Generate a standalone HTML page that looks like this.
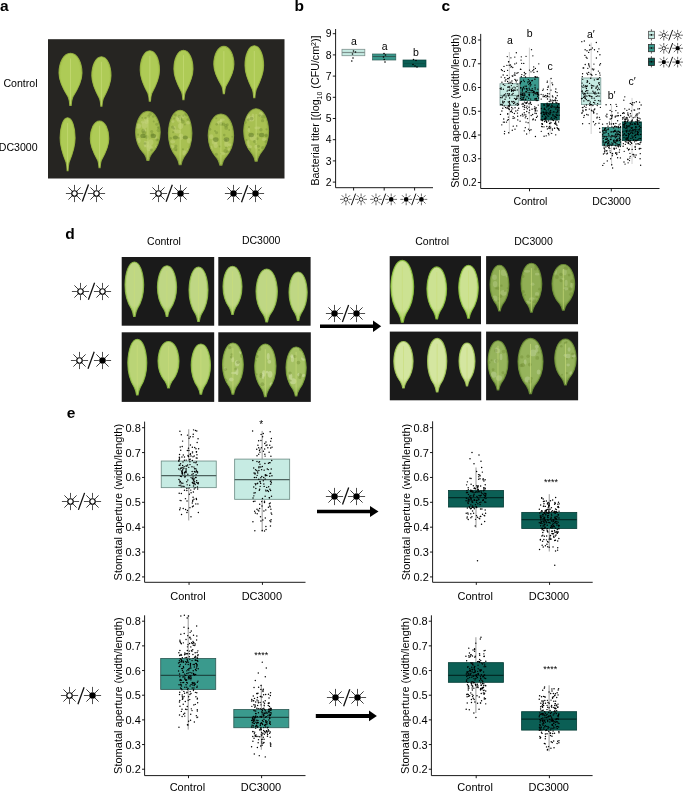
<!DOCTYPE html>
<html><head><meta charset="utf-8"><style>
html,body{margin:0;padding:0;background:#fff;}
body{width:685px;height:792px;overflow:hidden;}
svg{display:block;font-family:"Liberation Sans", sans-serif;will-change:transform;}
</style></head><body>
<svg width="685" height="792" viewBox="0 0 685 792">
<rect width="685" height="792" fill="#fff"/>
<text x="0.00" y="11.40" font-size="15.5" text-anchor="start" font-weight="bold" fill="#000" >a</text>
<rect x="48.00" y="39.20" width="236.50" height="139.30" fill="#262522"/>
<text x="37.60" y="87.30" font-size="10.6" text-anchor="end" font-weight="normal" fill="#000" >Control</text>
<text x="37.60" y="150.90" font-size="10.6" text-anchor="end" font-weight="normal" fill="#000" >DC3000</text>
<radialGradient id="g0" cx="0.5" cy="0.42" r="0.6"><stop offset="0" stop-color="#aecb56"/><stop offset="0.65" stop-color="#aecb56"/><stop offset="1" stop-color="#9dbb42"/></radialGradient>
<path transform="translate(59.00,53.30) scale(23.00,52.10)" d="M0.5 0 C0.8 0 1 0.18 1 0.38 C1 0.55 0.8 0.7 0.6 0.84 C0.56 0.88 0.54 0.94 0.53 1 L0.47 1 C0.46 0.94 0.44 0.88 0.4 0.84 C0.2 0.7 0 0.55 0 0.38 C0 0.18 0.2 0 0.5 0 Z" fill="url(#g0)"/>
<path d="M0.5 0 C0.8 0 1 0.18 1 0.38 C1 0.55 0.8 0.7 0.6 0.84 C0.56 0.88 0.54 0.94 0.53 1 L0.47 1 C0.46 0.94 0.44 0.88 0.4 0.84 C0.2 0.7 0 0.55 0 0.38 C0 0.18 0.2 0 0.5 0 Z" transform="translate(59.00,53.30) scale(23.00,52.10)" fill="none" stroke="#9dbb42" stroke-width="1.1" vector-effect="non-scaling-stroke" opacity="0.85"/>
<line x1="70.50" y1="58.51" x2="70.50" y2="104.36" stroke="#c8dc7a" stroke-width="0.9" opacity="0.7"/>
<path transform="translate(91.80,56.80) scale(19.20,49.50)" d="M0.5 0 C0.8 0 1 0.18 1 0.38 C1 0.55 0.8 0.7 0.6 0.84 C0.56 0.88 0.54 0.94 0.53 1 L0.47 1 C0.46 0.94 0.44 0.88 0.4 0.84 C0.2 0.7 0 0.55 0 0.38 C0 0.18 0.2 0 0.5 0 Z" fill="url(#g0)"/>
<path d="M0.5 0 C0.8 0 1 0.18 1 0.38 C1 0.55 0.8 0.7 0.6 0.84 C0.56 0.88 0.54 0.94 0.53 1 L0.47 1 C0.46 0.94 0.44 0.88 0.4 0.84 C0.2 0.7 0 0.55 0 0.38 C0 0.18 0.2 0 0.5 0 Z" transform="translate(91.80,56.80) scale(19.20,49.50)" fill="none" stroke="#9dbb42" stroke-width="1.1" vector-effect="non-scaling-stroke" opacity="0.85"/>
<line x1="101.40" y1="61.75" x2="101.40" y2="105.31" stroke="#c8dc7a" stroke-width="0.9" opacity="0.7"/>
<path transform="translate(140.20,50.70) scale(19.30,50.60)" d="M0.5 0 C0.8 0 1 0.18 1 0.38 C1 0.55 0.8 0.7 0.6 0.84 C0.56 0.88 0.54 0.94 0.53 1 L0.47 1 C0.46 0.94 0.44 0.88 0.4 0.84 C0.2 0.7 0 0.55 0 0.38 C0 0.18 0.2 0 0.5 0 Z" fill="url(#g0)"/>
<path d="M0.5 0 C0.8 0 1 0.18 1 0.38 C1 0.55 0.8 0.7 0.6 0.84 C0.56 0.88 0.54 0.94 0.53 1 L0.47 1 C0.46 0.94 0.44 0.88 0.4 0.84 C0.2 0.7 0 0.55 0 0.38 C0 0.18 0.2 0 0.5 0 Z" transform="translate(140.20,50.70) scale(19.30,50.60)" fill="none" stroke="#9dbb42" stroke-width="1.1" vector-effect="non-scaling-stroke" opacity="0.85"/>
<line x1="149.85" y1="55.76" x2="149.85" y2="100.29" stroke="#c8dc7a" stroke-width="0.9" opacity="0.7"/>
<path transform="translate(173.90,50.20) scale(19.10,49.60)" d="M0.5 0 C0.8 0 1 0.18 1 0.38 C1 0.55 0.8 0.7 0.6 0.84 C0.56 0.88 0.54 0.94 0.53 1 L0.47 1 C0.46 0.94 0.44 0.88 0.4 0.84 C0.2 0.7 0 0.55 0 0.38 C0 0.18 0.2 0 0.5 0 Z" fill="url(#g0)"/>
<path d="M0.5 0 C0.8 0 1 0.18 1 0.38 C1 0.55 0.8 0.7 0.6 0.84 C0.56 0.88 0.54 0.94 0.53 1 L0.47 1 C0.46 0.94 0.44 0.88 0.4 0.84 C0.2 0.7 0 0.55 0 0.38 C0 0.18 0.2 0 0.5 0 Z" transform="translate(173.90,50.20) scale(19.10,49.60)" fill="none" stroke="#9dbb42" stroke-width="1.1" vector-effect="non-scaling-stroke" opacity="0.85"/>
<line x1="183.45" y1="55.16" x2="183.45" y2="98.81" stroke="#c8dc7a" stroke-width="0.9" opacity="0.7"/>
<path transform="translate(213.80,46.40) scale(20.10,47.30)" d="M0.5 0 C0.8 0 1 0.18 1 0.38 C1 0.55 0.8 0.7 0.6 0.84 C0.56 0.88 0.54 0.94 0.53 1 L0.47 1 C0.46 0.94 0.44 0.88 0.4 0.84 C0.2 0.7 0 0.55 0 0.38 C0 0.18 0.2 0 0.5 0 Z" fill="url(#g0)"/>
<path d="M0.5 0 C0.8 0 1 0.18 1 0.38 C1 0.55 0.8 0.7 0.6 0.84 C0.56 0.88 0.54 0.94 0.53 1 L0.47 1 C0.46 0.94 0.44 0.88 0.4 0.84 C0.2 0.7 0 0.55 0 0.38 C0 0.18 0.2 0 0.5 0 Z" transform="translate(213.80,46.40) scale(20.10,47.30)" fill="none" stroke="#9dbb42" stroke-width="1.1" vector-effect="non-scaling-stroke" opacity="0.85"/>
<line x1="223.85" y1="51.13" x2="223.85" y2="92.75" stroke="#c8dc7a" stroke-width="0.9" opacity="0.7"/>
<path transform="translate(245.00,45.80) scale(18.60,52.00)" d="M0.5 0 C0.8 0 1 0.18 1 0.38 C1 0.55 0.8 0.7 0.6 0.84 C0.56 0.88 0.54 0.94 0.53 1 L0.47 1 C0.46 0.94 0.44 0.88 0.4 0.84 C0.2 0.7 0 0.55 0 0.38 C0 0.18 0.2 0 0.5 0 Z" fill="url(#g0)"/>
<path d="M0.5 0 C0.8 0 1 0.18 1 0.38 C1 0.55 0.8 0.7 0.6 0.84 C0.56 0.88 0.54 0.94 0.53 1 L0.47 1 C0.46 0.94 0.44 0.88 0.4 0.84 C0.2 0.7 0 0.55 0 0.38 C0 0.18 0.2 0 0.5 0 Z" transform="translate(245.00,45.80) scale(18.60,52.00)" fill="none" stroke="#9dbb42" stroke-width="1.1" vector-effect="non-scaling-stroke" opacity="0.85"/>
<line x1="254.30" y1="51.00" x2="254.30" y2="96.76" stroke="#c8dc7a" stroke-width="0.9" opacity="0.7"/>
<path transform="translate(60.10,117.80) scale(15.00,53.00)" d="M0.5 0 C0.8 0 1 0.18 1 0.38 C1 0.55 0.8 0.7 0.6 0.84 C0.56 0.88 0.54 0.94 0.53 1 L0.47 1 C0.46 0.94 0.44 0.88 0.4 0.84 C0.2 0.7 0 0.55 0 0.38 C0 0.18 0.2 0 0.5 0 Z" fill="url(#g0)"/>
<path d="M0.5 0 C0.8 0 1 0.18 1 0.38 C1 0.55 0.8 0.7 0.6 0.84 C0.56 0.88 0.54 0.94 0.53 1 L0.47 1 C0.46 0.94 0.44 0.88 0.4 0.84 C0.2 0.7 0 0.55 0 0.38 C0 0.18 0.2 0 0.5 0 Z" transform="translate(60.10,117.80) scale(15.00,53.00)" fill="none" stroke="#9dbb42" stroke-width="1.1" vector-effect="non-scaling-stroke" opacity="0.85"/>
<line x1="67.60" y1="123.10" x2="67.60" y2="169.74" stroke="#c8dc7a" stroke-width="0.9" opacity="0.7"/>
<path transform="translate(90.30,121.00) scale(18.50,46.60)" d="M0.5 0 C0.8 0 1 0.18 1 0.38 C1 0.55 0.8 0.7 0.6 0.84 C0.56 0.88 0.54 0.94 0.53 1 L0.47 1 C0.46 0.94 0.44 0.88 0.4 0.84 C0.2 0.7 0 0.55 0 0.38 C0 0.18 0.2 0 0.5 0 Z" fill="url(#g0)"/>
<path d="M0.5 0 C0.8 0 1 0.18 1 0.38 C1 0.55 0.8 0.7 0.6 0.84 C0.56 0.88 0.54 0.94 0.53 1 L0.47 1 C0.46 0.94 0.44 0.88 0.4 0.84 C0.2 0.7 0 0.55 0 0.38 C0 0.18 0.2 0 0.5 0 Z" transform="translate(90.30,121.00) scale(18.50,46.60)" fill="none" stroke="#9dbb42" stroke-width="1.1" vector-effect="non-scaling-stroke" opacity="0.85"/>
<line x1="99.55" y1="125.66" x2="99.55" y2="166.67" stroke="#c8dc7a" stroke-width="0.9" opacity="0.7"/>
<radialGradient id="g1" cx="0.5" cy="0.42" r="0.6"><stop offset="0" stop-color="#a8c052"/><stop offset="0.65" stop-color="#a8c052"/><stop offset="1" stop-color="#8eaa3e"/></radialGradient>
<clipPath id="lf9"><path transform="translate(135.60,111.40) scale(24.60,49.00)" d="M0.5 0 C0.78 0 0.98 0.18 1 0.42 C1 0.62 0.85 0.76 0.66 0.86 C0.6 0.9 0.56 0.95 0.54 1 L0.46 1 C0.44 0.95 0.4 0.9 0.34 0.86 C0.15 0.76 0 0.62 0 0.42 C0.02 0.18 0.22 0 0.5 0 Z"/></clipPath>
<path transform="translate(135.60,111.40) scale(24.60,49.00)" d="M0.5 0 C0.78 0 0.98 0.18 1 0.42 C1 0.62 0.85 0.76 0.66 0.86 C0.6 0.9 0.56 0.95 0.54 1 L0.46 1 C0.44 0.95 0.4 0.9 0.34 0.86 C0.15 0.76 0 0.62 0 0.42 C0.02 0.18 0.22 0 0.5 0 Z" fill="url(#g1)"/>
<g clip-path="url(#lf9)"><ellipse cx="142.79" cy="121.94" rx="2.00" ry="1.56" fill="#c2d27a" opacity="0.55"/><ellipse cx="146.06" cy="120.32" rx="2.25" ry="2.50" fill="#c2d27a" opacity="0.55"/><ellipse cx="144.92" cy="144.10" rx="1.26" ry="3.44" fill="#c2d27a" opacity="0.55"/><ellipse cx="146.61" cy="121.93" rx="1.97" ry="2.17" fill="#c2d27a" opacity="0.55"/><ellipse cx="138.20" cy="140.42" rx="2.48" ry="2.56" fill="#c2d27a" opacity="0.55"/><ellipse cx="150.58" cy="147.36" rx="2.17" ry="2.47" fill="#c2d27a" opacity="0.55"/><ellipse cx="156.58" cy="146.71" rx="1.55" ry="1.46" fill="#c2d27a" opacity="0.55"/><ellipse cx="155.84" cy="137.65" rx="1.24" ry="1.68" fill="#c2d27a" opacity="0.55"/><ellipse cx="144.61" cy="130.32" rx="1.72" ry="1.91" fill="#c2d27a" opacity="0.55"/><ellipse cx="149.00" cy="147.73" rx="2.60" ry="3.36" fill="#c2d27a" opacity="0.55"/><ellipse cx="138.20" cy="126.10" rx="2.99" ry="2.56" fill="#c2d27a" opacity="0.55"/><ellipse cx="144.50" cy="125.16" rx="2.90" ry="3.49" fill="#c2d27a" opacity="0.55"/><ellipse cx="150.79" cy="142.29" rx="2.68" ry="2.93" fill="#c2d27a" opacity="0.55"/><ellipse cx="146.81" cy="144.28" rx="2.48" ry="3.31" fill="#c2d27a" opacity="0.55"/></g>
<g clip-path="url(#lf9)"><circle cx="156.72" cy="124.29" r="1.51" fill="#6f8a30" opacity="0.4"/><circle cx="145.46" cy="118.09" r="1.21" fill="#6f8a30" opacity="0.4"/><circle cx="158.47" cy="127.78" r="0.96" fill="#6f8a30" opacity="0.4"/><circle cx="146.71" cy="136.85" r="1.94" fill="#6f8a30" opacity="0.4"/><circle cx="144.33" cy="136.83" r="1.16" fill="#6f8a30" opacity="0.4"/><circle cx="158.59" cy="130.37" r="1.92" fill="#6f8a30" opacity="0.4"/><circle cx="156.97" cy="139.93" r="1.45" fill="#6f8a30" opacity="0.4"/><circle cx="152.26" cy="134.63" r="1.77" fill="#6f8a30" opacity="0.4"/><circle cx="158.19" cy="127.41" r="1.26" fill="#6f8a30" opacity="0.4"/><circle cx="143.09" cy="131.00" r="1.96" fill="#6f8a30" opacity="0.4"/><circle cx="144.10" cy="132.83" r="2.20" fill="#6f8a30" opacity="0.4"/><circle cx="142.20" cy="117.85" r="0.88" fill="#6f8a30" opacity="0.4"/><circle cx="153.21" cy="116.57" r="1.30" fill="#6f8a30" opacity="0.4"/><circle cx="151.74" cy="131.57" r="1.54" fill="#6f8a30" opacity="0.4"/><circle cx="150.14" cy="114.13" r="1.66" fill="#6f8a30" opacity="0.4"/><circle cx="151.40" cy="149.95" r="1.44" fill="#6f8a30" opacity="0.4"/><circle cx="148.50" cy="116.47" r="1.37" fill="#6f8a30" opacity="0.4"/><circle cx="138.15" cy="134.63" r="1.01" fill="#6f8a30" opacity="0.4"/><circle cx="153.70" cy="121.40" r="1.02" fill="#6f8a30" opacity="0.4"/><circle cx="145.02" cy="143.49" r="1.35" fill="#6f8a30" opacity="0.4"/><circle cx="158.03" cy="139.82" r="1.08" fill="#6f8a30" opacity="0.4"/></g>
<ellipse cx="142.98" cy="135.90" rx="2.71" ry="2.21" fill="#5f7a28" opacity="0.55"/>
<ellipse cx="153.31" cy="135.90" rx="2.71" ry="2.21" fill="#5f7a28" opacity="0.55"/>
<path d="M0.5 0 C0.78 0 0.98 0.18 1 0.42 C1 0.62 0.85 0.76 0.66 0.86 C0.6 0.9 0.56 0.95 0.54 1 L0.46 1 C0.44 0.95 0.4 0.9 0.34 0.86 C0.15 0.76 0 0.62 0 0.42 C0.02 0.18 0.22 0 0.5 0 Z" transform="translate(135.60,111.40) scale(24.60,49.00)" fill="none" stroke="#8eaa3e" stroke-width="1.1" vector-effect="non-scaling-stroke" opacity="0.85"/>
<line x1="147.90" y1="116.30" x2="147.90" y2="159.42" stroke="#c8dc7a" stroke-width="0.9" opacity="0.7"/>
<clipPath id="lf10"><path transform="translate(168.40,110.20) scale(23.50,54.60)" d="M0.5 0 C0.78 0 0.98 0.18 1 0.42 C1 0.62 0.85 0.76 0.66 0.86 C0.6 0.9 0.56 0.95 0.54 1 L0.46 1 C0.44 0.95 0.4 0.9 0.34 0.86 C0.15 0.76 0 0.62 0 0.42 C0.02 0.18 0.22 0 0.5 0 Z"/></clipPath>
<path transform="translate(168.40,110.20) scale(23.50,54.60)" d="M0.5 0 C0.78 0 0.98 0.18 1 0.42 C1 0.62 0.85 0.76 0.66 0.86 C0.6 0.9 0.56 0.95 0.54 1 L0.46 1 C0.44 0.95 0.4 0.9 0.34 0.86 C0.15 0.76 0 0.62 0 0.42 C0.02 0.18 0.22 0 0.5 0 Z" fill="url(#g1)"/>
<g clip-path="url(#lf10)"><ellipse cx="180.52" cy="126.11" rx="2.68" ry="3.03" fill="#c2d27a" opacity="0.55"/><ellipse cx="182.92" cy="116.50" rx="1.68" ry="1.98" fill="#c2d27a" opacity="0.55"/><ellipse cx="189.11" cy="140.82" rx="2.26" ry="2.74" fill="#c2d27a" opacity="0.55"/><ellipse cx="172.73" cy="141.78" rx="2.51" ry="1.68" fill="#c2d27a" opacity="0.55"/><ellipse cx="177.50" cy="131.49" rx="3.11" ry="2.05" fill="#c2d27a" opacity="0.55"/><ellipse cx="171.27" cy="146.77" rx="2.93" ry="1.98" fill="#c2d27a" opacity="0.55"/><ellipse cx="184.39" cy="153.10" rx="1.99" ry="2.73" fill="#c2d27a" opacity="0.55"/><ellipse cx="181.04" cy="136.61" rx="2.28" ry="3.14" fill="#c2d27a" opacity="0.55"/><ellipse cx="188.06" cy="151.24" rx="1.46" ry="3.17" fill="#c2d27a" opacity="0.55"/><ellipse cx="172.93" cy="121.58" rx="1.50" ry="1.40" fill="#c2d27a" opacity="0.55"/><ellipse cx="179.01" cy="119.61" rx="2.07" ry="3.25" fill="#c2d27a" opacity="0.55"/><ellipse cx="178.49" cy="118.71" rx="2.71" ry="2.40" fill="#c2d27a" opacity="0.55"/><ellipse cx="174.21" cy="128.61" rx="1.71" ry="2.49" fill="#c2d27a" opacity="0.55"/><ellipse cx="188.09" cy="122.76" rx="2.07" ry="1.82" fill="#c2d27a" opacity="0.55"/></g>
<g clip-path="url(#lf10)"><circle cx="182.93" cy="149.27" r="1.10" fill="#6f8a30" opacity="0.4"/><circle cx="172.51" cy="126.95" r="1.56" fill="#6f8a30" opacity="0.4"/><circle cx="179.08" cy="138.02" r="1.12" fill="#6f8a30" opacity="0.4"/><circle cx="180.65" cy="118.83" r="1.62" fill="#6f8a30" opacity="0.4"/><circle cx="175.96" cy="146.07" r="1.50" fill="#6f8a30" opacity="0.4"/><circle cx="170.69" cy="138.31" r="1.25" fill="#6f8a30" opacity="0.4"/><circle cx="179.39" cy="116.62" r="1.73" fill="#6f8a30" opacity="0.4"/><circle cx="175.30" cy="115.02" r="1.44" fill="#6f8a30" opacity="0.4"/><circle cx="173.11" cy="132.26" r="1.05" fill="#6f8a30" opacity="0.4"/><circle cx="174.21" cy="118.47" r="1.05" fill="#6f8a30" opacity="0.4"/><circle cx="187.79" cy="119.48" r="1.31" fill="#6f8a30" opacity="0.4"/><circle cx="181.76" cy="119.90" r="1.04" fill="#6f8a30" opacity="0.4"/><circle cx="175.37" cy="149.08" r="2.03" fill="#6f8a30" opacity="0.4"/><circle cx="183.26" cy="115.71" r="1.09" fill="#6f8a30" opacity="0.4"/><circle cx="184.88" cy="124.52" r="0.96" fill="#6f8a30" opacity="0.4"/><circle cx="176.33" cy="150.36" r="1.06" fill="#6f8a30" opacity="0.4"/><circle cx="186.91" cy="114.70" r="1.70" fill="#6f8a30" opacity="0.4"/><circle cx="185.55" cy="114.02" r="1.43" fill="#6f8a30" opacity="0.4"/><circle cx="189.02" cy="150.79" r="1.62" fill="#6f8a30" opacity="0.4"/><circle cx="173.89" cy="128.57" r="1.18" fill="#6f8a30" opacity="0.4"/><circle cx="182.95" cy="121.63" r="1.84" fill="#6f8a30" opacity="0.4"/></g>
<ellipse cx="175.45" cy="137.50" rx="2.58" ry="2.11" fill="#5f7a28" opacity="0.55"/>
<ellipse cx="185.32" cy="137.50" rx="2.58" ry="2.11" fill="#5f7a28" opacity="0.55"/>
<path d="M0.5 0 C0.78 0 0.98 0.18 1 0.42 C1 0.62 0.85 0.76 0.66 0.86 C0.6 0.9 0.56 0.95 0.54 1 L0.46 1 C0.44 0.95 0.4 0.9 0.34 0.86 C0.15 0.76 0 0.62 0 0.42 C0.02 0.18 0.22 0 0.5 0 Z" transform="translate(168.40,110.20) scale(23.50,54.60)" fill="none" stroke="#8eaa3e" stroke-width="1.1" vector-effect="non-scaling-stroke" opacity="0.85"/>
<line x1="180.15" y1="115.66" x2="180.15" y2="163.71" stroke="#c8dc7a" stroke-width="0.9" opacity="0.7"/>
<clipPath id="lf11"><path transform="translate(208.20,114.00) scale(25.40,51.20)" d="M0.5 0 C0.78 0 0.98 0.18 1 0.42 C1 0.62 0.85 0.76 0.66 0.86 C0.6 0.9 0.56 0.95 0.54 1 L0.46 1 C0.44 0.95 0.4 0.9 0.34 0.86 C0.15 0.76 0 0.62 0 0.42 C0.02 0.18 0.22 0 0.5 0 Z"/></clipPath>
<path transform="translate(208.20,114.00) scale(25.40,51.20)" d="M0.5 0 C0.78 0 0.98 0.18 1 0.42 C1 0.62 0.85 0.76 0.66 0.86 C0.6 0.9 0.56 0.95 0.54 1 L0.46 1 C0.44 0.95 0.4 0.9 0.34 0.86 C0.15 0.76 0 0.62 0 0.42 C0.02 0.18 0.22 0 0.5 0 Z" fill="url(#g1)"/>
<g clip-path="url(#lf11)"><ellipse cx="229.16" cy="149.63" rx="1.29" ry="1.72" fill="#c2d27a" opacity="0.55"/><ellipse cx="215.71" cy="145.39" rx="2.19" ry="2.52" fill="#c2d27a" opacity="0.55"/><ellipse cx="226.22" cy="140.14" rx="2.88" ry="1.43" fill="#c2d27a" opacity="0.55"/><ellipse cx="223.08" cy="153.48" rx="2.47" ry="1.46" fill="#c2d27a" opacity="0.55"/><ellipse cx="228.31" cy="153.86" rx="1.78" ry="2.26" fill="#c2d27a" opacity="0.55"/><ellipse cx="219.42" cy="122.47" rx="2.42" ry="1.94" fill="#c2d27a" opacity="0.55"/><ellipse cx="214.71" cy="141.93" rx="2.90" ry="2.58" fill="#c2d27a" opacity="0.55"/><ellipse cx="226.47" cy="143.79" rx="2.22" ry="3.38" fill="#c2d27a" opacity="0.55"/><ellipse cx="226.52" cy="139.65" rx="1.91" ry="1.81" fill="#c2d27a" opacity="0.55"/><ellipse cx="229.67" cy="144.85" rx="1.89" ry="1.50" fill="#c2d27a" opacity="0.55"/><ellipse cx="220.98" cy="121.78" rx="1.41" ry="2.21" fill="#c2d27a" opacity="0.55"/><ellipse cx="211.16" cy="148.90" rx="1.52" ry="3.37" fill="#c2d27a" opacity="0.55"/><ellipse cx="222.36" cy="119.82" rx="2.54" ry="1.29" fill="#c2d27a" opacity="0.55"/><ellipse cx="211.24" cy="136.78" rx="2.23" ry="2.46" fill="#c2d27a" opacity="0.55"/></g>
<g clip-path="url(#lf11)"><circle cx="227.36" cy="124.76" r="1.42" fill="#6f8a30" opacity="0.4"/><circle cx="227.66" cy="151.89" r="1.56" fill="#6f8a30" opacity="0.4"/><circle cx="220.69" cy="153.75" r="0.80" fill="#6f8a30" opacity="0.4"/><circle cx="226.14" cy="147.67" r="1.11" fill="#6f8a30" opacity="0.4"/><circle cx="209.99" cy="129.28" r="1.37" fill="#6f8a30" opacity="0.4"/><circle cx="232.25" cy="136.71" r="0.96" fill="#6f8a30" opacity="0.4"/><circle cx="223.72" cy="124.18" r="1.79" fill="#6f8a30" opacity="0.4"/><circle cx="216.36" cy="154.23" r="1.60" fill="#6f8a30" opacity="0.4"/><circle cx="225.82" cy="125.71" r="1.81" fill="#6f8a30" opacity="0.4"/><circle cx="229.22" cy="130.05" r="0.94" fill="#6f8a30" opacity="0.4"/><circle cx="226.25" cy="127.92" r="1.91" fill="#6f8a30" opacity="0.4"/><circle cx="231.20" cy="153.11" r="1.97" fill="#6f8a30" opacity="0.4"/><circle cx="226.00" cy="139.95" r="1.25" fill="#6f8a30" opacity="0.4"/><circle cx="216.59" cy="132.84" r="1.49" fill="#6f8a30" opacity="0.4"/><circle cx="216.69" cy="124.37" r="1.26" fill="#6f8a30" opacity="0.4"/><circle cx="219.78" cy="146.52" r="1.06" fill="#6f8a30" opacity="0.4"/><circle cx="225.47" cy="151.07" r="2.12" fill="#6f8a30" opacity="0.4"/><circle cx="221.26" cy="124.02" r="1.96" fill="#6f8a30" opacity="0.4"/><circle cx="224.26" cy="135.09" r="1.30" fill="#6f8a30" opacity="0.4"/><circle cx="216.28" cy="118.22" r="1.05" fill="#6f8a30" opacity="0.4"/><circle cx="215.04" cy="130.97" r="0.99" fill="#6f8a30" opacity="0.4"/></g>
<ellipse cx="215.82" cy="139.60" rx="2.79" ry="2.29" fill="#5f7a28" opacity="0.55"/>
<ellipse cx="226.49" cy="139.60" rx="2.79" ry="2.29" fill="#5f7a28" opacity="0.55"/>
<path d="M0.5 0 C0.78 0 0.98 0.18 1 0.42 C1 0.62 0.85 0.76 0.66 0.86 C0.6 0.9 0.56 0.95 0.54 1 L0.46 1 C0.44 0.95 0.4 0.9 0.34 0.86 C0.15 0.76 0 0.62 0 0.42 C0.02 0.18 0.22 0 0.5 0 Z" transform="translate(208.20,114.00) scale(25.40,51.20)" fill="none" stroke="#8eaa3e" stroke-width="1.1" vector-effect="non-scaling-stroke" opacity="0.85"/>
<line x1="220.90" y1="119.12" x2="220.90" y2="164.18" stroke="#c8dc7a" stroke-width="0.9" opacity="0.7"/>
<clipPath id="lf12"><path transform="translate(243.70,108.80) scale(24.90,52.50)" d="M0.5 0 C0.78 0 0.98 0.18 1 0.42 C1 0.62 0.85 0.76 0.66 0.86 C0.6 0.9 0.56 0.95 0.54 1 L0.46 1 C0.44 0.95 0.4 0.9 0.34 0.86 C0.15 0.76 0 0.62 0 0.42 C0.02 0.18 0.22 0 0.5 0 Z"/></clipPath>
<path transform="translate(243.70,108.80) scale(24.90,52.50)" d="M0.5 0 C0.78 0 0.98 0.18 1 0.42 C1 0.62 0.85 0.76 0.66 0.86 C0.6 0.9 0.56 0.95 0.54 1 L0.46 1 C0.44 0.95 0.4 0.9 0.34 0.86 C0.15 0.76 0 0.62 0 0.42 C0.02 0.18 0.22 0 0.5 0 Z" fill="url(#g1)"/>
<g clip-path="url(#lf12)"><ellipse cx="255.91" cy="146.72" rx="1.69" ry="2.02" fill="#c2d27a" opacity="0.55"/><ellipse cx="250.63" cy="119.84" rx="3.04" ry="1.51" fill="#c2d27a" opacity="0.55"/><ellipse cx="257.37" cy="127.88" rx="3.06" ry="1.40" fill="#c2d27a" opacity="0.55"/><ellipse cx="248.87" cy="130.13" rx="1.27" ry="2.11" fill="#c2d27a" opacity="0.55"/><ellipse cx="261.26" cy="114.13" rx="2.35" ry="2.72" fill="#c2d27a" opacity="0.55"/><ellipse cx="248.30" cy="143.04" rx="1.30" ry="3.15" fill="#c2d27a" opacity="0.55"/><ellipse cx="249.07" cy="146.78" rx="3.01" ry="1.78" fill="#c2d27a" opacity="0.55"/><ellipse cx="247.02" cy="116.83" rx="1.51" ry="2.93" fill="#c2d27a" opacity="0.55"/><ellipse cx="251.54" cy="118.70" rx="2.85" ry="2.62" fill="#c2d27a" opacity="0.55"/><ellipse cx="248.19" cy="116.38" rx="1.69" ry="3.06" fill="#c2d27a" opacity="0.55"/><ellipse cx="264.03" cy="139.46" rx="2.15" ry="1.60" fill="#c2d27a" opacity="0.55"/><ellipse cx="252.81" cy="137.64" rx="2.96" ry="2.99" fill="#c2d27a" opacity="0.55"/><ellipse cx="252.95" cy="115.59" rx="1.33" ry="2.12" fill="#c2d27a" opacity="0.55"/><ellipse cx="246.57" cy="149.14" rx="2.23" ry="3.20" fill="#c2d27a" opacity="0.55"/></g>
<g clip-path="url(#lf12)"><circle cx="259.66" cy="115.57" r="1.22" fill="#6f8a30" opacity="0.4"/><circle cx="260.95" cy="129.78" r="1.69" fill="#6f8a30" opacity="0.4"/><circle cx="258.47" cy="146.29" r="1.51" fill="#6f8a30" opacity="0.4"/><circle cx="262.72" cy="147.68" r="1.67" fill="#6f8a30" opacity="0.4"/><circle cx="245.21" cy="122.41" r="1.43" fill="#6f8a30" opacity="0.4"/><circle cx="266.55" cy="129.31" r="1.11" fill="#6f8a30" opacity="0.4"/><circle cx="251.58" cy="118.65" r="1.83" fill="#6f8a30" opacity="0.4"/><circle cx="257.69" cy="133.99" r="0.98" fill="#6f8a30" opacity="0.4"/><circle cx="258.93" cy="149.94" r="1.06" fill="#6f8a30" opacity="0.4"/><circle cx="256.10" cy="144.06" r="1.11" fill="#6f8a30" opacity="0.4"/><circle cx="266.11" cy="135.33" r="1.71" fill="#6f8a30" opacity="0.4"/><circle cx="249.07" cy="149.93" r="2.19" fill="#6f8a30" opacity="0.4"/><circle cx="254.59" cy="141.62" r="1.59" fill="#6f8a30" opacity="0.4"/><circle cx="262.56" cy="120.64" r="1.66" fill="#6f8a30" opacity="0.4"/><circle cx="266.26" cy="135.71" r="1.72" fill="#6f8a30" opacity="0.4"/><circle cx="248.44" cy="119.65" r="1.33" fill="#6f8a30" opacity="0.4"/><circle cx="263.16" cy="116.73" r="2.12" fill="#6f8a30" opacity="0.4"/><circle cx="266.26" cy="141.73" r="1.74" fill="#6f8a30" opacity="0.4"/><circle cx="257.20" cy="138.72" r="1.42" fill="#6f8a30" opacity="0.4"/><circle cx="246.63" cy="139.93" r="0.85" fill="#6f8a30" opacity="0.4"/><circle cx="249.00" cy="127.01" r="0.98" fill="#6f8a30" opacity="0.4"/></g>
<ellipse cx="251.17" cy="135.05" rx="2.74" ry="2.24" fill="#5f7a28" opacity="0.55"/>
<ellipse cx="261.63" cy="135.05" rx="2.74" ry="2.24" fill="#5f7a28" opacity="0.55"/>
<path d="M0.5 0 C0.78 0 0.98 0.18 1 0.42 C1 0.62 0.85 0.76 0.66 0.86 C0.6 0.9 0.56 0.95 0.54 1 L0.46 1 C0.44 0.95 0.4 0.9 0.34 0.86 C0.15 0.76 0 0.62 0 0.42 C0.02 0.18 0.22 0 0.5 0 Z" transform="translate(243.70,108.80) scale(24.90,52.50)" fill="none" stroke="#8eaa3e" stroke-width="1.1" vector-effect="non-scaling-stroke" opacity="0.85"/>
<line x1="256.15" y1="114.05" x2="256.15" y2="160.25" stroke="#c8dc7a" stroke-width="0.9" opacity="0.7"/>
<line x1="78.10" y1="193.50" x2="83.10" y2="193.50" stroke="#444" stroke-width="0.95"/>
<line x1="77.05" y1="196.05" x2="80.58" y2="199.58" stroke="#333" stroke-width="0.95"/>
<line x1="74.50" y1="197.10" x2="74.50" y2="202.10" stroke="#444" stroke-width="0.95"/>
<line x1="71.95" y1="196.05" x2="68.42" y2="199.58" stroke="#333" stroke-width="0.95"/>
<line x1="70.90" y1="193.50" x2="65.90" y2="193.50" stroke="#444" stroke-width="0.95"/>
<line x1="71.95" y1="190.95" x2="68.42" y2="187.42" stroke="#333" stroke-width="0.95"/>
<line x1="74.50" y1="189.90" x2="74.50" y2="184.90" stroke="#444" stroke-width="0.95"/>
<line x1="77.05" y1="190.95" x2="80.58" y2="187.42" stroke="#333" stroke-width="0.95"/>
<circle cx="74.50" cy="193.50" r="2.75" fill="#fff" stroke="#000" stroke-width="1.2"/>
<line x1="100.10" y1="193.50" x2="105.10" y2="193.50" stroke="#444" stroke-width="0.95"/>
<line x1="99.05" y1="196.05" x2="102.58" y2="199.58" stroke="#333" stroke-width="0.95"/>
<line x1="96.50" y1="197.10" x2="96.50" y2="202.10" stroke="#444" stroke-width="0.95"/>
<line x1="93.95" y1="196.05" x2="90.42" y2="199.58" stroke="#333" stroke-width="0.95"/>
<line x1="92.90" y1="193.50" x2="87.90" y2="193.50" stroke="#444" stroke-width="0.95"/>
<line x1="93.95" y1="190.95" x2="90.42" y2="187.42" stroke="#333" stroke-width="0.95"/>
<line x1="96.50" y1="189.90" x2="96.50" y2="184.90" stroke="#444" stroke-width="0.95"/>
<line x1="99.05" y1="190.95" x2="102.58" y2="187.42" stroke="#333" stroke-width="0.95"/>
<circle cx="96.50" cy="193.50" r="2.75" fill="#fff" stroke="#000" stroke-width="1.2"/>
<line x1="88.50" y1="184.50" x2="82.30" y2="201.50" stroke="#111" stroke-width="1.3"/>
<line x1="162.10" y1="193.50" x2="167.10" y2="193.50" stroke="#444" stroke-width="0.95"/>
<line x1="161.05" y1="196.05" x2="164.58" y2="199.58" stroke="#333" stroke-width="0.95"/>
<line x1="158.50" y1="197.10" x2="158.50" y2="202.10" stroke="#444" stroke-width="0.95"/>
<line x1="155.95" y1="196.05" x2="152.42" y2="199.58" stroke="#333" stroke-width="0.95"/>
<line x1="154.90" y1="193.50" x2="149.90" y2="193.50" stroke="#444" stroke-width="0.95"/>
<line x1="155.95" y1="190.95" x2="152.42" y2="187.42" stroke="#333" stroke-width="0.95"/>
<line x1="158.50" y1="189.90" x2="158.50" y2="184.90" stroke="#444" stroke-width="0.95"/>
<line x1="161.05" y1="190.95" x2="164.58" y2="187.42" stroke="#333" stroke-width="0.95"/>
<circle cx="158.50" cy="193.50" r="2.75" fill="#fff" stroke="#000" stroke-width="1.2"/>
<line x1="184.10" y1="193.50" x2="189.10" y2="193.50" stroke="#444" stroke-width="0.95"/>
<line x1="183.05" y1="196.05" x2="186.58" y2="199.58" stroke="#333" stroke-width="0.95"/>
<line x1="180.50" y1="197.10" x2="180.50" y2="202.10" stroke="#444" stroke-width="0.95"/>
<line x1="177.95" y1="196.05" x2="174.42" y2="199.58" stroke="#333" stroke-width="0.95"/>
<line x1="176.90" y1="193.50" x2="171.90" y2="193.50" stroke="#444" stroke-width="0.95"/>
<line x1="177.95" y1="190.95" x2="174.42" y2="187.42" stroke="#333" stroke-width="0.95"/>
<line x1="180.50" y1="189.90" x2="180.50" y2="184.90" stroke="#444" stroke-width="0.95"/>
<line x1="183.05" y1="190.95" x2="186.58" y2="187.42" stroke="#333" stroke-width="0.95"/>
<circle cx="180.50" cy="193.50" r="3.25" fill="#000"/>
<line x1="172.30" y1="184.80" x2="166.10" y2="201.80" stroke="#111" stroke-width="1.3"/>
<line x1="237.10" y1="193.50" x2="242.10" y2="193.50" stroke="#444" stroke-width="0.95"/>
<line x1="236.05" y1="196.05" x2="239.58" y2="199.58" stroke="#333" stroke-width="0.95"/>
<line x1="233.50" y1="197.10" x2="233.50" y2="202.10" stroke="#444" stroke-width="0.95"/>
<line x1="230.95" y1="196.05" x2="227.42" y2="199.58" stroke="#333" stroke-width="0.95"/>
<line x1="229.90" y1="193.50" x2="224.90" y2="193.50" stroke="#444" stroke-width="0.95"/>
<line x1="230.95" y1="190.95" x2="227.42" y2="187.42" stroke="#333" stroke-width="0.95"/>
<line x1="233.50" y1="189.90" x2="233.50" y2="184.90" stroke="#444" stroke-width="0.95"/>
<line x1="236.05" y1="190.95" x2="239.58" y2="187.42" stroke="#333" stroke-width="0.95"/>
<circle cx="233.50" cy="193.50" r="3.25" fill="#000"/>
<line x1="259.10" y1="193.50" x2="264.10" y2="193.50" stroke="#444" stroke-width="0.95"/>
<line x1="258.05" y1="196.05" x2="261.58" y2="199.58" stroke="#333" stroke-width="0.95"/>
<line x1="255.50" y1="197.10" x2="255.50" y2="202.10" stroke="#444" stroke-width="0.95"/>
<line x1="252.95" y1="196.05" x2="249.42" y2="199.58" stroke="#333" stroke-width="0.95"/>
<line x1="251.90" y1="193.50" x2="246.90" y2="193.50" stroke="#444" stroke-width="0.95"/>
<line x1="252.95" y1="190.95" x2="249.42" y2="187.42" stroke="#333" stroke-width="0.95"/>
<line x1="255.50" y1="189.90" x2="255.50" y2="184.90" stroke="#444" stroke-width="0.95"/>
<line x1="258.05" y1="190.95" x2="261.58" y2="187.42" stroke="#333" stroke-width="0.95"/>
<circle cx="255.50" cy="193.50" r="3.25" fill="#000"/>
<line x1="247.70" y1="185.30" x2="241.50" y2="202.30" stroke="#111" stroke-width="1.3"/>
<text x="294.60" y="11.20" font-size="15.5" text-anchor="start" font-weight="bold" fill="#000" >b</text>
<line x1="335.60" y1="29.00" x2="335.60" y2="187.70" stroke="#000" stroke-width="0.9"/>
<line x1="335.60" y1="187.70" x2="433.00" y2="187.70" stroke="#000" stroke-width="0.9"/>
<line x1="332.80" y1="182.10" x2="335.60" y2="182.10" stroke="#000" stroke-width="0.9"/>
<text x="331.60" y="185.88" font-size="10.5" text-anchor="end" font-weight="normal" fill="#000" >2</text>
<line x1="332.80" y1="160.90" x2="335.60" y2="160.90" stroke="#000" stroke-width="0.9"/>
<text x="331.60" y="164.68" font-size="10.5" text-anchor="end" font-weight="normal" fill="#000" >3</text>
<line x1="332.80" y1="139.70" x2="335.60" y2="139.70" stroke="#000" stroke-width="0.9"/>
<text x="331.60" y="143.48" font-size="10.5" text-anchor="end" font-weight="normal" fill="#000" >4</text>
<line x1="332.80" y1="118.50" x2="335.60" y2="118.50" stroke="#000" stroke-width="0.9"/>
<text x="331.60" y="122.28" font-size="10.5" text-anchor="end" font-weight="normal" fill="#000" >5</text>
<line x1="332.80" y1="97.30" x2="335.60" y2="97.30" stroke="#000" stroke-width="0.9"/>
<text x="331.60" y="101.08" font-size="10.5" text-anchor="end" font-weight="normal" fill="#000" >6</text>
<line x1="332.80" y1="76.10" x2="335.60" y2="76.10" stroke="#000" stroke-width="0.9"/>
<text x="331.60" y="79.88" font-size="10.5" text-anchor="end" font-weight="normal" fill="#000" >7</text>
<line x1="332.80" y1="54.90" x2="335.60" y2="54.90" stroke="#000" stroke-width="0.9"/>
<text x="331.60" y="58.68" font-size="10.5" text-anchor="end" font-weight="normal" fill="#000" >8</text>
<line x1="332.80" y1="33.70" x2="335.60" y2="33.70" stroke="#000" stroke-width="0.9"/>
<text x="331.60" y="37.48" font-size="10.5" text-anchor="end" font-weight="normal" fill="#000" >9</text>
<line x1="353.60" y1="187.70" x2="353.60" y2="190.50" stroke="#000" stroke-width="0.9"/>
<line x1="384.20" y1="187.70" x2="384.20" y2="190.50" stroke="#000" stroke-width="0.9"/>
<line x1="414.60" y1="187.70" x2="414.60" y2="190.50" stroke="#000" stroke-width="0.9"/>
<text transform="translate(319,110.5) rotate(-90)" font-size="10.7" text-anchor="middle">Bacterial titer [(log<tspan font-size="7" dy="2.5">10</tspan><tspan dy="-2.5"> (CFU/cm</tspan><tspan font-size="7" dy="-3.5">2</tspan><tspan dy="3.5">)]</tspan></text>
<line x1="353.40" y1="49.00" x2="353.40" y2="56.00" stroke="#bbb" stroke-width="0.8"/>
<rect x="342.00" y="49.30" width="22.80" height="6.40" fill="#c6ebe3" stroke="#7d918d" stroke-width="0.8"/>
<line x1="342.00" y1="52.50" x2="364.80" y2="52.50" stroke="#7d918d" stroke-width="1.2000000000000002"/>
<line x1="384.20" y1="54.00" x2="384.20" y2="60.00" stroke="#bbb" stroke-width="0.7"/>
<rect x="372.60" y="54.00" width="23.20" height="6.00" fill="#3a9a8d" stroke="#2f5d57" stroke-width="0.7"/>
<line x1="372.60" y1="56.50" x2="395.80" y2="56.50" stroke="#2f5d57" stroke-width="1.1"/>
<line x1="414.60" y1="60.00" x2="414.60" y2="67.00" stroke="#bbb" stroke-width="0.7"/>
<rect x="403.00" y="60.00" width="23.00" height="7.00" fill="#0b5f55" stroke="#08403a" stroke-width="0.7"/>
<line x1="403.00" y1="63.50" x2="426.00" y2="63.50" stroke="#0a5248" stroke-width="1.1"/>
<g fill="#000"><circle cx="353.50" cy="51.00" r="0.8"/><circle cx="355.50" cy="52.00" r="0.8"/><circle cx="352.50" cy="54.00" r="0.8"/><circle cx="353.00" cy="58.00" r="0.8"/><circle cx="351.80" cy="61.00" r="0.8"/></g>
<g fill="#000"><circle cx="384.00" cy="53.50" r="0.8"/><circle cx="385.50" cy="55.00" r="0.8"/><circle cx="383.50" cy="57.00" r="0.8"/><circle cx="384.20" cy="59.50" r="0.8"/><circle cx="385.00" cy="62.00" r="0.8"/></g>
<g fill="#000"><circle cx="413.50" cy="59.50" r="0.8"/><circle cx="416.00" cy="60.50" r="0.8"/><circle cx="413.00" cy="64.50" r="0.8"/><circle cx="415.00" cy="66.00" r="0.8"/><circle cx="417.00" cy="67.00" r="0.8"/></g>
<text x="353.80" y="45.30" font-size="10.5" text-anchor="middle" font-weight="normal" fill="#000" >a</text>
<text x="384.60" y="49.60" font-size="10.5" text-anchor="middle" font-weight="normal" fill="#000" >a</text>
<text x="416.00" y="55.70" font-size="10.5" text-anchor="middle" font-weight="normal" fill="#000" >b</text>
<line x1="348.81" y1="199.40" x2="351.73" y2="199.40" stroke="#444" stroke-width="0.8"/>
<line x1="347.95" y1="201.47" x2="350.02" y2="203.54" stroke="#333" stroke-width="0.8"/>
<line x1="345.88" y1="202.32" x2="345.88" y2="205.25" stroke="#444" stroke-width="0.8"/>
<line x1="343.82" y1="201.47" x2="341.75" y2="203.54" stroke="#333" stroke-width="0.8"/>
<line x1="342.96" y1="199.40" x2="340.04" y2="199.40" stroke="#444" stroke-width="0.8"/>
<line x1="343.82" y1="197.33" x2="341.75" y2="195.26" stroke="#333" stroke-width="0.8"/>
<line x1="345.88" y1="196.48" x2="345.88" y2="193.55" stroke="#444" stroke-width="0.8"/>
<line x1="347.95" y1="197.33" x2="350.02" y2="195.26" stroke="#333" stroke-width="0.8"/>
<circle cx="345.88" cy="199.40" r="1.87" fill="#fff" stroke="#000" stroke-width="0.85"/>
<line x1="364.04" y1="199.40" x2="366.96" y2="199.40" stroke="#444" stroke-width="0.8"/>
<line x1="363.18" y1="201.47" x2="365.25" y2="203.54" stroke="#333" stroke-width="0.8"/>
<line x1="361.12" y1="202.32" x2="361.12" y2="205.25" stroke="#444" stroke-width="0.8"/>
<line x1="359.05" y1="201.47" x2="356.98" y2="203.54" stroke="#333" stroke-width="0.8"/>
<line x1="358.19" y1="199.40" x2="355.27" y2="199.40" stroke="#444" stroke-width="0.8"/>
<line x1="359.05" y1="197.33" x2="356.98" y2="195.26" stroke="#333" stroke-width="0.8"/>
<line x1="361.12" y1="196.48" x2="361.12" y2="193.55" stroke="#444" stroke-width="0.8"/>
<line x1="363.18" y1="197.33" x2="365.25" y2="195.26" stroke="#333" stroke-width="0.8"/>
<circle cx="361.12" cy="199.40" r="1.87" fill="#fff" stroke="#000" stroke-width="0.85"/>
<line x1="355.61" y1="193.62" x2="351.39" y2="205.18" stroke="#111" stroke-width="1.0"/>
<line x1="378.91" y1="199.40" x2="381.83" y2="199.40" stroke="#444" stroke-width="0.8"/>
<line x1="378.05" y1="201.47" x2="380.12" y2="203.54" stroke="#333" stroke-width="0.8"/>
<line x1="375.98" y1="202.32" x2="375.98" y2="205.25" stroke="#444" stroke-width="0.8"/>
<line x1="373.92" y1="201.47" x2="371.85" y2="203.54" stroke="#333" stroke-width="0.8"/>
<line x1="373.06" y1="199.40" x2="370.14" y2="199.40" stroke="#444" stroke-width="0.8"/>
<line x1="373.92" y1="197.33" x2="371.85" y2="195.26" stroke="#333" stroke-width="0.8"/>
<line x1="375.98" y1="196.48" x2="375.98" y2="193.55" stroke="#444" stroke-width="0.8"/>
<line x1="378.05" y1="197.33" x2="380.12" y2="195.26" stroke="#333" stroke-width="0.8"/>
<circle cx="375.98" cy="199.40" r="1.87" fill="#fff" stroke="#000" stroke-width="0.85"/>
<line x1="394.14" y1="199.40" x2="397.06" y2="199.40" stroke="#444" stroke-width="0.8"/>
<line x1="393.28" y1="201.47" x2="395.35" y2="203.54" stroke="#333" stroke-width="0.8"/>
<line x1="391.22" y1="202.32" x2="391.22" y2="205.25" stroke="#444" stroke-width="0.8"/>
<line x1="389.15" y1="201.47" x2="387.08" y2="203.54" stroke="#333" stroke-width="0.8"/>
<line x1="388.29" y1="199.40" x2="385.37" y2="199.40" stroke="#444" stroke-width="0.8"/>
<line x1="389.15" y1="197.33" x2="387.08" y2="195.26" stroke="#333" stroke-width="0.8"/>
<line x1="391.22" y1="196.48" x2="391.22" y2="193.55" stroke="#444" stroke-width="0.8"/>
<line x1="393.28" y1="197.33" x2="395.35" y2="195.26" stroke="#333" stroke-width="0.8"/>
<circle cx="391.22" cy="199.40" r="2.37" fill="#000"/>
<line x1="385.71" y1="193.62" x2="381.49" y2="205.18" stroke="#111" stroke-width="1.0"/>
<line x1="409.11" y1="199.40" x2="412.03" y2="199.40" stroke="#444" stroke-width="0.8"/>
<line x1="408.25" y1="201.47" x2="410.32" y2="203.54" stroke="#333" stroke-width="0.8"/>
<line x1="406.18" y1="202.32" x2="406.18" y2="205.25" stroke="#444" stroke-width="0.8"/>
<line x1="404.12" y1="201.47" x2="402.05" y2="203.54" stroke="#333" stroke-width="0.8"/>
<line x1="403.26" y1="199.40" x2="400.34" y2="199.40" stroke="#444" stroke-width="0.8"/>
<line x1="404.12" y1="197.33" x2="402.05" y2="195.26" stroke="#333" stroke-width="0.8"/>
<line x1="406.18" y1="196.48" x2="406.18" y2="193.55" stroke="#444" stroke-width="0.8"/>
<line x1="408.25" y1="197.33" x2="410.32" y2="195.26" stroke="#333" stroke-width="0.8"/>
<circle cx="406.18" cy="199.40" r="2.37" fill="#000"/>
<line x1="424.34" y1="199.40" x2="427.26" y2="199.40" stroke="#444" stroke-width="0.8"/>
<line x1="423.48" y1="201.47" x2="425.55" y2="203.54" stroke="#333" stroke-width="0.8"/>
<line x1="421.42" y1="202.32" x2="421.42" y2="205.25" stroke="#444" stroke-width="0.8"/>
<line x1="419.35" y1="201.47" x2="417.28" y2="203.54" stroke="#333" stroke-width="0.8"/>
<line x1="418.49" y1="199.40" x2="415.57" y2="199.40" stroke="#444" stroke-width="0.8"/>
<line x1="419.35" y1="197.33" x2="417.28" y2="195.26" stroke="#333" stroke-width="0.8"/>
<line x1="421.42" y1="196.48" x2="421.42" y2="193.55" stroke="#444" stroke-width="0.8"/>
<line x1="423.48" y1="197.33" x2="425.55" y2="195.26" stroke="#333" stroke-width="0.8"/>
<circle cx="421.42" cy="199.40" r="2.37" fill="#000"/>
<line x1="415.91" y1="193.62" x2="411.69" y2="205.18" stroke="#111" stroke-width="1.0"/>
<text x="441.50" y="11.40" font-size="15.5" text-anchor="start" font-weight="bold" fill="#000" >c</text>
<line x1="480.70" y1="33.90" x2="480.70" y2="188.50" stroke="#000" stroke-width="0.9"/>
<line x1="480.70" y1="188.50" x2="659.50" y2="188.50" stroke="#000" stroke-width="0.9"/>
<line x1="477.90" y1="182.50" x2="480.70" y2="182.50" stroke="#000" stroke-width="0.9"/>
<text x="476.70" y="186.10" font-size="10" text-anchor="end" font-weight="normal" fill="#000" >0.2</text>
<line x1="477.90" y1="158.75" x2="480.70" y2="158.75" stroke="#000" stroke-width="0.9"/>
<text x="476.70" y="162.35" font-size="10" text-anchor="end" font-weight="normal" fill="#000" >0.3</text>
<line x1="477.90" y1="135.00" x2="480.70" y2="135.00" stroke="#000" stroke-width="0.9"/>
<text x="476.70" y="138.60" font-size="10" text-anchor="end" font-weight="normal" fill="#000" >0.4</text>
<line x1="477.90" y1="111.25" x2="480.70" y2="111.25" stroke="#000" stroke-width="0.9"/>
<text x="476.70" y="114.85" font-size="10" text-anchor="end" font-weight="normal" fill="#000" >0.5</text>
<line x1="477.90" y1="87.50" x2="480.70" y2="87.50" stroke="#000" stroke-width="0.9"/>
<text x="476.70" y="91.10" font-size="10" text-anchor="end" font-weight="normal" fill="#000" >0.6</text>
<line x1="477.90" y1="63.75" x2="480.70" y2="63.75" stroke="#000" stroke-width="0.9"/>
<text x="476.70" y="67.35" font-size="10" text-anchor="end" font-weight="normal" fill="#000" >0.7</text>
<line x1="477.90" y1="40.00" x2="480.70" y2="40.00" stroke="#000" stroke-width="0.9"/>
<text x="476.70" y="43.60" font-size="10" text-anchor="end" font-weight="normal" fill="#000" >0.8</text>
<line x1="529.50" y1="188.50" x2="529.50" y2="191.30" stroke="#000" stroke-width="0.9"/>
<line x1="611.30" y1="188.50" x2="611.30" y2="191.30" stroke="#000" stroke-width="0.9"/>
<text transform="translate(458.6,110.9) rotate(-90)" font-size="10.8" text-anchor="middle">Stomatal aperture (width/length)</text>
<text x="530.50" y="205.40" font-size="10.5" text-anchor="middle" font-weight="normal" fill="#000" >Control</text>
<text x="611.50" y="205.40" font-size="10.5" text-anchor="middle" font-weight="normal" fill="#000" >DC3000</text>
<line x1="509.35" y1="52.00" x2="509.35" y2="134.00" stroke="#c4c4c4" stroke-width="0.8"/>
<rect x="500.00" y="83.70" width="18.70" height="21.60" fill="#c6ebe3" stroke="#7a9a94" stroke-width="0.8"/>
<line x1="500.00" y1="95.50" x2="518.70" y2="95.50" stroke="#7a9a94" stroke-width="1.2000000000000002"/>
<line x1="529.40" y1="47.60" x2="529.40" y2="134.00" stroke="#c4c4c4" stroke-width="0.8"/>
<rect x="520.00" y="77.60" width="18.80" height="23.00" fill="#3a9a8d" stroke="#2f5d57" stroke-width="0.8"/>
<line x1="520.00" y1="92.60" x2="538.80" y2="92.60" stroke="#2f5d57" stroke-width="1.2000000000000002"/>
<line x1="550.15" y1="79.70" x2="550.15" y2="134.00" stroke="#c4c4c4" stroke-width="0.8"/>
<rect x="541.00" y="103.40" width="18.30" height="16.50" fill="#0b5f55" stroke="#08403a" stroke-width="0.8"/>
<line x1="541.00" y1="112.30" x2="559.30" y2="112.30" stroke="#08403a" stroke-width="1.2000000000000002"/>
<line x1="591.15" y1="42.70" x2="591.15" y2="134.00" stroke="#c4c4c4" stroke-width="0.8"/>
<rect x="581.50" y="78.00" width="19.30" height="26.60" fill="#c6ebe3" stroke="#7a9a94" stroke-width="0.8"/>
<line x1="581.50" y1="93.30" x2="600.80" y2="93.30" stroke="#7a9a94" stroke-width="1.2000000000000002"/>
<line x1="611.55" y1="105.20" x2="611.55" y2="166.00" stroke="#c4c4c4" stroke-width="0.8"/>
<rect x="602.30" y="127.50" width="18.50" height="17.90" fill="#3a9a8d" stroke="#2f5d57" stroke-width="0.8"/>
<line x1="602.30" y1="136.50" x2="620.80" y2="136.50" stroke="#2f5d57" stroke-width="1.2000000000000002"/>
<line x1="632.00" y1="97.90" x2="632.00" y2="164.00" stroke="#c4c4c4" stroke-width="0.8"/>
<rect x="622.50" y="121.90" width="19.00" height="18.70" fill="#0b5f55" stroke="#08403a" stroke-width="0.8"/>
<line x1="622.50" y1="131.25" x2="641.50" y2="131.25" stroke="#08403a" stroke-width="1.2000000000000002"/>
<g fill="#000"><circle cx="508.71" cy="61.69" r="0.68"/><circle cx="510.98" cy="82.17" r="0.68"/><circle cx="514.83" cy="73.00" r="0.68"/><circle cx="505.67" cy="93.81" r="0.68"/><circle cx="500.78" cy="104.51" r="0.68"/><circle cx="518.04" cy="72.60" r="0.68"/><circle cx="500.28" cy="88.50" r="0.68"/><circle cx="501.11" cy="89.28" r="0.68"/><circle cx="508.68" cy="95.70" r="0.68"/><circle cx="515.75" cy="99.45" r="0.68"/><circle cx="512.39" cy="83.52" r="0.68"/><circle cx="505.20" cy="80.97" r="0.68"/><circle cx="513.24" cy="126.13" r="0.68"/><circle cx="504.29" cy="94.67" r="0.68"/><circle cx="507.49" cy="120.17" r="0.68"/><circle cx="507.23" cy="107.15" r="0.68"/><circle cx="503.92" cy="95.80" r="0.68"/><circle cx="508.79" cy="95.07" r="0.68"/><circle cx="511.77" cy="90.52" r="0.68"/><circle cx="505.04" cy="99.24" r="0.68"/><circle cx="514.18" cy="75.03" r="0.68"/><circle cx="504.61" cy="131.34" r="0.68"/><circle cx="503.32" cy="122.07" r="0.68"/><circle cx="508.37" cy="106.00" r="0.68"/><circle cx="512.04" cy="94.54" r="0.68"/><circle cx="507.87" cy="87.08" r="0.68"/><circle cx="515.02" cy="90.22" r="0.68"/><circle cx="515.98" cy="99.42" r="0.68"/><circle cx="501.88" cy="111.04" r="0.68"/><circle cx="514.45" cy="98.33" r="0.68"/><circle cx="505.54" cy="107.54" r="0.68"/><circle cx="510.90" cy="57.84" r="0.68"/><circle cx="508.47" cy="83.09" r="0.68"/><circle cx="509.05" cy="86.33" r="0.68"/><circle cx="502.88" cy="102.30" r="0.68"/><circle cx="515.29" cy="87.94" r="0.68"/><circle cx="517.59" cy="105.19" r="0.68"/><circle cx="517.77" cy="119.89" r="0.68"/><circle cx="501.94" cy="82.18" r="0.68"/><circle cx="504.46" cy="133.75" r="0.68"/><circle cx="504.81" cy="85.36" r="0.68"/><circle cx="503.28" cy="84.54" r="0.68"/><circle cx="501.29" cy="87.90" r="0.68"/><circle cx="511.49" cy="66.35" r="0.68"/><circle cx="517.15" cy="84.09" r="0.68"/><circle cx="508.33" cy="108.10" r="0.68"/><circle cx="506.90" cy="65.33" r="0.68"/><circle cx="502.46" cy="96.82" r="0.68"/><circle cx="512.28" cy="130.26" r="0.68"/><circle cx="510.93" cy="67.09" r="0.68"/><circle cx="517.02" cy="98.47" r="0.68"/><circle cx="518.00" cy="96.16" r="0.68"/><circle cx="509.02" cy="105.35" r="0.68"/><circle cx="501.41" cy="69.76" r="0.68"/><circle cx="513.16" cy="116.68" r="0.68"/><circle cx="517.11" cy="80.15" r="0.68"/><circle cx="516.29" cy="81.87" r="0.68"/><circle cx="514.78" cy="63.92" r="0.68"/><circle cx="507.15" cy="75.40" r="0.68"/><circle cx="511.39" cy="85.60" r="0.68"/><circle cx="516.45" cy="63.07" r="0.68"/><circle cx="507.26" cy="56.60" r="0.68"/><circle cx="515.68" cy="80.44" r="0.68"/><circle cx="514.03" cy="87.10" r="0.68"/><circle cx="508.99" cy="102.31" r="0.68"/><circle cx="511.49" cy="89.52" r="0.68"/><circle cx="504.78" cy="77.72" r="0.68"/><circle cx="512.68" cy="76.19" r="0.68"/><circle cx="512.34" cy="112.33" r="0.68"/><circle cx="516.68" cy="125.93" r="0.68"/><circle cx="508.06" cy="90.13" r="0.68"/><circle cx="517.10" cy="86.31" r="0.68"/><circle cx="505.92" cy="79.68" r="0.68"/><circle cx="509.28" cy="109.55" r="0.68"/><circle cx="517.77" cy="110.16" r="0.68"/><circle cx="503.16" cy="74.98" r="0.68"/><circle cx="507.74" cy="93.75" r="0.68"/><circle cx="509.24" cy="106.47" r="0.68"/><circle cx="508.46" cy="119.59" r="0.68"/><circle cx="516.32" cy="52.74" r="0.68"/><circle cx="510.67" cy="111.65" r="0.68"/><circle cx="514.80" cy="57.06" r="0.68"/><circle cx="508.51" cy="61.82" r="0.68"/><circle cx="504.44" cy="122.18" r="0.68"/><circle cx="508.35" cy="117.06" r="0.68"/><circle cx="512.25" cy="102.05" r="0.68"/><circle cx="503.73" cy="118.98" r="0.68"/><circle cx="503.34" cy="89.23" r="0.68"/><circle cx="513.35" cy="91.08" r="0.68"/><circle cx="513.04" cy="93.44" r="0.68"/><circle cx="511.49" cy="110.09" r="0.68"/><circle cx="516.95" cy="73.26" r="0.68"/><circle cx="517.44" cy="113.08" r="0.68"/><circle cx="511.70" cy="107.55" r="0.68"/><circle cx="507.05" cy="108.32" r="0.68"/><circle cx="517.66" cy="116.24" r="0.68"/><circle cx="512.18" cy="75.86" r="0.68"/><circle cx="512.00" cy="90.32" r="0.68"/><circle cx="503.99" cy="66.41" r="0.68"/><circle cx="514.79" cy="90.12" r="0.68"/><circle cx="506.52" cy="122.08" r="0.68"/><circle cx="508.24" cy="78.63" r="0.68"/><circle cx="500.53" cy="97.61" r="0.68"/><circle cx="501.20" cy="77.12" r="0.68"/><circle cx="514.73" cy="102.23" r="0.68"/><circle cx="502.78" cy="108.29" r="0.68"/><circle cx="512.89" cy="90.44" r="0.68"/><circle cx="509.21" cy="65.29" r="0.68"/><circle cx="509.85" cy="105.21" r="0.68"/><circle cx="513.63" cy="101.32" r="0.68"/><circle cx="510.47" cy="64.99" r="0.68"/><circle cx="507.13" cy="91.10" r="0.68"/><circle cx="515.91" cy="104.37" r="0.68"/><circle cx="509.80" cy="89.10" r="0.68"/><circle cx="509.41" cy="101.51" r="0.68"/><circle cx="500.52" cy="114.39" r="0.68"/><circle cx="514.98" cy="79.39" r="0.68"/><circle cx="509.18" cy="93.87" r="0.68"/><circle cx="507.74" cy="113.72" r="0.68"/><circle cx="517.27" cy="103.51" r="0.68"/><circle cx="508.11" cy="87.28" r="0.68"/><circle cx="516.84" cy="96.90" r="0.68"/><circle cx="511.55" cy="91.22" r="0.68"/><circle cx="502.42" cy="105.01" r="0.68"/><circle cx="504.25" cy="105.90" r="0.68"/><circle cx="506.02" cy="97.00" r="0.68"/><circle cx="513.67" cy="90.00" r="0.68"/><circle cx="509.55" cy="90.35" r="0.68"/><circle cx="508.17" cy="101.85" r="0.68"/><circle cx="507.73" cy="114.12" r="0.68"/><circle cx="511.81" cy="101.31" r="0.68"/><circle cx="509.90" cy="104.62" r="0.68"/><circle cx="504.35" cy="71.41" r="0.68"/><circle cx="515.16" cy="75.13" r="0.68"/><circle cx="517.26" cy="89.90" r="0.68"/><circle cx="518.67" cy="108.24" r="0.68"/><circle cx="513.59" cy="103.39" r="0.68"/><circle cx="501.81" cy="104.33" r="0.68"/><circle cx="502.36" cy="70.59" r="0.68"/><circle cx="512.81" cy="108.86" r="0.68"/><circle cx="512.76" cy="67.48" r="0.68"/><circle cx="509.46" cy="103.27" r="0.68"/><circle cx="509.40" cy="93.94" r="0.68"/><circle cx="501.99" cy="97.79" r="0.68"/><circle cx="509.63" cy="98.00" r="0.68"/><circle cx="502.74" cy="101.18" r="0.68"/><circle cx="518.52" cy="104.25" r="0.68"/><circle cx="501.78" cy="124.87" r="0.68"/><circle cx="508.64" cy="132.78" r="0.68"/><circle cx="509.64" cy="87.17" r="0.68"/><circle cx="511.24" cy="111.40" r="0.68"/><circle cx="515.79" cy="110.99" r="0.68"/><circle cx="507.58" cy="70.35" r="0.68"/><circle cx="503.09" cy="102.99" r="0.68"/><circle cx="514.99" cy="129.18" r="0.68"/><circle cx="516.10" cy="98.77" r="0.68"/><circle cx="509.43" cy="77.63" r="0.68"/><circle cx="515.05" cy="107.72" r="0.68"/><circle cx="514.55" cy="117.93" r="0.68"/><circle cx="507.59" cy="81.52" r="0.68"/><circle cx="514.35" cy="113.45" r="0.68"/><circle cx="507.59" cy="78.61" r="0.68"/><circle cx="508.77" cy="108.72" r="0.68"/><circle cx="511.94" cy="80.94" r="0.68"/><circle cx="504.34" cy="101.78" r="0.68"/><circle cx="512.34" cy="88.19" r="0.68"/><circle cx="509.97" cy="82.94" r="0.68"/><circle cx="513.11" cy="118.44" r="0.68"/><circle cx="518.33" cy="95.48" r="0.68"/><circle cx="513.82" cy="103.54" r="0.68"/></g>
<g fill="#000"><circle cx="538.77" cy="94.97" r="0.68"/><circle cx="522.27" cy="95.48" r="0.68"/><circle cx="524.36" cy="72.38" r="0.68"/><circle cx="526.01" cy="122.10" r="0.68"/><circle cx="537.37" cy="116.18" r="0.68"/><circle cx="520.91" cy="81.88" r="0.68"/><circle cx="523.57" cy="80.17" r="0.68"/><circle cx="530.96" cy="84.76" r="0.68"/><circle cx="530.65" cy="99.11" r="0.68"/><circle cx="531.51" cy="49.66" r="0.68"/><circle cx="534.68" cy="106.81" r="0.68"/><circle cx="532.24" cy="88.64" r="0.68"/><circle cx="523.48" cy="104.11" r="0.68"/><circle cx="520.61" cy="94.21" r="0.68"/><circle cx="529.52" cy="70.09" r="0.68"/><circle cx="537.23" cy="71.49" r="0.68"/><circle cx="527.03" cy="106.10" r="0.68"/><circle cx="530.21" cy="85.88" r="0.68"/><circle cx="532.66" cy="114.52" r="0.68"/><circle cx="528.12" cy="122.71" r="0.68"/><circle cx="529.63" cy="130.55" r="0.68"/><circle cx="521.82" cy="74.60" r="0.68"/><circle cx="526.56" cy="102.76" r="0.68"/><circle cx="526.72" cy="111.47" r="0.68"/><circle cx="534.96" cy="113.13" r="0.68"/><circle cx="523.79" cy="97.46" r="0.68"/><circle cx="535.57" cy="109.19" r="0.68"/><circle cx="528.66" cy="98.23" r="0.68"/><circle cx="530.99" cy="71.84" r="0.68"/><circle cx="533.98" cy="92.79" r="0.68"/><circle cx="526.65" cy="89.12" r="0.68"/><circle cx="535.41" cy="68.39" r="0.68"/><circle cx="529.40" cy="95.66" r="0.68"/><circle cx="526.40" cy="91.45" r="0.68"/><circle cx="525.06" cy="86.13" r="0.68"/><circle cx="526.62" cy="134.00" r="0.68"/><circle cx="524.07" cy="75.60" r="0.68"/><circle cx="525.20" cy="99.77" r="0.68"/><circle cx="528.84" cy="84.59" r="0.68"/><circle cx="537.39" cy="77.12" r="0.68"/><circle cx="520.72" cy="115.65" r="0.68"/><circle cx="523.82" cy="95.17" r="0.68"/><circle cx="527.19" cy="89.01" r="0.68"/><circle cx="524.68" cy="88.81" r="0.68"/><circle cx="525.01" cy="73.94" r="0.68"/><circle cx="522.97" cy="106.45" r="0.68"/><circle cx="529.38" cy="89.06" r="0.68"/><circle cx="520.79" cy="87.98" r="0.68"/><circle cx="520.08" cy="121.14" r="0.68"/><circle cx="538.53" cy="98.02" r="0.68"/><circle cx="522.63" cy="94.80" r="0.68"/><circle cx="536.24" cy="113.55" r="0.68"/><circle cx="532.04" cy="109.23" r="0.68"/><circle cx="535.09" cy="93.55" r="0.68"/><circle cx="535.95" cy="77.28" r="0.68"/><circle cx="523.54" cy="87.47" r="0.68"/><circle cx="529.59" cy="110.19" r="0.68"/><circle cx="535.37" cy="119.98" r="0.68"/><circle cx="536.44" cy="98.95" r="0.68"/><circle cx="527.27" cy="108.78" r="0.68"/><circle cx="520.95" cy="96.03" r="0.68"/><circle cx="524.44" cy="102.12" r="0.68"/><circle cx="530.48" cy="102.23" r="0.68"/><circle cx="531.25" cy="90.73" r="0.68"/><circle cx="537.83" cy="93.00" r="0.68"/><circle cx="535.16" cy="89.04" r="0.68"/><circle cx="523.35" cy="97.75" r="0.68"/><circle cx="537.64" cy="96.27" r="0.68"/><circle cx="533.91" cy="72.37" r="0.68"/><circle cx="538.25" cy="105.09" r="0.68"/><circle cx="535.06" cy="87.31" r="0.68"/><circle cx="526.04" cy="56.31" r="0.68"/><circle cx="537.41" cy="93.02" r="0.68"/><circle cx="520.45" cy="98.44" r="0.68"/><circle cx="526.25" cy="107.34" r="0.68"/><circle cx="528.96" cy="103.77" r="0.68"/><circle cx="525.77" cy="73.62" r="0.68"/><circle cx="536.51" cy="117.38" r="0.68"/><circle cx="537.87" cy="89.14" r="0.68"/><circle cx="524.09" cy="96.07" r="0.68"/><circle cx="522.61" cy="93.61" r="0.68"/><circle cx="535.42" cy="136.49" r="0.68"/><circle cx="529.04" cy="107.26" r="0.68"/><circle cx="526.39" cy="86.15" r="0.68"/><circle cx="537.19" cy="92.42" r="0.68"/><circle cx="520.91" cy="69.35" r="0.68"/><circle cx="535.19" cy="98.73" r="0.68"/><circle cx="520.19" cy="83.63" r="0.68"/><circle cx="522.91" cy="103.33" r="0.68"/><circle cx="528.88" cy="94.71" r="0.68"/><circle cx="531.83" cy="80.87" r="0.68"/><circle cx="531.00" cy="129.74" r="0.68"/><circle cx="537.54" cy="94.35" r="0.68"/><circle cx="527.48" cy="118.58" r="0.68"/><circle cx="537.25" cy="100.50" r="0.68"/><circle cx="535.47" cy="108.09" r="0.68"/><circle cx="524.24" cy="112.80" r="0.68"/><circle cx="532.82" cy="70.74" r="0.68"/><circle cx="530.41" cy="82.48" r="0.68"/><circle cx="535.00" cy="85.06" r="0.68"/><circle cx="524.28" cy="114.87" r="0.68"/><circle cx="522.41" cy="89.71" r="0.68"/><circle cx="525.79" cy="114.86" r="0.68"/><circle cx="522.38" cy="99.21" r="0.68"/><circle cx="522.45" cy="89.82" r="0.68"/><circle cx="532.20" cy="80.50" r="0.68"/><circle cx="535.20" cy="110.96" r="0.68"/><circle cx="537.69" cy="93.62" r="0.68"/><circle cx="526.97" cy="96.77" r="0.68"/><circle cx="523.30" cy="99.22" r="0.68"/><circle cx="528.35" cy="79.56" r="0.68"/><circle cx="533.11" cy="92.50" r="0.68"/><circle cx="536.14" cy="94.06" r="0.68"/><circle cx="521.31" cy="56.86" r="0.68"/><circle cx="530.17" cy="103.22" r="0.68"/><circle cx="528.09" cy="81.80" r="0.68"/><circle cx="524.35" cy="81.62" r="0.68"/><circle cx="526.46" cy="88.42" r="0.68"/><circle cx="522.76" cy="95.35" r="0.68"/><circle cx="537.01" cy="110.83" r="0.68"/><circle cx="530.12" cy="83.48" r="0.68"/><circle cx="528.50" cy="129.19" r="0.68"/><circle cx="521.38" cy="81.43" r="0.68"/><circle cx="525.43" cy="102.95" r="0.68"/><circle cx="534.92" cy="79.23" r="0.68"/><circle cx="520.78" cy="87.67" r="0.68"/><circle cx="525.93" cy="116.53" r="0.68"/><circle cx="520.36" cy="82.76" r="0.68"/><circle cx="524.89" cy="95.47" r="0.68"/><circle cx="525.77" cy="99.17" r="0.68"/><circle cx="533.77" cy="69.45" r="0.68"/><circle cx="524.17" cy="109.31" r="0.68"/><circle cx="527.34" cy="102.00" r="0.68"/><circle cx="525.28" cy="127.67" r="0.68"/><circle cx="536.91" cy="92.40" r="0.68"/><circle cx="529.88" cy="90.10" r="0.68"/><circle cx="522.82" cy="88.79" r="0.68"/><circle cx="536.13" cy="93.12" r="0.68"/><circle cx="522.10" cy="104.26" r="0.68"/><circle cx="526.62" cy="103.27" r="0.68"/><circle cx="524.55" cy="107.27" r="0.68"/><circle cx="529.05" cy="112.77" r="0.68"/><circle cx="524.83" cy="94.15" r="0.68"/><circle cx="525.54" cy="77.01" r="0.68"/><circle cx="533.29" cy="91.12" r="0.68"/><circle cx="521.31" cy="76.72" r="0.68"/><circle cx="523.75" cy="63.39" r="0.68"/><circle cx="522.93" cy="115.95" r="0.68"/><circle cx="524.28" cy="130.87" r="0.68"/><circle cx="530.99" cy="90.07" r="0.68"/><circle cx="527.86" cy="82.86" r="0.68"/><circle cx="532.88" cy="119.73" r="0.68"/><circle cx="529.15" cy="92.83" r="0.68"/><circle cx="529.66" cy="83.44" r="0.68"/><circle cx="526.03" cy="91.53" r="0.68"/><circle cx="521.04" cy="60.09" r="0.68"/><circle cx="529.47" cy="94.47" r="0.68"/><circle cx="522.39" cy="114.22" r="0.68"/><circle cx="529.54" cy="80.99" r="0.68"/><circle cx="520.46" cy="69.24" r="0.68"/><circle cx="521.96" cy="97.78" r="0.68"/><circle cx="535.68" cy="76.85" r="0.68"/><circle cx="536.40" cy="107.87" r="0.68"/><circle cx="524.66" cy="105.53" r="0.68"/><circle cx="531.25" cy="104.43" r="0.68"/><circle cx="536.19" cy="100.56" r="0.68"/><circle cx="522.28" cy="90.95" r="0.68"/><circle cx="534.41" cy="108.71" r="0.68"/><circle cx="533.90" cy="91.76" r="0.68"/><circle cx="534.93" cy="99.15" r="0.68"/><circle cx="533.99" cy="91.52" r="0.68"/><circle cx="538.78" cy="63.81" r="0.68"/><circle cx="521.68" cy="94.29" r="0.68"/><circle cx="535.37" cy="110.61" r="0.68"/><circle cx="521.64" cy="63.34" r="0.68"/><circle cx="529.09" cy="88.11" r="0.68"/><circle cx="535.07" cy="76.64" r="0.68"/><circle cx="532.86" cy="55.86" r="0.68"/><circle cx="531.17" cy="115.47" r="0.68"/><circle cx="527.88" cy="90.62" r="0.68"/><circle cx="533.68" cy="66.88" r="0.68"/><circle cx="533.28" cy="119.01" r="0.68"/><circle cx="532.44" cy="90.42" r="0.68"/><circle cx="533.60" cy="95.01" r="0.68"/><circle cx="525.26" cy="117.81" r="0.68"/><circle cx="536.33" cy="98.37" r="0.68"/><circle cx="523.41" cy="87.22" r="0.68"/><circle cx="524.04" cy="93.73" r="0.68"/><circle cx="521.62" cy="99.63" r="0.68"/><circle cx="538.24" cy="94.77" r="0.68"/></g>
<g fill="#000"><circle cx="546.07" cy="97.11" r="0.68"/><circle cx="557.30" cy="95.67" r="0.68"/><circle cx="552.29" cy="119.19" r="0.68"/><circle cx="558.68" cy="128.66" r="0.68"/><circle cx="552.63" cy="84.71" r="0.68"/><circle cx="546.66" cy="122.18" r="0.68"/><circle cx="554.47" cy="128.11" r="0.68"/><circle cx="556.49" cy="117.72" r="0.68"/><circle cx="543.15" cy="94.93" r="0.68"/><circle cx="546.21" cy="135.82" r="0.68"/><circle cx="557.41" cy="105.97" r="0.68"/><circle cx="545.44" cy="120.00" r="0.68"/><circle cx="541.12" cy="119.83" r="0.68"/><circle cx="544.39" cy="108.20" r="0.68"/><circle cx="541.60" cy="123.83" r="0.68"/><circle cx="543.27" cy="112.04" r="0.68"/><circle cx="543.19" cy="96.65" r="0.68"/><circle cx="544.71" cy="121.47" r="0.68"/><circle cx="552.96" cy="115.77" r="0.68"/><circle cx="550.86" cy="100.95" r="0.68"/><circle cx="546.64" cy="114.21" r="0.68"/><circle cx="547.94" cy="106.23" r="0.68"/><circle cx="541.27" cy="131.32" r="0.68"/><circle cx="549.12" cy="128.24" r="0.68"/><circle cx="543.99" cy="126.87" r="0.68"/><circle cx="552.20" cy="100.07" r="0.68"/><circle cx="552.01" cy="82.89" r="0.68"/><circle cx="550.28" cy="99.85" r="0.68"/><circle cx="557.04" cy="115.27" r="0.68"/><circle cx="548.27" cy="109.83" r="0.68"/><circle cx="546.95" cy="112.58" r="0.68"/><circle cx="552.38" cy="119.93" r="0.68"/><circle cx="552.41" cy="130.00" r="0.68"/><circle cx="548.94" cy="134.84" r="0.68"/><circle cx="557.94" cy="107.43" r="0.68"/><circle cx="550.36" cy="112.35" r="0.68"/><circle cx="552.44" cy="96.05" r="0.68"/><circle cx="545.95" cy="113.04" r="0.68"/><circle cx="551.49" cy="117.62" r="0.68"/><circle cx="542.31" cy="123.56" r="0.68"/><circle cx="541.12" cy="94.33" r="0.68"/><circle cx="555.89" cy="88.99" r="0.68"/><circle cx="541.73" cy="126.40" r="0.68"/><circle cx="555.48" cy="123.99" r="0.68"/><circle cx="555.63" cy="121.17" r="0.68"/><circle cx="556.87" cy="119.90" r="0.68"/><circle cx="541.30" cy="112.99" r="0.68"/><circle cx="552.32" cy="128.85" r="0.68"/><circle cx="543.35" cy="89.08" r="0.68"/><circle cx="549.23" cy="104.70" r="0.68"/><circle cx="542.50" cy="124.42" r="0.68"/><circle cx="548.59" cy="116.19" r="0.68"/><circle cx="555.64" cy="116.35" r="0.68"/><circle cx="545.30" cy="95.39" r="0.68"/><circle cx="547.17" cy="82.36" r="0.68"/><circle cx="545.62" cy="116.63" r="0.68"/><circle cx="549.22" cy="113.11" r="0.68"/><circle cx="546.16" cy="110.91" r="0.68"/><circle cx="543.92" cy="112.87" r="0.68"/><circle cx="547.33" cy="115.85" r="0.68"/><circle cx="558.50" cy="129.60" r="0.68"/><circle cx="555.82" cy="109.10" r="0.68"/><circle cx="555.54" cy="91.79" r="0.68"/><circle cx="557.04" cy="115.26" r="0.68"/><circle cx="544.45" cy="114.67" r="0.68"/><circle cx="557.16" cy="100.60" r="0.68"/><circle cx="554.36" cy="116.13" r="0.68"/><circle cx="552.47" cy="103.07" r="0.68"/><circle cx="555.66" cy="97.56" r="0.68"/><circle cx="548.31" cy="86.17" r="0.68"/><circle cx="545.00" cy="113.13" r="0.68"/><circle cx="548.02" cy="87.42" r="0.68"/><circle cx="544.21" cy="105.17" r="0.68"/><circle cx="543.48" cy="112.58" r="0.68"/><circle cx="557.54" cy="106.79" r="0.68"/><circle cx="556.99" cy="107.44" r="0.68"/><circle cx="557.46" cy="110.04" r="0.68"/><circle cx="555.47" cy="100.27" r="0.68"/><circle cx="550.03" cy="123.23" r="0.68"/><circle cx="550.95" cy="106.64" r="0.68"/><circle cx="549.39" cy="126.45" r="0.68"/><circle cx="546.57" cy="113.12" r="0.68"/><circle cx="546.55" cy="121.62" r="0.68"/><circle cx="555.72" cy="134.81" r="0.68"/><circle cx="549.24" cy="101.51" r="0.68"/><circle cx="556.94" cy="112.73" r="0.68"/><circle cx="547.42" cy="128.88" r="0.68"/><circle cx="551.01" cy="122.76" r="0.68"/><circle cx="556.08" cy="114.36" r="0.68"/><circle cx="547.01" cy="95.73" r="0.68"/><circle cx="547.42" cy="96.51" r="0.68"/><circle cx="557.48" cy="128.49" r="0.68"/><circle cx="542.14" cy="120.19" r="0.68"/><circle cx="546.79" cy="126.51" r="0.68"/><circle cx="547.51" cy="98.96" r="0.68"/><circle cx="545.45" cy="118.27" r="0.68"/><circle cx="551.07" cy="78.55" r="0.68"/><circle cx="559.09" cy="107.77" r="0.68"/><circle cx="547.11" cy="103.30" r="0.68"/><circle cx="558.59" cy="103.99" r="0.68"/><circle cx="555.82" cy="117.47" r="0.68"/><circle cx="546.52" cy="117.91" r="0.68"/><circle cx="546.70" cy="104.87" r="0.68"/><circle cx="542.16" cy="126.80" r="0.68"/><circle cx="556.88" cy="103.02" r="0.68"/><circle cx="553.03" cy="106.91" r="0.68"/><circle cx="546.29" cy="120.94" r="0.68"/><circle cx="550.74" cy="127.10" r="0.68"/><circle cx="541.21" cy="99.07" r="0.68"/><circle cx="544.50" cy="96.46" r="0.68"/><circle cx="546.75" cy="106.99" r="0.68"/><circle cx="547.35" cy="81.06" r="0.68"/><circle cx="542.52" cy="120.64" r="0.68"/><circle cx="554.60" cy="128.34" r="0.68"/><circle cx="548.32" cy="113.79" r="0.68"/><circle cx="552.86" cy="96.93" r="0.68"/><circle cx="558.15" cy="107.77" r="0.68"/><circle cx="557.03" cy="92.60" r="0.68"/><circle cx="547.68" cy="96.24" r="0.68"/><circle cx="557.09" cy="127.36" r="0.68"/><circle cx="550.12" cy="128.16" r="0.68"/><circle cx="552.70" cy="102.26" r="0.68"/><circle cx="554.86" cy="107.00" r="0.68"/><circle cx="544.77" cy="118.82" r="0.68"/><circle cx="556.23" cy="124.09" r="0.68"/><circle cx="555.48" cy="122.34" r="0.68"/><circle cx="551.01" cy="90.11" r="0.68"/><circle cx="547.58" cy="93.67" r="0.68"/><circle cx="550.53" cy="113.03" r="0.68"/><circle cx="547.42" cy="89.59" r="0.68"/><circle cx="559.13" cy="115.30" r="0.68"/><circle cx="548.52" cy="120.93" r="0.68"/><circle cx="551.23" cy="107.38" r="0.68"/><circle cx="542.77" cy="90.32" r="0.68"/><circle cx="547.68" cy="104.97" r="0.68"/><circle cx="545.07" cy="118.19" r="0.68"/><circle cx="541.43" cy="108.52" r="0.68"/><circle cx="551.02" cy="118.71" r="0.68"/><circle cx="544.19" cy="109.20" r="0.68"/><circle cx="555.32" cy="100.84" r="0.68"/><circle cx="555.83" cy="123.12" r="0.68"/><circle cx="554.23" cy="118.28" r="0.68"/><circle cx="555.97" cy="98.39" r="0.68"/><circle cx="556.93" cy="125.29" r="0.68"/><circle cx="552.32" cy="105.90" r="0.68"/><circle cx="546.64" cy="122.34" r="0.68"/><circle cx="552.94" cy="114.45" r="0.68"/><circle cx="542.05" cy="119.82" r="0.68"/><circle cx="553.53" cy="120.51" r="0.68"/><circle cx="545.04" cy="109.41" r="0.68"/><circle cx="556.04" cy="102.46" r="0.68"/><circle cx="554.82" cy="100.15" r="0.68"/><circle cx="543.98" cy="104.74" r="0.68"/><circle cx="556.01" cy="107.93" r="0.68"/><circle cx="548.37" cy="133.54" r="0.68"/><circle cx="548.81" cy="105.69" r="0.68"/><circle cx="541.13" cy="113.34" r="0.68"/><circle cx="557.65" cy="111.43" r="0.68"/><circle cx="544.77" cy="114.69" r="0.68"/><circle cx="549.06" cy="108.34" r="0.68"/><circle cx="549.90" cy="114.55" r="0.68"/><circle cx="553.82" cy="111.73" r="0.68"/><circle cx="558.91" cy="110.12" r="0.68"/><circle cx="548.87" cy="127.82" r="0.68"/><circle cx="554.71" cy="123.53" r="0.68"/><circle cx="559.11" cy="130.13" r="0.68"/><circle cx="551.70" cy="133.35" r="0.68"/><circle cx="542.46" cy="116.21" r="0.68"/><circle cx="544.17" cy="119.34" r="0.68"/><circle cx="549.31" cy="93.86" r="0.68"/><circle cx="543.52" cy="114.35" r="0.68"/><circle cx="550.66" cy="110.43" r="0.68"/><circle cx="544.09" cy="136.29" r="0.68"/><circle cx="549.52" cy="123.54" r="0.68"/><circle cx="549.09" cy="96.87" r="0.68"/><circle cx="550.08" cy="111.13" r="0.68"/><circle cx="553.35" cy="100.64" r="0.68"/><circle cx="551.62" cy="105.12" r="0.68"/><circle cx="558.60" cy="121.92" r="0.68"/><circle cx="548.02" cy="105.50" r="0.68"/></g>
<g fill="#000"><circle cx="584.91" cy="55.44" r="0.68"/><circle cx="582.06" cy="83.08" r="0.68"/><circle cx="591.41" cy="104.79" r="0.68"/><circle cx="594.88" cy="93.94" r="0.68"/><circle cx="587.79" cy="68.31" r="0.68"/><circle cx="593.41" cy="121.74" r="0.68"/><circle cx="582.85" cy="110.27" r="0.68"/><circle cx="593.57" cy="102.40" r="0.68"/><circle cx="582.18" cy="90.90" r="0.68"/><circle cx="585.14" cy="49.80" r="0.68"/><circle cx="586.29" cy="99.55" r="0.68"/><circle cx="597.26" cy="105.58" r="0.68"/><circle cx="595.72" cy="123.58" r="0.68"/><circle cx="587.84" cy="100.64" r="0.68"/><circle cx="591.93" cy="75.36" r="0.68"/><circle cx="590.29" cy="74.06" r="0.68"/><circle cx="597.32" cy="85.96" r="0.68"/><circle cx="582.34" cy="76.69" r="0.68"/><circle cx="596.04" cy="93.87" r="0.68"/><circle cx="591.98" cy="96.63" r="0.68"/><circle cx="583.65" cy="85.14" r="0.68"/><circle cx="597.67" cy="103.59" r="0.68"/><circle cx="582.43" cy="112.86" r="0.68"/><circle cx="583.86" cy="100.94" r="0.68"/><circle cx="593.46" cy="69.88" r="0.68"/><circle cx="593.95" cy="64.09" r="0.68"/><circle cx="594.78" cy="109.05" r="0.68"/><circle cx="585.22" cy="93.97" r="0.68"/><circle cx="600.05" cy="101.04" r="0.68"/><circle cx="582.75" cy="79.36" r="0.68"/><circle cx="592.04" cy="110.92" r="0.68"/><circle cx="586.98" cy="73.29" r="0.68"/><circle cx="599.70" cy="72.96" r="0.68"/><circle cx="599.71" cy="64.98" r="0.68"/><circle cx="582.94" cy="107.49" r="0.68"/><circle cx="583.13" cy="67.99" r="0.68"/><circle cx="596.37" cy="58.00" r="0.68"/><circle cx="586.19" cy="57.29" r="0.68"/><circle cx="592.31" cy="85.63" r="0.68"/><circle cx="589.46" cy="66.87" r="0.68"/><circle cx="585.97" cy="107.33" r="0.68"/><circle cx="591.68" cy="88.13" r="0.68"/><circle cx="599.05" cy="82.76" r="0.68"/><circle cx="599.60" cy="128.53" r="0.68"/><circle cx="596.99" cy="113.84" r="0.68"/><circle cx="594.75" cy="124.86" r="0.68"/><circle cx="585.76" cy="85.75" r="0.68"/><circle cx="587.51" cy="93.12" r="0.68"/><circle cx="585.59" cy="91.32" r="0.68"/><circle cx="583.83" cy="94.63" r="0.68"/><circle cx="591.18" cy="96.54" r="0.68"/><circle cx="599.26" cy="89.61" r="0.68"/><circle cx="594.60" cy="102.94" r="0.68"/><circle cx="587.65" cy="81.77" r="0.68"/><circle cx="597.28" cy="117.10" r="0.68"/><circle cx="583.76" cy="117.32" r="0.68"/><circle cx="592.35" cy="47.95" r="0.68"/><circle cx="589.78" cy="103.60" r="0.68"/><circle cx="598.63" cy="88.08" r="0.68"/><circle cx="584.38" cy="93.47" r="0.68"/><circle cx="589.31" cy="109.09" r="0.68"/><circle cx="584.95" cy="86.81" r="0.68"/><circle cx="598.69" cy="83.08" r="0.68"/><circle cx="598.44" cy="100.60" r="0.68"/><circle cx="588.79" cy="64.10" r="0.68"/><circle cx="585.23" cy="98.41" r="0.68"/><circle cx="590.77" cy="78.22" r="0.68"/><circle cx="585.84" cy="95.93" r="0.68"/><circle cx="582.14" cy="98.39" r="0.68"/><circle cx="581.59" cy="113.08" r="0.68"/><circle cx="587.32" cy="85.90" r="0.68"/><circle cx="587.76" cy="74.45" r="0.68"/><circle cx="598.40" cy="71.10" r="0.68"/><circle cx="592.91" cy="91.24" r="0.68"/><circle cx="594.09" cy="93.34" r="0.68"/><circle cx="599.69" cy="77.56" r="0.68"/><circle cx="596.89" cy="117.93" r="0.68"/><circle cx="588.89" cy="100.50" r="0.68"/><circle cx="586.50" cy="90.64" r="0.68"/><circle cx="600.08" cy="75.10" r="0.68"/><circle cx="596.32" cy="42.47" r="0.68"/><circle cx="597.57" cy="89.73" r="0.68"/><circle cx="585.92" cy="109.91" r="0.68"/><circle cx="591.79" cy="87.20" r="0.68"/><circle cx="581.80" cy="41.69" r="0.68"/><circle cx="596.87" cy="87.09" r="0.68"/><circle cx="593.68" cy="85.92" r="0.68"/><circle cx="589.00" cy="65.60" r="0.68"/><circle cx="592.90" cy="105.48" r="0.68"/><circle cx="583.67" cy="67.93" r="0.68"/><circle cx="586.43" cy="105.03" r="0.68"/><circle cx="585.98" cy="86.73" r="0.68"/><circle cx="591.37" cy="85.18" r="0.68"/><circle cx="582.01" cy="91.45" r="0.68"/><circle cx="589.22" cy="123.60" r="0.68"/><circle cx="585.22" cy="64.49" r="0.68"/><circle cx="589.74" cy="95.96" r="0.68"/><circle cx="587.80" cy="90.63" r="0.68"/><circle cx="591.87" cy="98.19" r="0.68"/><circle cx="596.22" cy="96.42" r="0.68"/><circle cx="594.20" cy="98.16" r="0.68"/><circle cx="587.07" cy="82.20" r="0.68"/><circle cx="599.00" cy="123.28" r="0.68"/><circle cx="590.96" cy="49.53" r="0.68"/><circle cx="599.92" cy="54.77" r="0.68"/><circle cx="581.93" cy="86.06" r="0.68"/><circle cx="600.40" cy="107.34" r="0.68"/><circle cx="597.73" cy="95.89" r="0.68"/><circle cx="598.39" cy="78.92" r="0.68"/><circle cx="584.28" cy="115.52" r="0.68"/><circle cx="587.31" cy="80.68" r="0.68"/><circle cx="591.53" cy="74.34" r="0.68"/><circle cx="583.01" cy="87.20" r="0.68"/><circle cx="598.93" cy="48.84" r="0.68"/><circle cx="593.75" cy="113.04" r="0.68"/><circle cx="599.14" cy="96.12" r="0.68"/><circle cx="584.56" cy="96.20" r="0.68"/><circle cx="593.97" cy="92.44" r="0.68"/><circle cx="581.50" cy="98.65" r="0.68"/><circle cx="593.88" cy="69.12" r="0.68"/><circle cx="590.38" cy="104.39" r="0.68"/><circle cx="599.87" cy="119.33" r="0.68"/><circle cx="589.85" cy="105.38" r="0.68"/><circle cx="589.84" cy="95.81" r="0.68"/><circle cx="596.06" cy="87.11" r="0.68"/><circle cx="593.73" cy="112.58" r="0.68"/><circle cx="585.20" cy="97.93" r="0.68"/><circle cx="588.63" cy="63.90" r="0.68"/><circle cx="591.49" cy="110.24" r="0.68"/><circle cx="589.02" cy="95.51" r="0.68"/><circle cx="587.00" cy="96.12" r="0.68"/><circle cx="600.03" cy="132.23" r="0.68"/><circle cx="590.25" cy="102.05" r="0.68"/><circle cx="599.41" cy="84.73" r="0.68"/><circle cx="584.33" cy="41.01" r="0.68"/><circle cx="582.38" cy="107.59" r="0.68"/><circle cx="586.42" cy="88.54" r="0.68"/><circle cx="582.59" cy="73.74" r="0.68"/><circle cx="595.95" cy="88.36" r="0.68"/><circle cx="598.50" cy="92.98" r="0.68"/><circle cx="588.67" cy="52.40" r="0.68"/><circle cx="588.68" cy="72.43" r="0.68"/><circle cx="583.07" cy="111.13" r="0.68"/><circle cx="597.78" cy="79.41" r="0.68"/><circle cx="589.51" cy="50.05" r="0.68"/><circle cx="587.05" cy="58.22" r="0.68"/><circle cx="584.44" cy="106.14" r="0.68"/><circle cx="586.65" cy="86.41" r="0.68"/><circle cx="594.45" cy="49.80" r="0.68"/><circle cx="594.20" cy="109.80" r="0.68"/><circle cx="600.50" cy="63.66" r="0.68"/><circle cx="595.93" cy="74.59" r="0.68"/><circle cx="585.92" cy="109.72" r="0.68"/><circle cx="592.31" cy="68.99" r="0.68"/><circle cx="582.88" cy="92.88" r="0.68"/><circle cx="594.37" cy="79.88" r="0.68"/><circle cx="589.66" cy="45.18" r="0.68"/><circle cx="588.14" cy="115.03" r="0.68"/><circle cx="586.76" cy="114.51" r="0.68"/><circle cx="593.52" cy="111.27" r="0.68"/><circle cx="597.63" cy="51.63" r="0.68"/><circle cx="599.42" cy="117.33" r="0.68"/><circle cx="583.50" cy="97.29" r="0.68"/><circle cx="589.54" cy="83.32" r="0.68"/><circle cx="586.99" cy="50.72" r="0.68"/><circle cx="582.62" cy="123.79" r="0.68"/><circle cx="594.98" cy="100.44" r="0.68"/><circle cx="584.78" cy="96.93" r="0.68"/><circle cx="597.05" cy="79.27" r="0.68"/><circle cx="595.34" cy="92.12" r="0.68"/></g>
<g fill="#000"><circle cx="615.98" cy="143.70" r="0.68"/><circle cx="616.12" cy="134.19" r="0.68"/><circle cx="620.16" cy="123.86" r="0.68"/><circle cx="612.30" cy="153.53" r="0.68"/><circle cx="610.23" cy="118.97" r="0.68"/><circle cx="613.97" cy="148.30" r="0.68"/><circle cx="615.36" cy="145.78" r="0.68"/><circle cx="617.80" cy="138.95" r="0.68"/><circle cx="611.59" cy="118.45" r="0.68"/><circle cx="609.89" cy="144.13" r="0.68"/><circle cx="617.64" cy="157.72" r="0.68"/><circle cx="609.00" cy="146.96" r="0.68"/><circle cx="610.96" cy="131.88" r="0.68"/><circle cx="610.44" cy="139.55" r="0.68"/><circle cx="604.71" cy="153.07" r="0.68"/><circle cx="613.45" cy="123.64" r="0.68"/><circle cx="617.43" cy="144.09" r="0.68"/><circle cx="615.23" cy="135.84" r="0.68"/><circle cx="607.29" cy="160.89" r="0.68"/><circle cx="611.31" cy="124.04" r="0.68"/><circle cx="612.45" cy="143.96" r="0.68"/><circle cx="611.04" cy="139.20" r="0.68"/><circle cx="607.42" cy="153.25" r="0.68"/><circle cx="608.87" cy="142.98" r="0.68"/><circle cx="615.34" cy="116.14" r="0.68"/><circle cx="615.48" cy="134.23" r="0.68"/><circle cx="608.36" cy="133.74" r="0.68"/><circle cx="614.25" cy="149.34" r="0.68"/><circle cx="619.68" cy="132.26" r="0.68"/><circle cx="615.23" cy="117.12" r="0.68"/><circle cx="614.27" cy="131.41" r="0.68"/><circle cx="612.63" cy="168.03" r="0.68"/><circle cx="614.19" cy="136.08" r="0.68"/><circle cx="604.55" cy="151.66" r="0.68"/><circle cx="611.81" cy="142.81" r="0.68"/><circle cx="606.39" cy="130.09" r="0.68"/><circle cx="606.09" cy="104.72" r="0.68"/><circle cx="609.01" cy="141.36" r="0.68"/><circle cx="609.59" cy="123.98" r="0.68"/><circle cx="608.32" cy="142.76" r="0.68"/><circle cx="610.34" cy="152.56" r="0.68"/><circle cx="615.73" cy="152.85" r="0.68"/><circle cx="617.85" cy="140.96" r="0.68"/><circle cx="618.19" cy="126.98" r="0.68"/><circle cx="615.90" cy="123.42" r="0.68"/><circle cx="611.65" cy="131.86" r="0.68"/><circle cx="602.56" cy="124.16" r="0.68"/><circle cx="619.25" cy="152.27" r="0.68"/><circle cx="612.87" cy="136.03" r="0.68"/><circle cx="607.60" cy="143.65" r="0.68"/><circle cx="612.33" cy="155.69" r="0.68"/><circle cx="602.72" cy="134.41" r="0.68"/><circle cx="611.87" cy="135.51" r="0.68"/><circle cx="617.50" cy="134.90" r="0.68"/><circle cx="603.63" cy="133.05" r="0.68"/><circle cx="604.01" cy="163.35" r="0.68"/><circle cx="616.72" cy="106.44" r="0.68"/><circle cx="603.46" cy="153.99" r="0.68"/><circle cx="617.20" cy="146.04" r="0.68"/><circle cx="604.41" cy="129.66" r="0.68"/><circle cx="617.44" cy="140.34" r="0.68"/><circle cx="604.23" cy="148.46" r="0.68"/><circle cx="616.51" cy="141.01" r="0.68"/><circle cx="618.19" cy="126.45" r="0.68"/><circle cx="604.91" cy="132.97" r="0.68"/><circle cx="615.88" cy="110.58" r="0.68"/><circle cx="615.70" cy="140.86" r="0.68"/><circle cx="603.18" cy="141.91" r="0.68"/><circle cx="618.08" cy="133.83" r="0.68"/><circle cx="620.51" cy="126.44" r="0.68"/><circle cx="620.54" cy="139.33" r="0.68"/><circle cx="615.65" cy="142.36" r="0.68"/><circle cx="608.35" cy="128.90" r="0.68"/><circle cx="604.29" cy="130.36" r="0.68"/><circle cx="619.59" cy="138.02" r="0.68"/><circle cx="611.88" cy="111.59" r="0.68"/><circle cx="609.85" cy="148.58" r="0.68"/><circle cx="603.44" cy="140.85" r="0.68"/><circle cx="611.05" cy="137.02" r="0.68"/><circle cx="608.38" cy="145.36" r="0.68"/><circle cx="616.09" cy="104.35" r="0.68"/><circle cx="620.31" cy="146.50" r="0.68"/><circle cx="620.38" cy="135.68" r="0.68"/><circle cx="613.79" cy="131.85" r="0.68"/><circle cx="614.08" cy="139.86" r="0.68"/><circle cx="608.17" cy="142.93" r="0.68"/><circle cx="610.60" cy="104.60" r="0.68"/><circle cx="608.00" cy="126.15" r="0.68"/><circle cx="606.45" cy="136.90" r="0.68"/><circle cx="609.42" cy="122.11" r="0.68"/><circle cx="607.31" cy="139.05" r="0.68"/><circle cx="610.13" cy="110.43" r="0.68"/><circle cx="614.31" cy="148.32" r="0.68"/><circle cx="604.08" cy="147.10" r="0.68"/><circle cx="618.33" cy="115.59" r="0.68"/><circle cx="620.31" cy="132.83" r="0.68"/><circle cx="616.36" cy="136.10" r="0.68"/><circle cx="611.98" cy="126.81" r="0.68"/><circle cx="619.25" cy="138.45" r="0.68"/><circle cx="606.94" cy="114.21" r="0.68"/><circle cx="620.47" cy="127.35" r="0.68"/><circle cx="617.10" cy="131.21" r="0.68"/><circle cx="607.66" cy="140.97" r="0.68"/><circle cx="613.52" cy="123.90" r="0.68"/><circle cx="610.03" cy="150.85" r="0.68"/><circle cx="610.68" cy="158.76" r="0.68"/><circle cx="612.99" cy="143.88" r="0.68"/><circle cx="604.11" cy="142.82" r="0.68"/><circle cx="605.44" cy="142.67" r="0.68"/><circle cx="620.47" cy="142.08" r="0.68"/><circle cx="612.26" cy="115.20" r="0.68"/><circle cx="607.09" cy="123.76" r="0.68"/><circle cx="616.43" cy="126.73" r="0.68"/><circle cx="606.89" cy="150.79" r="0.68"/><circle cx="618.51" cy="146.79" r="0.68"/><circle cx="615.71" cy="153.29" r="0.68"/><circle cx="613.87" cy="131.46" r="0.68"/><circle cx="614.10" cy="142.27" r="0.68"/><circle cx="616.76" cy="154.47" r="0.68"/><circle cx="618.70" cy="144.72" r="0.68"/><circle cx="607.99" cy="129.68" r="0.68"/><circle cx="613.55" cy="123.75" r="0.68"/><circle cx="602.90" cy="136.04" r="0.68"/><circle cx="606.91" cy="116.89" r="0.68"/><circle cx="605.96" cy="131.08" r="0.68"/><circle cx="604.79" cy="128.78" r="0.68"/><circle cx="605.55" cy="128.24" r="0.68"/><circle cx="605.73" cy="142.51" r="0.68"/><circle cx="611.83" cy="145.32" r="0.68"/><circle cx="606.78" cy="153.91" r="0.68"/><circle cx="613.58" cy="140.80" r="0.68"/><circle cx="616.88" cy="140.62" r="0.68"/><circle cx="611.10" cy="144.82" r="0.68"/><circle cx="605.55" cy="130.12" r="0.68"/><circle cx="604.13" cy="136.94" r="0.68"/><circle cx="616.84" cy="152.95" r="0.68"/><circle cx="602.76" cy="165.38" r="0.68"/><circle cx="603.27" cy="138.43" r="0.68"/><circle cx="620.56" cy="115.46" r="0.68"/><circle cx="617.89" cy="134.25" r="0.68"/><circle cx="613.63" cy="127.91" r="0.68"/><circle cx="614.56" cy="130.80" r="0.68"/><circle cx="616.91" cy="116.02" r="0.68"/><circle cx="604.78" cy="149.98" r="0.68"/><circle cx="620.42" cy="157.90" r="0.68"/><circle cx="612.65" cy="153.85" r="0.68"/><circle cx="614.93" cy="142.36" r="0.68"/><circle cx="607.14" cy="138.69" r="0.68"/><circle cx="609.30" cy="145.78" r="0.68"/><circle cx="619.57" cy="149.87" r="0.68"/><circle cx="604.21" cy="144.28" r="0.68"/><circle cx="617.38" cy="140.17" r="0.68"/><circle cx="615.57" cy="131.35" r="0.68"/><circle cx="604.88" cy="136.32" r="0.68"/><circle cx="618.06" cy="115.80" r="0.68"/><circle cx="605.99" cy="115.94" r="0.68"/><circle cx="606.20" cy="132.16" r="0.68"/><circle cx="618.80" cy="134.32" r="0.68"/><circle cx="606.04" cy="142.33" r="0.68"/><circle cx="618.50" cy="131.27" r="0.68"/><circle cx="608.90" cy="135.18" r="0.68"/><circle cx="616.36" cy="136.74" r="0.68"/><circle cx="602.67" cy="131.09" r="0.68"/><circle cx="616.27" cy="148.15" r="0.68"/><circle cx="617.92" cy="112.94" r="0.68"/><circle cx="606.09" cy="150.94" r="0.68"/><circle cx="611.85" cy="115.96" r="0.68"/><circle cx="619.22" cy="131.89" r="0.68"/><circle cx="611.75" cy="164.75" r="0.68"/><circle cx="612.01" cy="116.95" r="0.68"/><circle cx="615.13" cy="130.22" r="0.68"/><circle cx="619.84" cy="134.65" r="0.68"/><circle cx="616.73" cy="140.46" r="0.68"/><circle cx="619.41" cy="134.82" r="0.68"/><circle cx="618.64" cy="127.73" r="0.68"/><circle cx="619.05" cy="124.82" r="0.68"/><circle cx="610.71" cy="115.31" r="0.68"/><circle cx="614.43" cy="126.39" r="0.68"/><circle cx="608.52" cy="140.38" r="0.68"/><circle cx="605.88" cy="146.97" r="0.68"/><circle cx="605.50" cy="139.30" r="0.68"/><circle cx="615.19" cy="126.21" r="0.68"/><circle cx="604.27" cy="145.21" r="0.68"/><circle cx="607.34" cy="146.16" r="0.68"/><circle cx="606.39" cy="139.34" r="0.68"/><circle cx="606.25" cy="141.69" r="0.68"/><circle cx="616.91" cy="132.79" r="0.68"/><circle cx="619.67" cy="140.25" r="0.68"/><circle cx="607.95" cy="144.90" r="0.68"/><circle cx="619.41" cy="140.46" r="0.68"/><circle cx="617.65" cy="120.74" r="0.68"/><circle cx="615.26" cy="137.75" r="0.68"/><circle cx="618.92" cy="145.12" r="0.68"/><circle cx="603.15" cy="130.78" r="0.68"/><circle cx="613.12" cy="131.74" r="0.68"/><circle cx="616.76" cy="139.33" r="0.68"/><circle cx="608.77" cy="147.73" r="0.68"/><circle cx="613.80" cy="140.79" r="0.68"/><circle cx="619.60" cy="144.31" r="0.68"/><circle cx="613.99" cy="141.13" r="0.68"/></g>
<g fill="#000"><circle cx="627.18" cy="126.80" r="0.68"/><circle cx="633.15" cy="130.20" r="0.68"/><circle cx="640.10" cy="158.77" r="0.68"/><circle cx="637.40" cy="124.14" r="0.68"/><circle cx="625.68" cy="121.74" r="0.68"/><circle cx="631.20" cy="132.67" r="0.68"/><circle cx="641.12" cy="105.02" r="0.68"/><circle cx="639.23" cy="126.53" r="0.68"/><circle cx="626.40" cy="118.86" r="0.68"/><circle cx="626.29" cy="127.27" r="0.68"/><circle cx="640.94" cy="142.03" r="0.68"/><circle cx="628.40" cy="135.08" r="0.68"/><circle cx="622.83" cy="117.64" r="0.68"/><circle cx="634.92" cy="117.10" r="0.68"/><circle cx="624.39" cy="133.61" r="0.68"/><circle cx="629.55" cy="117.12" r="0.68"/><circle cx="639.98" cy="138.33" r="0.68"/><circle cx="637.90" cy="143.74" r="0.68"/><circle cx="627.87" cy="159.58" r="0.68"/><circle cx="623.16" cy="117.90" r="0.68"/><circle cx="625.82" cy="123.69" r="0.68"/><circle cx="637.98" cy="139.71" r="0.68"/><circle cx="624.68" cy="121.77" r="0.68"/><circle cx="635.31" cy="135.23" r="0.68"/><circle cx="625.97" cy="138.19" r="0.68"/><circle cx="624.39" cy="125.05" r="0.68"/><circle cx="639.83" cy="129.85" r="0.68"/><circle cx="636.59" cy="127.09" r="0.68"/><circle cx="624.19" cy="151.31" r="0.68"/><circle cx="631.64" cy="128.23" r="0.68"/><circle cx="635.88" cy="140.06" r="0.68"/><circle cx="623.99" cy="137.57" r="0.68"/><circle cx="626.53" cy="135.39" r="0.68"/><circle cx="627.15" cy="138.58" r="0.68"/><circle cx="624.79" cy="96.85" r="0.68"/><circle cx="632.96" cy="154.49" r="0.68"/><circle cx="640.17" cy="118.84" r="0.68"/><circle cx="630.42" cy="113.64" r="0.68"/><circle cx="639.56" cy="128.88" r="0.68"/><circle cx="627.83" cy="119.82" r="0.68"/><circle cx="636.30" cy="101.75" r="0.68"/><circle cx="629.40" cy="149.11" r="0.68"/><circle cx="626.43" cy="125.69" r="0.68"/><circle cx="630.22" cy="123.92" r="0.68"/><circle cx="634.08" cy="109.92" r="0.68"/><circle cx="630.22" cy="156.35" r="0.68"/><circle cx="628.20" cy="137.59" r="0.68"/><circle cx="640.63" cy="134.49" r="0.68"/><circle cx="632.69" cy="104.91" r="0.68"/><circle cx="635.97" cy="121.47" r="0.68"/><circle cx="639.01" cy="138.59" r="0.68"/><circle cx="636.98" cy="140.49" r="0.68"/><circle cx="640.76" cy="148.54" r="0.68"/><circle cx="635.89" cy="129.46" r="0.68"/><circle cx="638.07" cy="124.48" r="0.68"/><circle cx="633.20" cy="117.72" r="0.68"/><circle cx="632.58" cy="102.72" r="0.68"/><circle cx="631.02" cy="124.29" r="0.68"/><circle cx="625.05" cy="164.11" r="0.68"/><circle cx="627.63" cy="138.36" r="0.68"/><circle cx="624.04" cy="124.77" r="0.68"/><circle cx="639.03" cy="118.14" r="0.68"/><circle cx="627.99" cy="114.47" r="0.68"/><circle cx="628.46" cy="149.79" r="0.68"/><circle cx="631.92" cy="135.88" r="0.68"/><circle cx="628.18" cy="133.58" r="0.68"/><circle cx="634.27" cy="129.67" r="0.68"/><circle cx="638.16" cy="129.71" r="0.68"/><circle cx="626.44" cy="139.86" r="0.68"/><circle cx="633.08" cy="136.98" r="0.68"/><circle cx="630.30" cy="103.38" r="0.68"/><circle cx="632.15" cy="149.43" r="0.68"/><circle cx="635.68" cy="126.76" r="0.68"/><circle cx="640.26" cy="153.67" r="0.68"/><circle cx="626.14" cy="130.76" r="0.68"/><circle cx="637.69" cy="114.02" r="0.68"/><circle cx="622.64" cy="131.93" r="0.68"/><circle cx="625.36" cy="144.33" r="0.68"/><circle cx="624.76" cy="108.85" r="0.68"/><circle cx="626.85" cy="110.31" r="0.68"/><circle cx="622.62" cy="113.41" r="0.68"/><circle cx="632.43" cy="137.89" r="0.68"/><circle cx="632.65" cy="132.87" r="0.68"/><circle cx="634.84" cy="123.42" r="0.68"/><circle cx="628.57" cy="133.47" r="0.68"/><circle cx="623.09" cy="135.21" r="0.68"/><circle cx="638.92" cy="120.71" r="0.68"/><circle cx="628.11" cy="162.85" r="0.68"/><circle cx="635.37" cy="140.64" r="0.68"/><circle cx="627.30" cy="148.22" r="0.68"/><circle cx="625.07" cy="118.91" r="0.68"/><circle cx="640.64" cy="165.24" r="0.68"/><circle cx="637.54" cy="132.88" r="0.68"/><circle cx="624.88" cy="119.34" r="0.68"/><circle cx="639.58" cy="102.17" r="0.68"/><circle cx="635.91" cy="115.75" r="0.68"/><circle cx="636.36" cy="114.19" r="0.68"/><circle cx="630.40" cy="123.31" r="0.68"/><circle cx="631.24" cy="121.99" r="0.68"/><circle cx="625.27" cy="141.57" r="0.68"/><circle cx="628.51" cy="136.21" r="0.68"/><circle cx="630.32" cy="140.63" r="0.68"/><circle cx="622.63" cy="119.08" r="0.68"/><circle cx="627.82" cy="113.05" r="0.68"/><circle cx="631.46" cy="110.87" r="0.68"/><circle cx="626.60" cy="132.07" r="0.68"/><circle cx="633.76" cy="154.41" r="0.68"/><circle cx="634.21" cy="102.65" r="0.68"/><circle cx="624.26" cy="113.13" r="0.68"/><circle cx="633.43" cy="140.16" r="0.68"/><circle cx="627.92" cy="143.03" r="0.68"/><circle cx="628.29" cy="115.61" r="0.68"/><circle cx="633.83" cy="139.80" r="0.68"/><circle cx="634.97" cy="132.85" r="0.68"/><circle cx="623.37" cy="143.64" r="0.68"/><circle cx="627.21" cy="130.08" r="0.68"/><circle cx="636.19" cy="140.76" r="0.68"/><circle cx="629.94" cy="153.31" r="0.68"/><circle cx="632.35" cy="120.89" r="0.68"/><circle cx="624.04" cy="134.56" r="0.68"/><circle cx="635.50" cy="127.81" r="0.68"/><circle cx="639.77" cy="144.33" r="0.68"/><circle cx="626.15" cy="135.33" r="0.68"/><circle cx="627.04" cy="137.80" r="0.68"/><circle cx="632.49" cy="124.23" r="0.68"/><circle cx="623.11" cy="146.28" r="0.68"/><circle cx="635.59" cy="137.53" r="0.68"/><circle cx="639.86" cy="122.40" r="0.68"/><circle cx="637.55" cy="117.80" r="0.68"/><circle cx="637.47" cy="117.83" r="0.68"/><circle cx="640.23" cy="142.74" r="0.68"/><circle cx="631.26" cy="142.61" r="0.68"/><circle cx="630.84" cy="138.41" r="0.68"/><circle cx="637.43" cy="120.41" r="0.68"/><circle cx="623.40" cy="112.71" r="0.68"/><circle cx="631.11" cy="127.77" r="0.68"/><circle cx="629.72" cy="141.15" r="0.68"/><circle cx="639.37" cy="148.39" r="0.68"/><circle cx="626.18" cy="141.99" r="0.68"/><circle cx="628.52" cy="140.53" r="0.68"/><circle cx="637.23" cy="134.51" r="0.68"/><circle cx="640.58" cy="138.67" r="0.68"/><circle cx="627.49" cy="121.68" r="0.68"/><circle cx="628.68" cy="143.52" r="0.68"/><circle cx="634.70" cy="110.10" r="0.68"/><circle cx="629.20" cy="131.05" r="0.68"/><circle cx="638.73" cy="134.85" r="0.68"/><circle cx="638.71" cy="143.90" r="0.68"/><circle cx="637.26" cy="119.48" r="0.68"/><circle cx="635.42" cy="149.43" r="0.68"/><circle cx="637.66" cy="123.65" r="0.68"/><circle cx="628.36" cy="142.31" r="0.68"/><circle cx="627.98" cy="120.30" r="0.68"/><circle cx="630.52" cy="142.05" r="0.68"/><circle cx="628.03" cy="140.90" r="0.68"/><circle cx="637.43" cy="131.69" r="0.68"/><circle cx="632.32" cy="127.74" r="0.68"/><circle cx="638.26" cy="132.50" r="0.68"/><circle cx="627.91" cy="139.26" r="0.68"/><circle cx="640.70" cy="127.54" r="0.68"/><circle cx="626.68" cy="131.27" r="0.68"/><circle cx="635.88" cy="134.66" r="0.68"/><circle cx="639.44" cy="108.73" r="0.68"/><circle cx="624.29" cy="116.83" r="0.68"/><circle cx="631.41" cy="120.97" r="0.68"/><circle cx="630.14" cy="130.02" r="0.68"/><circle cx="632.00" cy="130.78" r="0.68"/><circle cx="629.07" cy="126.63" r="0.68"/><circle cx="629.47" cy="160.62" r="0.68"/><circle cx="637.88" cy="108.90" r="0.68"/><circle cx="635.16" cy="146.41" r="0.68"/><circle cx="632.76" cy="129.84" r="0.68"/><circle cx="625.72" cy="135.12" r="0.68"/><circle cx="630.99" cy="116.01" r="0.68"/><circle cx="625.15" cy="120.85" r="0.68"/><circle cx="624.09" cy="126.79" r="0.68"/><circle cx="635.97" cy="144.02" r="0.68"/><circle cx="637.16" cy="115.84" r="0.68"/><circle cx="637.49" cy="133.57" r="0.68"/><circle cx="623.81" cy="100.16" r="0.68"/><circle cx="635.15" cy="147.58" r="0.68"/><circle cx="628.07" cy="125.82" r="0.68"/><circle cx="630.20" cy="144.58" r="0.68"/><circle cx="639.16" cy="112.93" r="0.68"/><circle cx="635.26" cy="157.21" r="0.68"/><circle cx="626.27" cy="117.48" r="0.68"/><circle cx="633.97" cy="155.92" r="0.68"/><circle cx="623.44" cy="124.80" r="0.68"/><circle cx="636.05" cy="154.95" r="0.68"/><circle cx="635.53" cy="124.13" r="0.68"/><circle cx="637.34" cy="122.44" r="0.68"/><circle cx="629.80" cy="125.63" r="0.68"/><circle cx="628.66" cy="149.78" r="0.68"/><circle cx="628.29" cy="126.12" r="0.68"/><circle cx="629.80" cy="158.11" r="0.68"/><circle cx="625.90" cy="128.55" r="0.68"/><circle cx="631.64" cy="143.42" r="0.68"/><circle cx="634.46" cy="141.81" r="0.68"/><circle cx="624.78" cy="123.46" r="0.68"/><circle cx="624.21" cy="127.45" r="0.68"/><circle cx="629.26" cy="134.48" r="0.68"/><circle cx="639.30" cy="149.07" r="0.68"/><circle cx="635.57" cy="130.97" r="0.68"/><circle cx="632.79" cy="133.48" r="0.68"/><circle cx="623.99" cy="162.02" r="0.68"/><circle cx="637.82" cy="134.28" r="0.68"/><circle cx="634.51" cy="123.96" r="0.68"/><circle cx="625.77" cy="119.50" r="0.68"/><circle cx="637.69" cy="121.29" r="0.68"/><circle cx="626.07" cy="139.42" r="0.68"/><circle cx="627.81" cy="159.14" r="0.68"/><circle cx="624.71" cy="121.51" r="0.68"/><circle cx="639.88" cy="125.81" r="0.68"/><circle cx="630.33" cy="133.24" r="0.68"/><circle cx="629.12" cy="109.20" r="0.68"/><circle cx="632.40" cy="119.88" r="0.68"/><circle cx="631.63" cy="104.26" r="0.68"/><circle cx="627.01" cy="127.89" r="0.68"/><circle cx="634.67" cy="135.78" r="0.68"/><circle cx="627.43" cy="117.97" r="0.68"/></g>
<text x="510.00" y="44.00" font-size="10.5" text-anchor="middle" font-weight="normal" fill="#000" >a</text>
<text x="529.60" y="36.70" font-size="10.5" text-anchor="middle" font-weight="normal" fill="#000" >b</text>
<text x="550.00" y="69.50" font-size="10.5" text-anchor="middle" font-weight="normal" fill="#000" >c</text>
<text x="590.80" y="37.50" font-size="10.5" text-anchor="middle" font-weight="normal" fill="#000" >a′</text>
<text x="611.70" y="99.00" font-size="10.5" text-anchor="middle" font-weight="normal" fill="#000" >b′</text>
<text x="632.00" y="85.40" font-size="10.5" text-anchor="middle" font-weight="normal" fill="#000" >c′</text>
<line x1="651.4" y1="29.30" x2="651.4" y2="40.50" stroke="#333" stroke-width="0.8"/>
<rect x="648.4" y="31.30" width="6.1" height="7.3" fill="#c6ebe3" stroke="#555" stroke-width="0.8"/>
<line x1="648.4" y1="34.90" x2="654.5" y2="34.90" stroke="#555" stroke-width="0.8"/>
<circle cx="651.4" cy="34.90" r="0.8" fill="#000"/>
<line x1="666.42" y1="35.20" x2="669.09" y2="35.20" stroke="#444" stroke-width="0.8"/>
<line x1="665.64" y1="37.09" x2="667.53" y2="38.97" stroke="#333" stroke-width="0.8"/>
<line x1="663.76" y1="37.87" x2="663.76" y2="40.53" stroke="#444" stroke-width="0.8"/>
<line x1="661.87" y1="37.09" x2="659.99" y2="38.97" stroke="#333" stroke-width="0.8"/>
<line x1="661.09" y1="35.20" x2="658.42" y2="35.20" stroke="#444" stroke-width="0.8"/>
<line x1="661.87" y1="33.31" x2="659.99" y2="31.43" stroke="#333" stroke-width="0.8"/>
<line x1="663.76" y1="32.53" x2="663.76" y2="29.87" stroke="#444" stroke-width="0.8"/>
<line x1="665.64" y1="33.31" x2="667.53" y2="31.43" stroke="#333" stroke-width="0.8"/>
<circle cx="663.76" cy="35.20" r="1.71" fill="#fff" stroke="#000" stroke-width="0.85"/>
<line x1="680.31" y1="35.20" x2="682.98" y2="35.20" stroke="#444" stroke-width="0.8"/>
<line x1="679.53" y1="37.09" x2="681.41" y2="38.97" stroke="#333" stroke-width="0.8"/>
<line x1="677.64" y1="37.87" x2="677.64" y2="40.53" stroke="#444" stroke-width="0.8"/>
<line x1="675.76" y1="37.09" x2="673.87" y2="38.97" stroke="#333" stroke-width="0.8"/>
<line x1="674.98" y1="35.20" x2="672.31" y2="35.20" stroke="#444" stroke-width="0.8"/>
<line x1="675.76" y1="33.31" x2="673.87" y2="31.43" stroke="#333" stroke-width="0.8"/>
<line x1="677.64" y1="32.53" x2="677.64" y2="29.87" stroke="#444" stroke-width="0.8"/>
<line x1="679.53" y1="33.31" x2="681.41" y2="31.43" stroke="#333" stroke-width="0.8"/>
<circle cx="677.64" cy="35.20" r="1.71" fill="#fff" stroke="#000" stroke-width="0.85"/>
<line x1="672.62" y1="29.93" x2="668.78" y2="40.47" stroke="#111" stroke-width="1.0"/>
<line x1="651.4" y1="42.40" x2="651.4" y2="53.60" stroke="#333" stroke-width="0.8"/>
<rect x="648.4" y="44.40" width="6.1" height="7.3" fill="#3a9a8d" stroke="#333" stroke-width="0.8"/>
<line x1="648.4" y1="48.00" x2="654.5" y2="48.00" stroke="#333" stroke-width="0.8"/>
<circle cx="651.4" cy="48.00" r="0.8" fill="#000"/>
<line x1="666.42" y1="48.30" x2="669.09" y2="48.30" stroke="#444" stroke-width="0.8"/>
<line x1="665.64" y1="50.19" x2="667.53" y2="52.07" stroke="#333" stroke-width="0.8"/>
<line x1="663.76" y1="50.97" x2="663.76" y2="53.63" stroke="#444" stroke-width="0.8"/>
<line x1="661.87" y1="50.19" x2="659.99" y2="52.07" stroke="#333" stroke-width="0.8"/>
<line x1="661.09" y1="48.30" x2="658.42" y2="48.30" stroke="#444" stroke-width="0.8"/>
<line x1="661.87" y1="46.41" x2="659.99" y2="44.53" stroke="#333" stroke-width="0.8"/>
<line x1="663.76" y1="45.63" x2="663.76" y2="42.97" stroke="#444" stroke-width="0.8"/>
<line x1="665.64" y1="46.41" x2="667.53" y2="44.53" stroke="#333" stroke-width="0.8"/>
<circle cx="663.76" cy="48.30" r="1.71" fill="#fff" stroke="#000" stroke-width="0.85"/>
<line x1="680.31" y1="48.30" x2="682.98" y2="48.30" stroke="#444" stroke-width="0.8"/>
<line x1="679.53" y1="50.19" x2="681.41" y2="52.07" stroke="#333" stroke-width="0.8"/>
<line x1="677.64" y1="50.97" x2="677.64" y2="53.63" stroke="#444" stroke-width="0.8"/>
<line x1="675.76" y1="50.19" x2="673.87" y2="52.07" stroke="#333" stroke-width="0.8"/>
<line x1="674.98" y1="48.30" x2="672.31" y2="48.30" stroke="#444" stroke-width="0.8"/>
<line x1="675.76" y1="46.41" x2="673.87" y2="44.53" stroke="#333" stroke-width="0.8"/>
<line x1="677.64" y1="45.63" x2="677.64" y2="42.97" stroke="#444" stroke-width="0.8"/>
<line x1="679.53" y1="46.41" x2="681.41" y2="44.53" stroke="#333" stroke-width="0.8"/>
<circle cx="677.64" cy="48.30" r="2.21" fill="#000"/>
<line x1="672.62" y1="43.03" x2="668.78" y2="53.57" stroke="#111" stroke-width="1.0"/>
<line x1="651.4" y1="56.20" x2="651.4" y2="67.40" stroke="#333" stroke-width="0.8"/>
<rect x="648.4" y="58.20" width="6.1" height="7.3" fill="#0b5f55" stroke="#222" stroke-width="0.8"/>
<line x1="648.4" y1="61.80" x2="654.5" y2="61.80" stroke="#222" stroke-width="0.8"/>
<circle cx="651.4" cy="61.80" r="0.8" fill="#000"/>
<line x1="666.42" y1="62.10" x2="669.09" y2="62.10" stroke="#444" stroke-width="0.8"/>
<line x1="665.64" y1="63.99" x2="667.53" y2="65.87" stroke="#333" stroke-width="0.8"/>
<line x1="663.76" y1="64.77" x2="663.76" y2="67.43" stroke="#444" stroke-width="0.8"/>
<line x1="661.87" y1="63.99" x2="659.99" y2="65.87" stroke="#333" stroke-width="0.8"/>
<line x1="661.09" y1="62.10" x2="658.42" y2="62.10" stroke="#444" stroke-width="0.8"/>
<line x1="661.87" y1="60.21" x2="659.99" y2="58.33" stroke="#333" stroke-width="0.8"/>
<line x1="663.76" y1="59.43" x2="663.76" y2="56.77" stroke="#444" stroke-width="0.8"/>
<line x1="665.64" y1="60.21" x2="667.53" y2="58.33" stroke="#333" stroke-width="0.8"/>
<circle cx="663.76" cy="62.10" r="2.21" fill="#000"/>
<line x1="680.31" y1="62.10" x2="682.98" y2="62.10" stroke="#444" stroke-width="0.8"/>
<line x1="679.53" y1="63.99" x2="681.41" y2="65.87" stroke="#333" stroke-width="0.8"/>
<line x1="677.64" y1="64.77" x2="677.64" y2="67.43" stroke="#444" stroke-width="0.8"/>
<line x1="675.76" y1="63.99" x2="673.87" y2="65.87" stroke="#333" stroke-width="0.8"/>
<line x1="674.98" y1="62.10" x2="672.31" y2="62.10" stroke="#444" stroke-width="0.8"/>
<line x1="675.76" y1="60.21" x2="673.87" y2="58.33" stroke="#333" stroke-width="0.8"/>
<line x1="677.64" y1="59.43" x2="677.64" y2="56.77" stroke="#444" stroke-width="0.8"/>
<line x1="679.53" y1="60.21" x2="681.41" y2="58.33" stroke="#333" stroke-width="0.8"/>
<circle cx="677.64" cy="62.10" r="2.21" fill="#000"/>
<line x1="672.62" y1="56.83" x2="668.78" y2="67.37" stroke="#111" stroke-width="1.0"/>
<text x="65.20" y="238.50" font-size="15.5" text-anchor="start" font-weight="bold" fill="#000" >d</text>
<text x="164.00" y="244.90" font-size="10.5" text-anchor="middle" font-weight="normal" fill="#000" >Control</text>
<text x="261.20" y="243.60" font-size="10.5" text-anchor="middle" font-weight="normal" fill="#000" >DC3000</text>
<text x="432.20" y="245.30" font-size="10.5" text-anchor="middle" font-weight="normal" fill="#000" >Control</text>
<text x="533.50" y="245.30" font-size="10.5" text-anchor="middle" font-weight="normal" fill="#000" >DC3000</text>
<line x1="84.10" y1="291.50" x2="89.10" y2="291.50" stroke="#444" stroke-width="0.95"/>
<line x1="83.05" y1="294.05" x2="86.58" y2="297.58" stroke="#333" stroke-width="0.95"/>
<line x1="80.50" y1="295.10" x2="80.50" y2="300.10" stroke="#444" stroke-width="0.95"/>
<line x1="77.95" y1="294.05" x2="74.42" y2="297.58" stroke="#333" stroke-width="0.95"/>
<line x1="76.90" y1="291.50" x2="71.90" y2="291.50" stroke="#444" stroke-width="0.95"/>
<line x1="77.95" y1="288.95" x2="74.42" y2="285.42" stroke="#333" stroke-width="0.95"/>
<line x1="80.50" y1="287.90" x2="80.50" y2="282.90" stroke="#444" stroke-width="0.95"/>
<line x1="83.05" y1="288.95" x2="86.58" y2="285.42" stroke="#333" stroke-width="0.95"/>
<circle cx="80.50" cy="291.50" r="2.75" fill="#fff" stroke="#000" stroke-width="1.2"/>
<line x1="106.10" y1="291.50" x2="111.10" y2="291.50" stroke="#444" stroke-width="0.95"/>
<line x1="105.05" y1="294.05" x2="108.58" y2="297.58" stroke="#333" stroke-width="0.95"/>
<line x1="102.50" y1="295.10" x2="102.50" y2="300.10" stroke="#444" stroke-width="0.95"/>
<line x1="99.95" y1="294.05" x2="96.42" y2="297.58" stroke="#333" stroke-width="0.95"/>
<line x1="98.90" y1="291.50" x2="93.90" y2="291.50" stroke="#444" stroke-width="0.95"/>
<line x1="99.95" y1="288.95" x2="96.42" y2="285.42" stroke="#333" stroke-width="0.95"/>
<line x1="102.50" y1="287.90" x2="102.50" y2="282.90" stroke="#444" stroke-width="0.95"/>
<line x1="105.05" y1="288.95" x2="108.58" y2="285.42" stroke="#333" stroke-width="0.95"/>
<circle cx="102.50" cy="291.50" r="2.75" fill="#fff" stroke="#000" stroke-width="1.2"/>
<line x1="94.60" y1="282.70" x2="88.40" y2="299.70" stroke="#111" stroke-width="1.3"/>
<line x1="83.10" y1="360.50" x2="88.10" y2="360.50" stroke="#444" stroke-width="0.95"/>
<line x1="82.05" y1="363.05" x2="85.58" y2="366.58" stroke="#333" stroke-width="0.95"/>
<line x1="79.50" y1="364.10" x2="79.50" y2="369.10" stroke="#444" stroke-width="0.95"/>
<line x1="76.95" y1="363.05" x2="73.42" y2="366.58" stroke="#333" stroke-width="0.95"/>
<line x1="75.90" y1="360.50" x2="70.90" y2="360.50" stroke="#444" stroke-width="0.95"/>
<line x1="76.95" y1="357.95" x2="73.42" y2="354.42" stroke="#333" stroke-width="0.95"/>
<line x1="79.50" y1="356.90" x2="79.50" y2="351.90" stroke="#444" stroke-width="0.95"/>
<line x1="82.05" y1="357.95" x2="85.58" y2="354.42" stroke="#333" stroke-width="0.95"/>
<circle cx="79.50" cy="360.50" r="2.75" fill="#fff" stroke="#000" stroke-width="1.2"/>
<line x1="106.10" y1="360.50" x2="111.10" y2="360.50" stroke="#444" stroke-width="0.95"/>
<line x1="105.05" y1="363.05" x2="108.58" y2="366.58" stroke="#333" stroke-width="0.95"/>
<line x1="102.50" y1="364.10" x2="102.50" y2="369.10" stroke="#444" stroke-width="0.95"/>
<line x1="99.95" y1="363.05" x2="96.42" y2="366.58" stroke="#333" stroke-width="0.95"/>
<line x1="98.90" y1="360.50" x2="93.90" y2="360.50" stroke="#444" stroke-width="0.95"/>
<line x1="99.95" y1="357.95" x2="96.42" y2="354.42" stroke="#333" stroke-width="0.95"/>
<line x1="102.50" y1="356.90" x2="102.50" y2="351.90" stroke="#444" stroke-width="0.95"/>
<line x1="105.05" y1="357.95" x2="108.58" y2="354.42" stroke="#333" stroke-width="0.95"/>
<circle cx="102.50" cy="360.50" r="3.25" fill="#000"/>
<line x1="94.20" y1="351.70" x2="88.00" y2="368.70" stroke="#111" stroke-width="1.3"/>
<rect x="121.70" y="257.00" width="92.50" height="68.70" fill="#1a1a1a"/>
<rect x="218.30" y="257.00" width="92.30" height="68.70" fill="#1a1a1a"/>
<rect x="121.70" y="332.30" width="92.50" height="69.60" fill="#1a1a1a"/>
<rect x="218.30" y="332.30" width="92.50" height="69.60" fill="#1a1a1a"/>
<rect x="389.70" y="256.10" width="91.30" height="68.10" fill="#1a1a1a"/>
<rect x="486.10" y="256.10" width="91.90" height="68.10" fill="#1a1a1a"/>
<rect x="389.80" y="331.60" width="91.40" height="68.70" fill="#1a1a1a"/>
<rect x="486.10" y="331.60" width="92.00" height="68.70" fill="#1a1a1a"/>
<radialGradient id="g2" cx="0.5" cy="0.42" r="0.6"><stop offset="0" stop-color="#bfd784"/><stop offset="0.65" stop-color="#bfd784"/><stop offset="1" stop-color="#90be46"/></radialGradient>
<path transform="translate(125.00,262.00) scale(18.70,54.40)" d="M0.5 0 C0.78 0 0.98 0.18 1 0.42 C1 0.62 0.85 0.76 0.66 0.86 C0.6 0.9 0.56 0.95 0.54 1 L0.46 1 C0.44 0.95 0.4 0.9 0.34 0.86 C0.15 0.76 0 0.62 0 0.42 C0.02 0.18 0.22 0 0.5 0 Z" fill="url(#g2)"/>
<path d="M0.5 0 C0.78 0 0.98 0.18 1 0.42 C1 0.62 0.85 0.76 0.66 0.86 C0.6 0.9 0.56 0.95 0.54 1 L0.46 1 C0.44 0.95 0.4 0.9 0.34 0.86 C0.15 0.76 0 0.62 0 0.42 C0.02 0.18 0.22 0 0.5 0 Z" transform="translate(125.00,262.00) scale(18.70,54.40)" fill="none" stroke="#90be46" stroke-width="1.1" vector-effect="non-scaling-stroke" opacity="0.85"/>
<line x1="134.35" y1="267.44" x2="134.35" y2="315.31" stroke="#c8dc7a" stroke-width="0.9" opacity="0.7"/>
<path transform="translate(157.40,265.80) scale(19.20,50.60)" d="M0.5 0 C0.78 0 0.98 0.18 1 0.42 C1 0.62 0.85 0.76 0.66 0.86 C0.6 0.9 0.56 0.95 0.54 1 L0.46 1 C0.44 0.95 0.4 0.9 0.34 0.86 C0.15 0.76 0 0.62 0 0.42 C0.02 0.18 0.22 0 0.5 0 Z" fill="url(#g2)"/>
<path d="M0.5 0 C0.78 0 0.98 0.18 1 0.42 C1 0.62 0.85 0.76 0.66 0.86 C0.6 0.9 0.56 0.95 0.54 1 L0.46 1 C0.44 0.95 0.4 0.9 0.34 0.86 C0.15 0.76 0 0.62 0 0.42 C0.02 0.18 0.22 0 0.5 0 Z" transform="translate(157.40,265.80) scale(19.20,50.60)" fill="none" stroke="#90be46" stroke-width="1.1" vector-effect="non-scaling-stroke" opacity="0.85"/>
<line x1="167.00" y1="270.86" x2="167.00" y2="315.39" stroke="#c8dc7a" stroke-width="0.9" opacity="0.7"/>
<path transform="translate(189.00,267.00) scale(19.00,54.50)" d="M0.5 0 C0.78 0 0.98 0.18 1 0.42 C1 0.62 0.85 0.76 0.66 0.86 C0.6 0.9 0.56 0.95 0.54 1 L0.46 1 C0.44 0.95 0.4 0.9 0.34 0.86 C0.15 0.76 0 0.62 0 0.42 C0.02 0.18 0.22 0 0.5 0 Z" fill="url(#g2)"/>
<path d="M0.5 0 C0.78 0 0.98 0.18 1 0.42 C1 0.62 0.85 0.76 0.66 0.86 C0.6 0.9 0.56 0.95 0.54 1 L0.46 1 C0.44 0.95 0.4 0.9 0.34 0.86 C0.15 0.76 0 0.62 0 0.42 C0.02 0.18 0.22 0 0.5 0 Z" transform="translate(189.00,267.00) scale(19.00,54.50)" fill="none" stroke="#90be46" stroke-width="1.1" vector-effect="non-scaling-stroke" opacity="0.85"/>
<line x1="198.50" y1="272.45" x2="198.50" y2="320.41" stroke="#c8dc7a" stroke-width="0.9" opacity="0.7"/>
<path transform="translate(223.00,266.30) scale(19.00,48.10)" d="M0.5 0 C0.78 0 0.98 0.18 1 0.42 C1 0.62 0.85 0.76 0.66 0.86 C0.6 0.9 0.56 0.95 0.54 1 L0.46 1 C0.44 0.95 0.4 0.9 0.34 0.86 C0.15 0.76 0 0.62 0 0.42 C0.02 0.18 0.22 0 0.5 0 Z" fill="url(#g2)"/>
<path d="M0.5 0 C0.78 0 0.98 0.18 1 0.42 C1 0.62 0.85 0.76 0.66 0.86 C0.6 0.9 0.56 0.95 0.54 1 L0.46 1 C0.44 0.95 0.4 0.9 0.34 0.86 C0.15 0.76 0 0.62 0 0.42 C0.02 0.18 0.22 0 0.5 0 Z" transform="translate(223.00,266.30) scale(19.00,48.10)" fill="none" stroke="#90be46" stroke-width="1.1" vector-effect="non-scaling-stroke" opacity="0.85"/>
<line x1="232.50" y1="271.11" x2="232.50" y2="313.44" stroke="#c8dc7a" stroke-width="0.9" opacity="0.7"/>
<path transform="translate(256.00,269.00) scale(21.40,53.00)" d="M0.5 0 C0.78 0 0.98 0.18 1 0.42 C1 0.62 0.85 0.76 0.66 0.86 C0.6 0.9 0.56 0.95 0.54 1 L0.46 1 C0.44 0.95 0.4 0.9 0.34 0.86 C0.15 0.76 0 0.62 0 0.42 C0.02 0.18 0.22 0 0.5 0 Z" fill="url(#g2)"/>
<path d="M0.5 0 C0.78 0 0.98 0.18 1 0.42 C1 0.62 0.85 0.76 0.66 0.86 C0.6 0.9 0.56 0.95 0.54 1 L0.46 1 C0.44 0.95 0.4 0.9 0.34 0.86 C0.15 0.76 0 0.62 0 0.42 C0.02 0.18 0.22 0 0.5 0 Z" transform="translate(256.00,269.00) scale(21.40,53.00)" fill="none" stroke="#90be46" stroke-width="1.1" vector-effect="non-scaling-stroke" opacity="0.85"/>
<line x1="266.70" y1="274.30" x2="266.70" y2="320.94" stroke="#c8dc7a" stroke-width="0.9" opacity="0.7"/>
<path transform="translate(289.00,272.00) scale(18.20,48.40)" d="M0.5 0 C0.78 0 0.98 0.18 1 0.42 C1 0.62 0.85 0.76 0.66 0.86 C0.6 0.9 0.56 0.95 0.54 1 L0.46 1 C0.44 0.95 0.4 0.9 0.34 0.86 C0.15 0.76 0 0.62 0 0.42 C0.02 0.18 0.22 0 0.5 0 Z" fill="url(#g2)"/>
<path d="M0.5 0 C0.78 0 0.98 0.18 1 0.42 C1 0.62 0.85 0.76 0.66 0.86 C0.6 0.9 0.56 0.95 0.54 1 L0.46 1 C0.44 0.95 0.4 0.9 0.34 0.86 C0.15 0.76 0 0.62 0 0.42 C0.02 0.18 0.22 0 0.5 0 Z" transform="translate(289.00,272.00) scale(18.20,48.40)" fill="none" stroke="#90be46" stroke-width="1.1" vector-effect="non-scaling-stroke" opacity="0.85"/>
<line x1="298.10" y1="276.84" x2="298.10" y2="319.43" stroke="#c8dc7a" stroke-width="0.9" opacity="0.7"/>
<radialGradient id="g3" cx="0.5" cy="0.42" r="0.6"><stop offset="0" stop-color="#bad476"/><stop offset="0.65" stop-color="#bad476"/><stop offset="1" stop-color="#90c044"/></radialGradient>
<path transform="translate(127.80,339.30) scale(19.00,55.70)" d="M0.5 0 C0.78 0 0.98 0.18 1 0.42 C1 0.62 0.85 0.76 0.66 0.86 C0.6 0.9 0.56 0.95 0.54 1 L0.46 1 C0.44 0.95 0.4 0.9 0.34 0.86 C0.15 0.76 0 0.62 0 0.42 C0.02 0.18 0.22 0 0.5 0 Z" fill="url(#g3)"/>
<path d="M0.5 0 C0.78 0 0.98 0.18 1 0.42 C1 0.62 0.85 0.76 0.66 0.86 C0.6 0.9 0.56 0.95 0.54 1 L0.46 1 C0.44 0.95 0.4 0.9 0.34 0.86 C0.15 0.76 0 0.62 0 0.42 C0.02 0.18 0.22 0 0.5 0 Z" transform="translate(127.80,339.30) scale(19.00,55.70)" fill="none" stroke="#90c044" stroke-width="1.1" vector-effect="non-scaling-stroke" opacity="0.85"/>
<line x1="137.30" y1="344.87" x2="137.30" y2="393.89" stroke="#c8dc7a" stroke-width="0.9" opacity="0.7"/>
<path transform="translate(158.00,341.50) scale(21.00,46.50)" d="M0.5 0 C0.78 0 0.98 0.18 1 0.42 C1 0.62 0.85 0.76 0.66 0.86 C0.6 0.9 0.56 0.95 0.54 1 L0.46 1 C0.44 0.95 0.4 0.9 0.34 0.86 C0.15 0.76 0 0.62 0 0.42 C0.02 0.18 0.22 0 0.5 0 Z" fill="url(#g3)"/>
<path d="M0.5 0 C0.78 0 0.98 0.18 1 0.42 C1 0.62 0.85 0.76 0.66 0.86 C0.6 0.9 0.56 0.95 0.54 1 L0.46 1 C0.44 0.95 0.4 0.9 0.34 0.86 C0.15 0.76 0 0.62 0 0.42 C0.02 0.18 0.22 0 0.5 0 Z" transform="translate(158.00,341.50) scale(21.00,46.50)" fill="none" stroke="#90c044" stroke-width="1.1" vector-effect="non-scaling-stroke" opacity="0.85"/>
<line x1="168.50" y1="346.15" x2="168.50" y2="387.07" stroke="#c8dc7a" stroke-width="0.9" opacity="0.7"/>
<path transform="translate(191.20,344.00) scale(19.30,50.20)" d="M0.5 0 C0.78 0 0.98 0.18 1 0.42 C1 0.62 0.85 0.76 0.66 0.86 C0.6 0.9 0.56 0.95 0.54 1 L0.46 1 C0.44 0.95 0.4 0.9 0.34 0.86 C0.15 0.76 0 0.62 0 0.42 C0.02 0.18 0.22 0 0.5 0 Z" fill="url(#g3)"/>
<path d="M0.5 0 C0.78 0 0.98 0.18 1 0.42 C1 0.62 0.85 0.76 0.66 0.86 C0.6 0.9 0.56 0.95 0.54 1 L0.46 1 C0.44 0.95 0.4 0.9 0.34 0.86 C0.15 0.76 0 0.62 0 0.42 C0.02 0.18 0.22 0 0.5 0 Z" transform="translate(191.20,344.00) scale(19.30,50.20)" fill="none" stroke="#90c044" stroke-width="1.1" vector-effect="non-scaling-stroke" opacity="0.85"/>
<line x1="200.85" y1="349.02" x2="200.85" y2="393.20" stroke="#c8dc7a" stroke-width="0.9" opacity="0.7"/>
<radialGradient id="g4" cx="0.5" cy="0.42" r="0.6"><stop offset="0" stop-color="#a6c264"/><stop offset="0.65" stop-color="#a6c264"/><stop offset="1" stop-color="#7ea63c"/></radialGradient>
<clipPath id="lf22"><path transform="translate(222.50,343.00) scale(20.80,51.20)" d="M0.5 0 C0.78 0 0.98 0.18 1 0.42 C1 0.62 0.85 0.76 0.66 0.86 C0.6 0.9 0.56 0.95 0.54 1 L0.46 1 C0.44 0.95 0.4 0.9 0.34 0.86 C0.15 0.76 0 0.62 0 0.42 C0.02 0.18 0.22 0 0.5 0 Z"/></clipPath>
<path transform="translate(222.50,343.00) scale(20.80,51.20)" d="M0.5 0 C0.78 0 0.98 0.18 1 0.42 C1 0.62 0.85 0.76 0.66 0.86 C0.6 0.9 0.56 0.95 0.54 1 L0.46 1 C0.44 0.95 0.4 0.9 0.34 0.86 C0.15 0.76 0 0.62 0 0.42 C0.02 0.18 0.22 0 0.5 0 Z" fill="url(#g4)"/>
<g clip-path="url(#lf22)"><ellipse cx="232.76" cy="359.47" rx="1.34" ry="2.83" fill="#d4e2a8" opacity="0.55"/><ellipse cx="231.37" cy="379.50" rx="2.27" ry="2.06" fill="#d4e2a8" opacity="0.55"/><ellipse cx="236.98" cy="371.76" rx="1.46" ry="3.41" fill="#d4e2a8" opacity="0.55"/><ellipse cx="240.83" cy="352.13" rx="1.51" ry="1.76" fill="#d4e2a8" opacity="0.55"/><ellipse cx="233.95" cy="373.00" rx="2.89" ry="1.35" fill="#d4e2a8" opacity="0.55"/><ellipse cx="225.02" cy="368.70" rx="1.20" ry="1.27" fill="#d4e2a8" opacity="0.55"/><ellipse cx="237.18" cy="363.23" rx="2.35" ry="3.10" fill="#d4e2a8" opacity="0.55"/></g>
<g clip-path="url(#lf22)"><circle cx="235.75" cy="368.96" r="1.50" fill="#6f8a30" opacity="0.4"/><circle cx="231.33" cy="357.12" r="1.43" fill="#6f8a30" opacity="0.4"/><circle cx="241.96" cy="356.04" r="1.95" fill="#6f8a30" opacity="0.4"/><circle cx="238.02" cy="362.16" r="1.78" fill="#6f8a30" opacity="0.4"/><circle cx="229.64" cy="347.49" r="1.76" fill="#6f8a30" opacity="0.4"/><circle cx="224.88" cy="379.21" r="1.34" fill="#6f8a30" opacity="0.4"/><circle cx="225.44" cy="369.31" r="1.51" fill="#6f8a30" opacity="0.4"/><circle cx="226.30" cy="380.45" r="1.26" fill="#6f8a30" opacity="0.4"/><circle cx="231.74" cy="354.51" r="1.22" fill="#6f8a30" opacity="0.4"/></g>
<path d="M0.5 0 C0.78 0 0.98 0.18 1 0.42 C1 0.62 0.85 0.76 0.66 0.86 C0.6 0.9 0.56 0.95 0.54 1 L0.46 1 C0.44 0.95 0.4 0.9 0.34 0.86 C0.15 0.76 0 0.62 0 0.42 C0.02 0.18 0.22 0 0.5 0 Z" transform="translate(222.50,343.00) scale(20.80,51.20)" fill="none" stroke="#7ea63c" stroke-width="1.1" vector-effect="non-scaling-stroke" opacity="0.85"/>
<line x1="232.90" y1="348.12" x2="232.90" y2="393.18" stroke="#c8dc7a" stroke-width="0.9" opacity="0.7"/>
<clipPath id="lf23"><path transform="translate(254.70,344.00) scale(21.30,52.60)" d="M0.5 0 C0.78 0 0.98 0.18 1 0.42 C1 0.62 0.85 0.76 0.66 0.86 C0.6 0.9 0.56 0.95 0.54 1 L0.46 1 C0.44 0.95 0.4 0.9 0.34 0.86 C0.15 0.76 0 0.62 0 0.42 C0.02 0.18 0.22 0 0.5 0 Z"/></clipPath>
<path transform="translate(254.70,344.00) scale(21.30,52.60)" d="M0.5 0 C0.78 0 0.98 0.18 1 0.42 C1 0.62 0.85 0.76 0.66 0.86 C0.6 0.9 0.56 0.95 0.54 1 L0.46 1 C0.44 0.95 0.4 0.9 0.34 0.86 C0.15 0.76 0 0.62 0 0.42 C0.02 0.18 0.22 0 0.5 0 Z" fill="url(#g4)"/>
<g clip-path="url(#lf23)"><ellipse cx="263.03" cy="375.77" rx="1.23" ry="3.26" fill="#d4e2a8" opacity="0.55"/><ellipse cx="270.03" cy="374.31" rx="2.38" ry="3.40" fill="#d4e2a8" opacity="0.55"/><ellipse cx="266.97" cy="372.22" rx="1.30" ry="1.40" fill="#d4e2a8" opacity="0.55"/><ellipse cx="269.31" cy="361.76" rx="1.88" ry="2.11" fill="#d4e2a8" opacity="0.55"/><ellipse cx="263.93" cy="373.60" rx="1.84" ry="3.26" fill="#d4e2a8" opacity="0.55"/><ellipse cx="272.55" cy="384.42" rx="2.82" ry="2.12" fill="#d4e2a8" opacity="0.55"/><ellipse cx="268.25" cy="356.56" rx="1.45" ry="3.47" fill="#d4e2a8" opacity="0.55"/></g>
<g clip-path="url(#lf23)"><circle cx="256.62" cy="374.20" r="0.99" fill="#6f8a30" opacity="0.4"/><circle cx="259.40" cy="349.11" r="1.93" fill="#6f8a30" opacity="0.4"/><circle cx="260.73" cy="376.56" r="1.35" fill="#6f8a30" opacity="0.4"/><circle cx="257.00" cy="356.45" r="1.60" fill="#6f8a30" opacity="0.4"/><circle cx="256.96" cy="380.76" r="1.03" fill="#6f8a30" opacity="0.4"/><circle cx="261.08" cy="374.52" r="1.51" fill="#6f8a30" opacity="0.4"/><circle cx="262.34" cy="384.32" r="2.01" fill="#6f8a30" opacity="0.4"/><circle cx="255.80" cy="384.69" r="0.85" fill="#6f8a30" opacity="0.4"/><circle cx="255.85" cy="360.52" r="0.88" fill="#6f8a30" opacity="0.4"/></g>
<path d="M0.5 0 C0.78 0 0.98 0.18 1 0.42 C1 0.62 0.85 0.76 0.66 0.86 C0.6 0.9 0.56 0.95 0.54 1 L0.46 1 C0.44 0.95 0.4 0.9 0.34 0.86 C0.15 0.76 0 0.62 0 0.42 C0.02 0.18 0.22 0 0.5 0 Z" transform="translate(254.70,344.00) scale(21.30,52.60)" fill="none" stroke="#7ea63c" stroke-width="1.1" vector-effect="non-scaling-stroke" opacity="0.85"/>
<line x1="265.35" y1="349.26" x2="265.35" y2="395.55" stroke="#c8dc7a" stroke-width="0.9" opacity="0.7"/>
<clipPath id="lf24"><path transform="translate(286.00,347.00) scale(20.20,49.00)" d="M0.5 0 C0.78 0 0.98 0.18 1 0.42 C1 0.62 0.85 0.76 0.66 0.86 C0.6 0.9 0.56 0.95 0.54 1 L0.46 1 C0.44 0.95 0.4 0.9 0.34 0.86 C0.15 0.76 0 0.62 0 0.42 C0.02 0.18 0.22 0 0.5 0 Z"/></clipPath>
<path transform="translate(286.00,347.00) scale(20.20,49.00)" d="M0.5 0 C0.78 0 0.98 0.18 1 0.42 C1 0.62 0.85 0.76 0.66 0.86 C0.6 0.9 0.56 0.95 0.54 1 L0.46 1 C0.44 0.95 0.4 0.9 0.34 0.86 C0.15 0.76 0 0.62 0 0.42 C0.02 0.18 0.22 0 0.5 0 Z" fill="url(#g4)"/>
<g clip-path="url(#lf24)"><ellipse cx="298.53" cy="374.42" rx="1.26" ry="1.54" fill="#d4e2a8" opacity="0.55"/><ellipse cx="303.71" cy="358.50" rx="2.57" ry="2.21" fill="#d4e2a8" opacity="0.55"/><ellipse cx="303.65" cy="375.55" rx="1.87" ry="1.55" fill="#d4e2a8" opacity="0.55"/><ellipse cx="293.18" cy="381.26" rx="3.19" ry="2.96" fill="#d4e2a8" opacity="0.55"/><ellipse cx="290.66" cy="376.56" rx="1.71" ry="3.04" fill="#d4e2a8" opacity="0.55"/><ellipse cx="292.47" cy="358.89" rx="1.56" ry="3.30" fill="#d4e2a8" opacity="0.55"/><ellipse cx="291.87" cy="356.13" rx="1.48" ry="1.91" fill="#d4e2a8" opacity="0.55"/></g>
<g clip-path="url(#lf24)"><circle cx="295.09" cy="356.43" r="1.69" fill="#6f8a30" opacity="0.4"/><circle cx="305.11" cy="379.81" r="1.77" fill="#6f8a30" opacity="0.4"/><circle cx="290.05" cy="373.07" r="1.64" fill="#6f8a30" opacity="0.4"/><circle cx="290.56" cy="380.71" r="1.08" fill="#6f8a30" opacity="0.4"/><circle cx="300.37" cy="375.04" r="1.75" fill="#6f8a30" opacity="0.4"/><circle cx="303.64" cy="357.35" r="1.23" fill="#6f8a30" opacity="0.4"/><circle cx="299.86" cy="377.61" r="1.51" fill="#6f8a30" opacity="0.4"/><circle cx="298.36" cy="362.60" r="1.97" fill="#6f8a30" opacity="0.4"/><circle cx="301.19" cy="349.49" r="2.09" fill="#6f8a30" opacity="0.4"/></g>
<path d="M0.5 0 C0.78 0 0.98 0.18 1 0.42 C1 0.62 0.85 0.76 0.66 0.86 C0.6 0.9 0.56 0.95 0.54 1 L0.46 1 C0.44 0.95 0.4 0.9 0.34 0.86 C0.15 0.76 0 0.62 0 0.42 C0.02 0.18 0.22 0 0.5 0 Z" transform="translate(286.00,347.00) scale(20.20,49.00)" fill="none" stroke="#7ea63c" stroke-width="1.1" vector-effect="non-scaling-stroke" opacity="0.85"/>
<line x1="296.10" y1="351.90" x2="296.10" y2="395.02" stroke="#c8dc7a" stroke-width="0.9" opacity="0.7"/>
<radialGradient id="g5" cx="0.5" cy="0.42" r="0.6"><stop offset="0" stop-color="#cce292"/><stop offset="0.65" stop-color="#cce292"/><stop offset="1" stop-color="#8cc43c"/></radialGradient>
<path transform="translate(390.90,260.40) scale(22.80,61.90)" d="M0.5 0 C0.78 0 0.98 0.18 1 0.42 C1 0.62 0.85 0.76 0.66 0.86 C0.6 0.9 0.56 0.95 0.54 1 L0.46 1 C0.44 0.95 0.4 0.9 0.34 0.86 C0.15 0.76 0 0.62 0 0.42 C0.02 0.18 0.22 0 0.5 0 Z" fill="url(#g5)"/>
<path d="M0.5 0 C0.78 0 0.98 0.18 1 0.42 C1 0.62 0.85 0.76 0.66 0.86 C0.6 0.9 0.56 0.95 0.54 1 L0.46 1 C0.44 0.95 0.4 0.9 0.34 0.86 C0.15 0.76 0 0.62 0 0.42 C0.02 0.18 0.22 0 0.5 0 Z" transform="translate(390.90,260.40) scale(22.80,61.90)" fill="none" stroke="#8cc43c" stroke-width="1.1" vector-effect="non-scaling-stroke" opacity="0.85"/>
<line x1="402.30" y1="266.59" x2="402.30" y2="321.06" stroke="#c8dc7a" stroke-width="0.9" opacity="0.7"/>
<path transform="translate(426.90,266.90) scale(19.70,52.10)" d="M0.5 0 C0.78 0 0.98 0.18 1 0.42 C1 0.62 0.85 0.76 0.66 0.86 C0.6 0.9 0.56 0.95 0.54 1 L0.46 1 C0.44 0.95 0.4 0.9 0.34 0.86 C0.15 0.76 0 0.62 0 0.42 C0.02 0.18 0.22 0 0.5 0 Z" fill="url(#g5)"/>
<path d="M0.5 0 C0.78 0 0.98 0.18 1 0.42 C1 0.62 0.85 0.76 0.66 0.86 C0.6 0.9 0.56 0.95 0.54 1 L0.46 1 C0.44 0.95 0.4 0.9 0.34 0.86 C0.15 0.76 0 0.62 0 0.42 C0.02 0.18 0.22 0 0.5 0 Z" transform="translate(426.90,266.90) scale(19.70,52.10)" fill="none" stroke="#8cc43c" stroke-width="1.1" vector-effect="non-scaling-stroke" opacity="0.85"/>
<line x1="436.75" y1="272.11" x2="436.75" y2="317.96" stroke="#c8dc7a" stroke-width="0.9" opacity="0.7"/>
<path transform="translate(458.70,265.30) scale(19.60,53.00)" d="M0.5 0 C0.78 0 0.98 0.18 1 0.42 C1 0.62 0.85 0.76 0.66 0.86 C0.6 0.9 0.56 0.95 0.54 1 L0.46 1 C0.44 0.95 0.4 0.9 0.34 0.86 C0.15 0.76 0 0.62 0 0.42 C0.02 0.18 0.22 0 0.5 0 Z" fill="url(#g5)"/>
<path d="M0.5 0 C0.78 0 0.98 0.18 1 0.42 C1 0.62 0.85 0.76 0.66 0.86 C0.6 0.9 0.56 0.95 0.54 1 L0.46 1 C0.44 0.95 0.4 0.9 0.34 0.86 C0.15 0.76 0 0.62 0 0.42 C0.02 0.18 0.22 0 0.5 0 Z" transform="translate(458.70,265.30) scale(19.60,53.00)" fill="none" stroke="#8cc43c" stroke-width="1.1" vector-effect="non-scaling-stroke" opacity="0.85"/>
<line x1="468.50" y1="270.60" x2="468.50" y2="317.24" stroke="#c8dc7a" stroke-width="0.9" opacity="0.7"/>
<radialGradient id="g6" cx="0.5" cy="0.42" r="0.6"><stop offset="0" stop-color="#90ae54"/><stop offset="0.65" stop-color="#90ae54"/><stop offset="1" stop-color="#6c9034"/></radialGradient>
<clipPath id="lf28"><path transform="translate(490.00,265.30) scale(18.90,45.70)" d="M0.5 0 C0.78 0 0.98 0.18 1 0.42 C1 0.62 0.85 0.76 0.66 0.86 C0.6 0.9 0.56 0.95 0.54 1 L0.46 1 C0.44 0.95 0.4 0.9 0.34 0.86 C0.15 0.76 0 0.62 0 0.42 C0.02 0.18 0.22 0 0.5 0 Z"/></clipPath>
<path transform="translate(490.00,265.30) scale(18.90,45.70)" d="M0.5 0 C0.78 0 0.98 0.18 1 0.42 C1 0.62 0.85 0.76 0.66 0.86 C0.6 0.9 0.56 0.95 0.54 1 L0.46 1 C0.44 0.95 0.4 0.9 0.34 0.86 C0.15 0.76 0 0.62 0 0.42 C0.02 0.18 0.22 0 0.5 0 Z" fill="url(#g6)"/>
<g clip-path="url(#lf28)"><ellipse cx="503.74" cy="272.81" rx="3.05" ry="3.24" fill="#b0c880" opacity="0.55"/><ellipse cx="494.60" cy="277.21" rx="2.26" ry="2.68" fill="#b0c880" opacity="0.55"/><ellipse cx="494.79" cy="298.65" rx="2.61" ry="3.07" fill="#b0c880" opacity="0.55"/><ellipse cx="503.44" cy="292.83" rx="3.19" ry="2.90" fill="#b0c880" opacity="0.55"/><ellipse cx="506.98" cy="274.54" rx="1.49" ry="2.95" fill="#b0c880" opacity="0.55"/><ellipse cx="495.15" cy="284.02" rx="2.27" ry="3.11" fill="#b0c880" opacity="0.55"/></g>
<g clip-path="url(#lf28)"><circle cx="498.53" cy="301.07" r="1.04" fill="#6f8a30" opacity="0.4"/><circle cx="491.77" cy="298.65" r="1.85" fill="#6f8a30" opacity="0.4"/><circle cx="498.23" cy="288.20" r="1.76" fill="#6f8a30" opacity="0.4"/><circle cx="507.63" cy="288.15" r="0.95" fill="#6f8a30" opacity="0.4"/><circle cx="501.41" cy="285.65" r="1.21" fill="#6f8a30" opacity="0.4"/><circle cx="504.93" cy="291.01" r="0.99" fill="#6f8a30" opacity="0.4"/><circle cx="494.58" cy="301.72" r="1.10" fill="#6f8a30" opacity="0.4"/><circle cx="500.50" cy="296.13" r="1.79" fill="#6f8a30" opacity="0.4"/><circle cx="496.17" cy="288.32" r="1.17" fill="#6f8a30" opacity="0.4"/></g>
<path d="M0.5 0 C0.78 0 0.98 0.18 1 0.42 C1 0.62 0.85 0.76 0.66 0.86 C0.6 0.9 0.56 0.95 0.54 1 L0.46 1 C0.44 0.95 0.4 0.9 0.34 0.86 C0.15 0.76 0 0.62 0 0.42 C0.02 0.18 0.22 0 0.5 0 Z" transform="translate(490.00,265.30) scale(18.90,45.70)" fill="none" stroke="#6c9034" stroke-width="1.1" vector-effect="non-scaling-stroke" opacity="0.85"/>
<line x1="499.45" y1="269.87" x2="499.45" y2="310.09" stroke="#c8dc7a" stroke-width="0.9" opacity="0.7"/>
<clipPath id="lf29"><path transform="translate(521.00,263.20) scale(20.80,49.10)" d="M0.5 0 C0.78 0 0.98 0.18 1 0.42 C1 0.62 0.85 0.76 0.66 0.86 C0.6 0.9 0.56 0.95 0.54 1 L0.46 1 C0.44 0.95 0.4 0.9 0.34 0.86 C0.15 0.76 0 0.62 0 0.42 C0.02 0.18 0.22 0 0.5 0 Z"/></clipPath>
<path transform="translate(521.00,263.20) scale(20.80,49.10)" d="M0.5 0 C0.78 0 0.98 0.18 1 0.42 C1 0.62 0.85 0.76 0.66 0.86 C0.6 0.9 0.56 0.95 0.54 1 L0.46 1 C0.44 0.95 0.4 0.9 0.34 0.86 C0.15 0.76 0 0.62 0 0.42 C0.02 0.18 0.22 0 0.5 0 Z" fill="url(#g6)"/>
<g clip-path="url(#lf29)"><ellipse cx="527.08" cy="271.35" rx="3.13" ry="1.38" fill="#b0c880" opacity="0.55"/><ellipse cx="536.96" cy="294.02" rx="2.16" ry="1.98" fill="#b0c880" opacity="0.55"/><ellipse cx="537.09" cy="274.15" rx="2.27" ry="1.29" fill="#b0c880" opacity="0.55"/><ellipse cx="527.83" cy="302.31" rx="3.18" ry="1.55" fill="#b0c880" opacity="0.55"/><ellipse cx="532.64" cy="284.18" rx="1.84" ry="1.62" fill="#b0c880" opacity="0.55"/><ellipse cx="531.85" cy="299.60" rx="2.86" ry="2.23" fill="#b0c880" opacity="0.55"/></g>
<g clip-path="url(#lf29)"><circle cx="530.71" cy="300.97" r="1.14" fill="#6f8a30" opacity="0.4"/><circle cx="535.52" cy="269.22" r="1.40" fill="#6f8a30" opacity="0.4"/><circle cx="539.48" cy="289.13" r="1.38" fill="#6f8a30" opacity="0.4"/><circle cx="536.89" cy="296.86" r="1.45" fill="#6f8a30" opacity="0.4"/><circle cx="525.12" cy="294.88" r="0.87" fill="#6f8a30" opacity="0.4"/><circle cx="536.31" cy="266.57" r="2.00" fill="#6f8a30" opacity="0.4"/><circle cx="534.42" cy="301.18" r="2.02" fill="#6f8a30" opacity="0.4"/><circle cx="523.34" cy="291.63" r="1.61" fill="#6f8a30" opacity="0.4"/><circle cx="523.09" cy="276.52" r="1.42" fill="#6f8a30" opacity="0.4"/></g>
<path d="M0.5 0 C0.78 0 0.98 0.18 1 0.42 C1 0.62 0.85 0.76 0.66 0.86 C0.6 0.9 0.56 0.95 0.54 1 L0.46 1 C0.44 0.95 0.4 0.9 0.34 0.86 C0.15 0.76 0 0.62 0 0.42 C0.02 0.18 0.22 0 0.5 0 Z" transform="translate(521.00,263.20) scale(20.80,49.10)" fill="none" stroke="#6c9034" stroke-width="1.1" vector-effect="non-scaling-stroke" opacity="0.85"/>
<line x1="531.40" y1="268.11" x2="531.40" y2="311.32" stroke="#c8dc7a" stroke-width="0.9" opacity="0.7"/>
<clipPath id="lf30"><path transform="translate(552.00,264.50) scale(22.70,45.70)" d="M0.5 0 C0.78 0 0.98 0.18 1 0.42 C1 0.62 0.85 0.76 0.66 0.86 C0.6 0.9 0.56 0.95 0.54 1 L0.46 1 C0.44 0.95 0.4 0.9 0.34 0.86 C0.15 0.76 0 0.62 0 0.42 C0.02 0.18 0.22 0 0.5 0 Z"/></clipPath>
<path transform="translate(552.00,264.50) scale(22.70,45.70)" d="M0.5 0 C0.78 0 0.98 0.18 1 0.42 C1 0.62 0.85 0.76 0.66 0.86 C0.6 0.9 0.56 0.95 0.54 1 L0.46 1 C0.44 0.95 0.4 0.9 0.34 0.86 C0.15 0.76 0 0.62 0 0.42 C0.02 0.18 0.22 0 0.5 0 Z" fill="url(#g6)"/>
<g clip-path="url(#lf30)"><ellipse cx="564.57" cy="271.91" rx="2.22" ry="3.46" fill="#b0c880" opacity="0.55"/><ellipse cx="571.45" cy="285.48" rx="1.23" ry="2.94" fill="#b0c880" opacity="0.55"/><ellipse cx="565.78" cy="288.82" rx="2.57" ry="1.70" fill="#b0c880" opacity="0.55"/><ellipse cx="555.15" cy="271.88" rx="1.81" ry="2.78" fill="#b0c880" opacity="0.55"/><ellipse cx="562.99" cy="279.02" rx="1.54" ry="1.36" fill="#b0c880" opacity="0.55"/><ellipse cx="566.10" cy="283.10" rx="1.60" ry="3.40" fill="#b0c880" opacity="0.55"/></g>
<g clip-path="url(#lf30)"><circle cx="570.21" cy="289.06" r="1.72" fill="#6f8a30" opacity="0.4"/><circle cx="560.86" cy="274.43" r="1.66" fill="#6f8a30" opacity="0.4"/><circle cx="571.26" cy="294.30" r="2.08" fill="#6f8a30" opacity="0.4"/><circle cx="565.92" cy="268.23" r="2.04" fill="#6f8a30" opacity="0.4"/><circle cx="569.13" cy="275.10" r="1.38" fill="#6f8a30" opacity="0.4"/><circle cx="563.93" cy="289.60" r="0.90" fill="#6f8a30" opacity="0.4"/><circle cx="556.86" cy="277.01" r="1.99" fill="#6f8a30" opacity="0.4"/><circle cx="572.32" cy="281.19" r="2.01" fill="#6f8a30" opacity="0.4"/><circle cx="561.05" cy="280.60" r="1.57" fill="#6f8a30" opacity="0.4"/></g>
<path d="M0.5 0 C0.78 0 0.98 0.18 1 0.42 C1 0.62 0.85 0.76 0.66 0.86 C0.6 0.9 0.56 0.95 0.54 1 L0.46 1 C0.44 0.95 0.4 0.9 0.34 0.86 C0.15 0.76 0 0.62 0 0.42 C0.02 0.18 0.22 0 0.5 0 Z" transform="translate(552.00,264.50) scale(22.70,45.70)" fill="none" stroke="#6c9034" stroke-width="1.1" vector-effect="non-scaling-stroke" opacity="0.85"/>
<line x1="563.35" y1="269.07" x2="563.35" y2="309.29" stroke="#c8dc7a" stroke-width="0.9" opacity="0.7"/>
<radialGradient id="g7" cx="0.5" cy="0.42" r="0.6"><stop offset="0" stop-color="#d4e6a0"/><stop offset="0.65" stop-color="#d4e6a0"/><stop offset="1" stop-color="#a4ca58"/></radialGradient>
<path transform="translate(393.80,341.50) scale(19.30,46.50)" d="M0.5 0 C0.78 0 0.98 0.18 1 0.42 C1 0.62 0.85 0.76 0.66 0.86 C0.6 0.9 0.56 0.95 0.54 1 L0.46 1 C0.44 0.95 0.4 0.9 0.34 0.86 C0.15 0.76 0 0.62 0 0.42 C0.02 0.18 0.22 0 0.5 0 Z" fill="url(#g7)"/>
<path d="M0.5 0 C0.78 0 0.98 0.18 1 0.42 C1 0.62 0.85 0.76 0.66 0.86 C0.6 0.9 0.56 0.95 0.54 1 L0.46 1 C0.44 0.95 0.4 0.9 0.34 0.86 C0.15 0.76 0 0.62 0 0.42 C0.02 0.18 0.22 0 0.5 0 Z" transform="translate(393.80,341.50) scale(19.30,46.50)" fill="none" stroke="#a4ca58" stroke-width="1.1" vector-effect="non-scaling-stroke" opacity="0.85"/>
<line x1="403.45" y1="346.15" x2="403.45" y2="387.07" stroke="#c8dc7a" stroke-width="0.9" opacity="0.7"/>
<path transform="translate(427.50,338.40) scale(19.30,53.60)" d="M0.5 0 C0.78 0 0.98 0.18 1 0.42 C1 0.62 0.85 0.76 0.66 0.86 C0.6 0.9 0.56 0.95 0.54 1 L0.46 1 C0.44 0.95 0.4 0.9 0.34 0.86 C0.15 0.76 0 0.62 0 0.42 C0.02 0.18 0.22 0 0.5 0 Z" fill="url(#g7)"/>
<path d="M0.5 0 C0.78 0 0.98 0.18 1 0.42 C1 0.62 0.85 0.76 0.66 0.86 C0.6 0.9 0.56 0.95 0.54 1 L0.46 1 C0.44 0.95 0.4 0.9 0.34 0.86 C0.15 0.76 0 0.62 0 0.42 C0.02 0.18 0.22 0 0.5 0 Z" transform="translate(427.50,338.40) scale(19.30,53.60)" fill="none" stroke="#a4ca58" stroke-width="1.1" vector-effect="non-scaling-stroke" opacity="0.85"/>
<line x1="437.15" y1="343.76" x2="437.15" y2="390.93" stroke="#c8dc7a" stroke-width="0.9" opacity="0.7"/>
<path transform="translate(459.00,343.00) scale(16.00,43.00)" d="M0.5 0 C0.78 0 0.98 0.18 1 0.42 C1 0.62 0.85 0.76 0.66 0.86 C0.6 0.9 0.56 0.95 0.54 1 L0.46 1 C0.44 0.95 0.4 0.9 0.34 0.86 C0.15 0.76 0 0.62 0 0.42 C0.02 0.18 0.22 0 0.5 0 Z" fill="url(#g7)"/>
<path d="M0.5 0 C0.78 0 0.98 0.18 1 0.42 C1 0.62 0.85 0.76 0.66 0.86 C0.6 0.9 0.56 0.95 0.54 1 L0.46 1 C0.44 0.95 0.4 0.9 0.34 0.86 C0.15 0.76 0 0.62 0 0.42 C0.02 0.18 0.22 0 0.5 0 Z" transform="translate(459.00,343.00) scale(16.00,43.00)" fill="none" stroke="#a4ca58" stroke-width="1.1" vector-effect="non-scaling-stroke" opacity="0.85"/>
<line x1="467.00" y1="347.30" x2="467.00" y2="385.14" stroke="#c8dc7a" stroke-width="0.9" opacity="0.7"/>
<radialGradient id="g8" cx="0.5" cy="0.42" r="0.6"><stop offset="0" stop-color="#96b45c"/><stop offset="0.65" stop-color="#96b45c"/><stop offset="1" stop-color="#6e9236"/></radialGradient>
<clipPath id="lf34"><path transform="translate(488.00,340.80) scale(20.00,49.20)" d="M0.5 0 C0.78 0 0.98 0.18 1 0.42 C1 0.62 0.85 0.76 0.66 0.86 C0.6 0.9 0.56 0.95 0.54 1 L0.46 1 C0.44 0.95 0.4 0.9 0.34 0.86 C0.15 0.76 0 0.62 0 0.42 C0.02 0.18 0.22 0 0.5 0 Z"/></clipPath>
<path transform="translate(488.00,340.80) scale(20.00,49.20)" d="M0.5 0 C0.78 0 0.98 0.18 1 0.42 C1 0.62 0.85 0.76 0.66 0.86 C0.6 0.9 0.56 0.95 0.54 1 L0.46 1 C0.44 0.95 0.4 0.9 0.34 0.86 C0.15 0.76 0 0.62 0 0.42 C0.02 0.18 0.22 0 0.5 0 Z" fill="url(#g8)"/>
<g clip-path="url(#lf34)"><ellipse cx="495.86" cy="361.05" rx="2.10" ry="2.17" fill="#bccf94" opacity="0.55"/><ellipse cx="497.61" cy="350.66" rx="2.72" ry="2.51" fill="#bccf94" opacity="0.55"/><ellipse cx="501.06" cy="357.02" rx="1.37" ry="3.19" fill="#bccf94" opacity="0.55"/><ellipse cx="493.77" cy="374.77" rx="2.91" ry="2.91" fill="#bccf94" opacity="0.55"/><ellipse cx="498.90" cy="378.02" rx="3.04" ry="2.76" fill="#bccf94" opacity="0.55"/><ellipse cx="496.42" cy="350.19" rx="1.33" ry="2.82" fill="#bccf94" opacity="0.55"/></g>
<g clip-path="url(#lf34)"><circle cx="496.12" cy="350.66" r="1.89" fill="#6f8a30" opacity="0.4"/><circle cx="502.95" cy="372.74" r="1.49" fill="#6f8a30" opacity="0.4"/><circle cx="489.09" cy="362.41" r="1.47" fill="#6f8a30" opacity="0.4"/><circle cx="493.08" cy="369.72" r="1.43" fill="#6f8a30" opacity="0.4"/><circle cx="503.72" cy="351.55" r="1.92" fill="#6f8a30" opacity="0.4"/><circle cx="491.52" cy="360.15" r="1.02" fill="#6f8a30" opacity="0.4"/><circle cx="504.88" cy="374.95" r="1.20" fill="#6f8a30" opacity="0.4"/><circle cx="496.95" cy="361.00" r="1.89" fill="#6f8a30" opacity="0.4"/><circle cx="506.50" cy="376.94" r="1.90" fill="#6f8a30" opacity="0.4"/></g>
<path d="M0.5 0 C0.78 0 0.98 0.18 1 0.42 C1 0.62 0.85 0.76 0.66 0.86 C0.6 0.9 0.56 0.95 0.54 1 L0.46 1 C0.44 0.95 0.4 0.9 0.34 0.86 C0.15 0.76 0 0.62 0 0.42 C0.02 0.18 0.22 0 0.5 0 Z" transform="translate(488.00,340.80) scale(20.00,49.20)" fill="none" stroke="#6e9236" stroke-width="1.1" vector-effect="non-scaling-stroke" opacity="0.85"/>
<line x1="498.00" y1="345.72" x2="498.00" y2="389.02" stroke="#c8dc7a" stroke-width="0.9" opacity="0.7"/>
<clipPath id="lf35"><path transform="translate(518.00,338.40) scale(25.00,55.20)" d="M0.5 0 C0.78 0 0.98 0.18 1 0.42 C1 0.62 0.85 0.76 0.66 0.86 C0.6 0.9 0.56 0.95 0.54 1 L0.46 1 C0.44 0.95 0.4 0.9 0.34 0.86 C0.15 0.76 0 0.62 0 0.42 C0.02 0.18 0.22 0 0.5 0 Z"/></clipPath>
<path transform="translate(518.00,338.40) scale(25.00,55.20)" d="M0.5 0 C0.78 0 0.98 0.18 1 0.42 C1 0.62 0.85 0.76 0.66 0.86 C0.6 0.9 0.56 0.95 0.54 1 L0.46 1 C0.44 0.95 0.4 0.9 0.34 0.86 C0.15 0.76 0 0.62 0 0.42 C0.02 0.18 0.22 0 0.5 0 Z" fill="url(#g8)"/>
<g clip-path="url(#lf35)"><ellipse cx="538.62" cy="371.97" rx="1.96" ry="2.50" fill="#bccf94" opacity="0.55"/><ellipse cx="533.08" cy="352.90" rx="3.13" ry="3.47" fill="#bccf94" opacity="0.55"/><ellipse cx="525.16" cy="362.01" rx="1.48" ry="2.64" fill="#bccf94" opacity="0.55"/><ellipse cx="536.56" cy="350.41" rx="1.35" ry="2.42" fill="#bccf94" opacity="0.55"/><ellipse cx="536.77" cy="346.51" rx="1.93" ry="1.88" fill="#bccf94" opacity="0.55"/><ellipse cx="527.57" cy="379.56" rx="2.86" ry="3.03" fill="#bccf94" opacity="0.55"/></g>
<g clip-path="url(#lf35)"><circle cx="531.21" cy="378.48" r="1.43" fill="#6f8a30" opacity="0.4"/><circle cx="522.82" cy="365.03" r="2.15" fill="#6f8a30" opacity="0.4"/><circle cx="530.02" cy="381.69" r="2.12" fill="#6f8a30" opacity="0.4"/><circle cx="528.08" cy="356.25" r="1.69" fill="#6f8a30" opacity="0.4"/><circle cx="529.84" cy="364.54" r="1.87" fill="#6f8a30" opacity="0.4"/><circle cx="538.54" cy="352.48" r="0.98" fill="#6f8a30" opacity="0.4"/><circle cx="537.25" cy="357.92" r="1.94" fill="#6f8a30" opacity="0.4"/><circle cx="521.09" cy="365.45" r="1.72" fill="#6f8a30" opacity="0.4"/><circle cx="521.83" cy="356.95" r="1.62" fill="#6f8a30" opacity="0.4"/></g>
<path d="M0.5 0 C0.78 0 0.98 0.18 1 0.42 C1 0.62 0.85 0.76 0.66 0.86 C0.6 0.9 0.56 0.95 0.54 1 L0.46 1 C0.44 0.95 0.4 0.9 0.34 0.86 C0.15 0.76 0 0.62 0 0.42 C0.02 0.18 0.22 0 0.5 0 Z" transform="translate(518.00,338.40) scale(25.00,55.20)" fill="none" stroke="#6e9236" stroke-width="1.1" vector-effect="non-scaling-stroke" opacity="0.85"/>
<line x1="530.50" y1="343.92" x2="530.50" y2="392.50" stroke="#c8dc7a" stroke-width="0.9" opacity="0.7"/>
<clipPath id="lf36"><path transform="translate(554.70,339.00) scale(21.50,46.00)" d="M0.5 0 C0.78 0 0.98 0.18 1 0.42 C1 0.62 0.85 0.76 0.66 0.86 C0.6 0.9 0.56 0.95 0.54 1 L0.46 1 C0.44 0.95 0.4 0.9 0.34 0.86 C0.15 0.76 0 0.62 0 0.42 C0.02 0.18 0.22 0 0.5 0 Z"/></clipPath>
<path transform="translate(554.70,339.00) scale(21.50,46.00)" d="M0.5 0 C0.78 0 0.98 0.18 1 0.42 C1 0.62 0.85 0.76 0.66 0.86 C0.6 0.9 0.56 0.95 0.54 1 L0.46 1 C0.44 0.95 0.4 0.9 0.34 0.86 C0.15 0.76 0 0.62 0 0.42 C0.02 0.18 0.22 0 0.5 0 Z" fill="url(#g8)"/>
<g clip-path="url(#lf36)"><ellipse cx="573.98" cy="355.86" rx="2.38" ry="1.63" fill="#bccf94" opacity="0.55"/><ellipse cx="567.91" cy="355.90" rx="2.66" ry="2.27" fill="#bccf94" opacity="0.55"/><ellipse cx="568.16" cy="364.97" rx="1.78" ry="1.43" fill="#bccf94" opacity="0.55"/><ellipse cx="569.09" cy="349.44" rx="1.45" ry="2.27" fill="#bccf94" opacity="0.55"/><ellipse cx="565.18" cy="355.26" rx="1.51" ry="1.53" fill="#bccf94" opacity="0.55"/><ellipse cx="571.02" cy="373.05" rx="1.64" ry="1.91" fill="#bccf94" opacity="0.55"/></g>
<g clip-path="url(#lf36)"><circle cx="561.29" cy="346.18" r="1.21" fill="#6f8a30" opacity="0.4"/><circle cx="559.68" cy="341.84" r="2.01" fill="#6f8a30" opacity="0.4"/><circle cx="562.06" cy="374.78" r="0.99" fill="#6f8a30" opacity="0.4"/><circle cx="566.96" cy="358.87" r="0.88" fill="#6f8a30" opacity="0.4"/><circle cx="572.42" cy="357.90" r="1.02" fill="#6f8a30" opacity="0.4"/><circle cx="572.67" cy="354.07" r="1.53" fill="#6f8a30" opacity="0.4"/><circle cx="566.79" cy="373.13" r="1.15" fill="#6f8a30" opacity="0.4"/><circle cx="565.26" cy="343.04" r="1.39" fill="#6f8a30" opacity="0.4"/><circle cx="566.67" cy="342.00" r="0.89" fill="#6f8a30" opacity="0.4"/></g>
<path d="M0.5 0 C0.78 0 0.98 0.18 1 0.42 C1 0.62 0.85 0.76 0.66 0.86 C0.6 0.9 0.56 0.95 0.54 1 L0.46 1 C0.44 0.95 0.4 0.9 0.34 0.86 C0.15 0.76 0 0.62 0 0.42 C0.02 0.18 0.22 0 0.5 0 Z" transform="translate(554.70,339.00) scale(21.50,46.00)" fill="none" stroke="#6e9236" stroke-width="1.1" vector-effect="non-scaling-stroke" opacity="0.85"/>
<line x1="565.45" y1="343.60" x2="565.45" y2="384.08" stroke="#c8dc7a" stroke-width="0.9" opacity="0.7"/>
<line x1="338.10" y1="313.50" x2="343.10" y2="313.50" stroke="#444" stroke-width="0.95"/>
<line x1="337.05" y1="316.05" x2="340.58" y2="319.58" stroke="#333" stroke-width="0.95"/>
<line x1="334.50" y1="317.10" x2="334.50" y2="322.10" stroke="#444" stroke-width="0.95"/>
<line x1="331.95" y1="316.05" x2="328.42" y2="319.58" stroke="#333" stroke-width="0.95"/>
<line x1="330.90" y1="313.50" x2="325.90" y2="313.50" stroke="#444" stroke-width="0.95"/>
<line x1="331.95" y1="310.95" x2="328.42" y2="307.42" stroke="#333" stroke-width="0.95"/>
<line x1="334.50" y1="309.90" x2="334.50" y2="304.90" stroke="#444" stroke-width="0.95"/>
<line x1="337.05" y1="310.95" x2="340.58" y2="307.42" stroke="#333" stroke-width="0.95"/>
<circle cx="334.50" cy="313.50" r="3.25" fill="#000"/>
<line x1="360.10" y1="313.50" x2="365.10" y2="313.50" stroke="#444" stroke-width="0.95"/>
<line x1="359.05" y1="316.05" x2="362.58" y2="319.58" stroke="#333" stroke-width="0.95"/>
<line x1="356.50" y1="317.10" x2="356.50" y2="322.10" stroke="#444" stroke-width="0.95"/>
<line x1="353.95" y1="316.05" x2="350.42" y2="319.58" stroke="#333" stroke-width="0.95"/>
<line x1="352.90" y1="313.50" x2="347.90" y2="313.50" stroke="#444" stroke-width="0.95"/>
<line x1="353.95" y1="310.95" x2="350.42" y2="307.42" stroke="#333" stroke-width="0.95"/>
<line x1="356.50" y1="309.90" x2="356.50" y2="304.90" stroke="#444" stroke-width="0.95"/>
<line x1="359.05" y1="310.95" x2="362.58" y2="307.42" stroke="#333" stroke-width="0.95"/>
<circle cx="356.50" cy="313.50" r="3.25" fill="#000"/>
<line x1="348.60" y1="305.00" x2="342.40" y2="322.00" stroke="#111" stroke-width="1.3"/>
<line x1="320" y1="326.3" x2="375" y2="326.3" stroke="#000" stroke-width="3.6"/>
<polygon points="373,320.6 381.2,326.3 373,332" fill="#000"/>
<text x="66.70" y="418.40" font-size="15.5" text-anchor="start" font-weight="bold" fill="#000" >e</text>
<line x1="144.60" y1="421.60" x2="144.60" y2="582.30" stroke="#000" stroke-width="0.9"/>
<line x1="144.60" y1="582.30" x2="305.50" y2="582.30" stroke="#000" stroke-width="0.9"/>
<line x1="142.00" y1="576.92" x2="144.60" y2="576.92" stroke="#000" stroke-width="0.9"/>
<text x="140.80" y="580.88" font-size="11" text-anchor="end" font-weight="normal" fill="#000" >0.2</text>
<line x1="142.00" y1="552.05" x2="144.60" y2="552.05" stroke="#000" stroke-width="0.9"/>
<text x="140.80" y="556.01" font-size="11" text-anchor="end" font-weight="normal" fill="#000" >0.3</text>
<line x1="142.00" y1="527.18" x2="144.60" y2="527.18" stroke="#000" stroke-width="0.9"/>
<text x="140.80" y="531.14" font-size="11" text-anchor="end" font-weight="normal" fill="#000" >0.4</text>
<line x1="142.00" y1="502.31" x2="144.60" y2="502.31" stroke="#000" stroke-width="0.9"/>
<text x="140.80" y="506.27" font-size="11" text-anchor="end" font-weight="normal" fill="#000" >0.5</text>
<line x1="142.00" y1="477.44" x2="144.60" y2="477.44" stroke="#000" stroke-width="0.9"/>
<text x="140.80" y="481.40" font-size="11" text-anchor="end" font-weight="normal" fill="#000" >0.6</text>
<line x1="142.00" y1="452.57" x2="144.60" y2="452.57" stroke="#000" stroke-width="0.9"/>
<text x="140.80" y="456.53" font-size="11" text-anchor="end" font-weight="normal" fill="#000" >0.7</text>
<line x1="142.00" y1="427.70" x2="144.60" y2="427.70" stroke="#000" stroke-width="0.9"/>
<text x="140.80" y="431.66" font-size="11" text-anchor="end" font-weight="normal" fill="#000" >0.8</text>
<line x1="189.05" y1="582.30" x2="189.05" y2="584.90" stroke="#000" stroke-width="0.9"/>
<line x1="262.45" y1="582.30" x2="262.45" y2="584.90" stroke="#000" stroke-width="0.9"/>
<text transform="translate(121.80,502.15) rotate(-90)" font-size="11" text-anchor="middle">Stomatal aperture (width/length)</text>
<text x="187.95" y="599.80" font-size="11" text-anchor="middle" font-weight="normal" fill="#000" >Control</text>
<text x="261.85" y="599.80" font-size="11" text-anchor="middle" font-weight="normal" fill="#000" >DC3000</text>
<line x1="188.75" y1="429.19" x2="188.75" y2="520.47" stroke="#9a9a9a" stroke-width="1.0"/>
<rect x="161.25" y="461.03" width="55.00" height="26.61" fill="#c6ebe3" stroke="#6f8f88" stroke-width="0.85"/>
<line x1="161.25" y1="475.50" x2="216.25" y2="475.50" stroke="#4d625e" stroke-width="1.25"/>
<line x1="262.15" y1="430.93" x2="262.15" y2="532.00" stroke="#9a9a9a" stroke-width="1.0"/>
<rect x="234.65" y="459.11" width="55.00" height="40.21" fill="#c6ebe3" stroke="#6f8f88" stroke-width="0.85"/>
<line x1="234.65" y1="479.60" x2="289.65" y2="479.60" stroke="#4d625e" stroke-width="1.25"/>
<g fill="#000"><circle cx="197.23" cy="458.12" r="0.72"/><circle cx="184.52" cy="472.41" r="0.72"/><circle cx="183.00" cy="461.89" r="0.72"/><circle cx="180.53" cy="463.82" r="0.72"/><circle cx="186.08" cy="469.97" r="0.72"/><circle cx="186.83" cy="488.41" r="0.72"/><circle cx="187.35" cy="450.56" r="0.72"/><circle cx="192.35" cy="447.34" r="0.72"/><circle cx="196.40" cy="451.96" r="0.72"/><circle cx="186.84" cy="490.50" r="0.72"/><circle cx="178.88" cy="461.28" r="0.72"/><circle cx="179.19" cy="493.21" r="0.72"/><circle cx="178.94" cy="479.47" r="0.72"/><circle cx="182.37" cy="472.52" r="0.72"/><circle cx="192.45" cy="506.70" r="0.72"/><circle cx="186.01" cy="471.21" r="0.72"/><circle cx="196.27" cy="498.38" r="0.72"/><circle cx="196.15" cy="471.90" r="0.72"/><circle cx="180.43" cy="476.37" r="0.72"/><circle cx="197.67" cy="488.91" r="0.72"/><circle cx="195.52" cy="477.47" r="0.72"/><circle cx="194.24" cy="456.05" r="0.72"/><circle cx="182.33" cy="472.66" r="0.72"/><circle cx="193.51" cy="485.96" r="0.72"/><circle cx="181.54" cy="514.56" r="0.72"/><circle cx="196.44" cy="461.85" r="0.72"/><circle cx="192.53" cy="452.85" r="0.72"/><circle cx="179.90" cy="465.26" r="0.72"/><circle cx="197.50" cy="471.62" r="0.72"/><circle cx="182.84" cy="483.17" r="0.72"/><circle cx="196.77" cy="430.92" r="0.72"/><circle cx="196.50" cy="451.83" r="0.72"/><circle cx="195.88" cy="462.69" r="0.72"/><circle cx="190.14" cy="459.28" r="0.72"/><circle cx="191.96" cy="474.37" r="0.72"/><circle cx="189.46" cy="459.79" r="0.72"/><circle cx="192.33" cy="460.51" r="0.72"/><circle cx="186.77" cy="481.77" r="0.72"/><circle cx="180.08" cy="500.35" r="0.72"/><circle cx="185.60" cy="509.47" r="0.72"/><circle cx="192.28" cy="503.08" r="0.72"/><circle cx="186.04" cy="466.04" r="0.72"/><circle cx="189.67" cy="485.30" r="0.72"/><circle cx="192.27" cy="478.67" r="0.72"/><circle cx="187.85" cy="474.27" r="0.72"/><circle cx="179.56" cy="454.47" r="0.72"/><circle cx="193.55" cy="429.85" r="0.72"/><circle cx="192.96" cy="483.30" r="0.72"/><circle cx="194.21" cy="489.01" r="0.72"/><circle cx="179.91" cy="431.20" r="0.72"/><circle cx="187.79" cy="480.09" r="0.72"/><circle cx="193.69" cy="483.66" r="0.72"/><circle cx="179.98" cy="482.83" r="0.72"/><circle cx="192.57" cy="478.32" r="0.72"/><circle cx="194.71" cy="447.53" r="0.72"/><circle cx="193.02" cy="476.89" r="0.72"/><circle cx="184.05" cy="486.52" r="0.72"/><circle cx="180.67" cy="468.21" r="0.72"/><circle cx="182.60" cy="441.10" r="0.72"/><circle cx="190.50" cy="453.84" r="0.72"/><circle cx="179.51" cy="458.08" r="0.72"/><circle cx="189.08" cy="488.12" r="0.72"/><circle cx="183.29" cy="454.94" r="0.72"/><circle cx="197.44" cy="487.05" r="0.72"/><circle cx="190.29" cy="436.78" r="0.72"/><circle cx="181.33" cy="493.41" r="0.72"/><circle cx="190.98" cy="516.73" r="0.72"/><circle cx="198.63" cy="448.75" r="0.72"/><circle cx="181.43" cy="476.61" r="0.72"/><circle cx="189.37" cy="494.16" r="0.72"/><circle cx="193.21" cy="479.72" r="0.72"/><circle cx="189.92" cy="461.70" r="0.72"/><circle cx="197.14" cy="442.59" r="0.72"/><circle cx="179.40" cy="459.20" r="0.72"/><circle cx="196.71" cy="482.47" r="0.72"/><circle cx="182.03" cy="472.04" r="0.72"/><circle cx="197.26" cy="464.76" r="0.72"/><circle cx="182.57" cy="473.89" r="0.72"/><circle cx="183.23" cy="508.58" r="0.72"/><circle cx="181.32" cy="434.80" r="0.72"/><circle cx="191.99" cy="466.81" r="0.72"/><circle cx="194.60" cy="483.31" r="0.72"/><circle cx="191.09" cy="492.74" r="0.72"/><circle cx="192.18" cy="471.59" r="0.72"/><circle cx="186.18" cy="460.11" r="0.72"/><circle cx="179.64" cy="480.89" r="0.72"/><circle cx="178.80" cy="469.01" r="0.72"/><circle cx="195.45" cy="430.46" r="0.72"/><circle cx="182.48" cy="473.68" r="0.72"/><circle cx="184.14" cy="466.60" r="0.72"/><circle cx="193.32" cy="505.99" r="0.72"/><circle cx="193.91" cy="479.77" r="0.72"/><circle cx="188.51" cy="456.13" r="0.72"/><circle cx="179.69" cy="509.74" r="0.72"/><circle cx="193.01" cy="456.81" r="0.72"/><circle cx="184.47" cy="456.91" r="0.72"/><circle cx="197.63" cy="483.13" r="0.72"/><circle cx="181.48" cy="482.97" r="0.72"/><circle cx="193.98" cy="467.12" r="0.72"/><circle cx="196.46" cy="471.06" r="0.72"/><circle cx="195.04" cy="471.94" r="0.72"/><circle cx="194.43" cy="471.48" r="0.72"/><circle cx="195.81" cy="468.74" r="0.72"/><circle cx="194.01" cy="478.58" r="0.72"/><circle cx="190.43" cy="444.97" r="0.72"/><circle cx="193.07" cy="497.16" r="0.72"/><circle cx="190.00" cy="464.62" r="0.72"/><circle cx="198.35" cy="512.48" r="0.72"/><circle cx="193.38" cy="492.03" r="0.72"/><circle cx="189.94" cy="507.65" r="0.72"/><circle cx="188.75" cy="467.35" r="0.72"/><circle cx="181.56" cy="467.91" r="0.72"/><circle cx="194.60" cy="481.71" r="0.72"/><circle cx="180.24" cy="446.91" r="0.72"/><circle cx="185.19" cy="476.65" r="0.72"/><circle cx="196.48" cy="499.44" r="0.72"/><circle cx="196.95" cy="454.75" r="0.72"/><circle cx="196.00" cy="477.55" r="0.72"/><circle cx="185.76" cy="471.81" r="0.72"/><circle cx="192.67" cy="501.23" r="0.72"/><circle cx="184.47" cy="490.24" r="0.72"/><circle cx="198.26" cy="482.82" r="0.72"/><circle cx="193.03" cy="436.81" r="0.72"/><circle cx="187.47" cy="510.59" r="0.72"/><circle cx="187.66" cy="465.00" r="0.72"/><circle cx="182.94" cy="486.19" r="0.72"/><circle cx="192.36" cy="482.59" r="0.72"/><circle cx="182.26" cy="473.35" r="0.72"/><circle cx="186.87" cy="466.08" r="0.72"/><circle cx="191.06" cy="477.61" r="0.72"/><circle cx="196.65" cy="480.65" r="0.72"/><circle cx="195.20" cy="487.82" r="0.72"/><circle cx="186.05" cy="472.45" r="0.72"/><circle cx="182.76" cy="469.74" r="0.72"/><circle cx="188.43" cy="456.49" r="0.72"/><circle cx="182.20" cy="446.59" r="0.72"/><circle cx="193.92" cy="499.28" r="0.72"/><circle cx="185.16" cy="471.92" r="0.72"/><circle cx="187.52" cy="435.14" r="0.72"/><circle cx="188.50" cy="448.22" r="0.72"/><circle cx="186.07" cy="468.71" r="0.72"/><circle cx="194.59" cy="468.81" r="0.72"/><circle cx="184.75" cy="476.88" r="0.72"/><circle cx="182.80" cy="467.82" r="0.72"/><circle cx="189.08" cy="438.33" r="0.72"/><circle cx="196.44" cy="470.12" r="0.72"/><circle cx="179.31" cy="457.30" r="0.72"/><circle cx="187.04" cy="500.95" r="0.72"/><circle cx="193.69" cy="480.71" r="0.72"/><circle cx="188.92" cy="450.45" r="0.72"/><circle cx="179.22" cy="465.16" r="0.72"/><circle cx="182.17" cy="473.86" r="0.72"/><circle cx="196.27" cy="457.91" r="0.72"/><circle cx="181.79" cy="471.30" r="0.72"/><circle cx="192.80" cy="500.29" r="0.72"/><circle cx="180.40" cy="481.54" r="0.72"/><circle cx="180.71" cy="450.25" r="0.72"/><circle cx="185.46" cy="498.64" r="0.72"/><circle cx="190.25" cy="454.49" r="0.72"/><circle cx="180.23" cy="507.93" r="0.72"/><circle cx="179.16" cy="485.42" r="0.72"/><circle cx="181.97" cy="457.09" r="0.72"/><circle cx="184.39" cy="460.24" r="0.72"/><circle cx="188.02" cy="455.55" r="0.72"/><circle cx="197.91" cy="503.89" r="0.72"/><circle cx="192.50" cy="451.85" r="0.72"/><circle cx="193.19" cy="482.10" r="0.72"/><circle cx="198.07" cy="438.72" r="0.72"/><circle cx="182.14" cy="470.75" r="0.72"/><circle cx="193.20" cy="473.77" r="0.72"/><circle cx="182.63" cy="465.59" r="0.72"/><circle cx="187.22" cy="484.87" r="0.72"/><circle cx="195.17" cy="484.42" r="0.72"/><circle cx="194.05" cy="462.48" r="0.72"/><circle cx="186.93" cy="512.54" r="0.72"/><circle cx="195.79" cy="503.88" r="0.72"/><circle cx="183.84" cy="468.21" r="0.72"/><circle cx="180.86" cy="485.21" r="0.72"/><circle cx="197.57" cy="472.72" r="0.72"/><circle cx="193.25" cy="434.24" r="0.72"/><circle cx="178.88" cy="460.39" r="0.72"/><circle cx="181.20" cy="486.85" r="0.72"/><circle cx="190.99" cy="455.92" r="0.72"/><circle cx="181.01" cy="500.65" r="0.72"/><circle cx="196.11" cy="474.61" r="0.72"/><circle cx="184.63" cy="473.90" r="0.72"/><circle cx="195.95" cy="448.78" r="0.72"/><circle cx="190.76" cy="490.10" r="0.72"/><circle cx="180.12" cy="469.85" r="0.72"/><circle cx="198.16" cy="483.75" r="0.72"/></g>
<g fill="#000"><circle cx="255.54" cy="469.75" r="0.72"/><circle cx="264.50" cy="502.46" r="0.72"/><circle cx="253.01" cy="498.00" r="0.72"/><circle cx="269.74" cy="505.95" r="0.72"/><circle cx="259.69" cy="504.24" r="0.72"/><circle cx="265.95" cy="441.95" r="0.72"/><circle cx="260.98" cy="440.47" r="0.72"/><circle cx="255.06" cy="473.20" r="0.72"/><circle cx="264.75" cy="443.54" r="0.72"/><circle cx="258.81" cy="479.31" r="0.72"/><circle cx="262.35" cy="466.52" r="0.72"/><circle cx="270.30" cy="506.86" r="0.72"/><circle cx="263.93" cy="511.05" r="0.72"/><circle cx="260.81" cy="467.00" r="0.72"/><circle cx="269.93" cy="520.83" r="0.72"/><circle cx="264.93" cy="463.46" r="0.72"/><circle cx="264.66" cy="448.92" r="0.72"/><circle cx="265.82" cy="490.10" r="0.72"/><circle cx="270.45" cy="481.37" r="0.72"/><circle cx="262.82" cy="519.91" r="0.72"/><circle cx="270.90" cy="509.18" r="0.72"/><circle cx="255.59" cy="484.79" r="0.72"/><circle cx="269.80" cy="445.28" r="0.72"/><circle cx="270.95" cy="480.95" r="0.72"/><circle cx="261.11" cy="434.38" r="0.72"/><circle cx="255.01" cy="473.98" r="0.72"/><circle cx="256.75" cy="449.28" r="0.72"/><circle cx="255.15" cy="492.67" r="0.72"/><circle cx="260.50" cy="516.78" r="0.72"/><circle cx="257.01" cy="483.79" r="0.72"/><circle cx="258.09" cy="510.13" r="0.72"/><circle cx="268.28" cy="469.61" r="0.72"/><circle cx="261.40" cy="447.81" r="0.72"/><circle cx="254.01" cy="492.98" r="0.72"/><circle cx="259.94" cy="452.14" r="0.72"/><circle cx="271.50" cy="496.27" r="0.72"/><circle cx="257.68" cy="483.22" r="0.72"/><circle cx="265.13" cy="478.90" r="0.72"/><circle cx="271.34" cy="438.58" r="0.72"/><circle cx="261.65" cy="501.61" r="0.72"/><circle cx="266.70" cy="487.39" r="0.72"/><circle cx="271.15" cy="512.95" r="0.72"/><circle cx="264.18" cy="486.40" r="0.72"/><circle cx="254.84" cy="530.71" r="0.72"/><circle cx="254.92" cy="501.18" r="0.72"/><circle cx="257.77" cy="473.11" r="0.72"/><circle cx="270.64" cy="473.13" r="0.72"/><circle cx="267.31" cy="469.00" r="0.72"/><circle cx="271.33" cy="482.80" r="0.72"/><circle cx="263.28" cy="480.80" r="0.72"/><circle cx="270.21" cy="503.00" r="0.72"/><circle cx="266.18" cy="475.32" r="0.72"/><circle cx="266.03" cy="491.05" r="0.72"/><circle cx="265.12" cy="456.11" r="0.72"/><circle cx="255.20" cy="483.60" r="0.72"/><circle cx="271.71" cy="514.13" r="0.72"/><circle cx="258.92" cy="467.66" r="0.72"/><circle cx="259.32" cy="490.26" r="0.72"/><circle cx="256.25" cy="477.49" r="0.72"/><circle cx="258.93" cy="462.22" r="0.72"/><circle cx="266.01" cy="445.42" r="0.72"/><circle cx="265.90" cy="526.50" r="0.72"/><circle cx="272.04" cy="447.14" r="0.72"/><circle cx="271.94" cy="475.82" r="0.72"/><circle cx="261.59" cy="469.65" r="0.72"/><circle cx="259.96" cy="481.39" r="0.72"/><circle cx="268.41" cy="507.24" r="0.72"/><circle cx="256.76" cy="470.44" r="0.72"/><circle cx="268.44" cy="463.29" r="0.72"/><circle cx="270.45" cy="525.99" r="0.72"/><circle cx="253.85" cy="495.85" r="0.72"/><circle cx="269.31" cy="497.72" r="0.72"/><circle cx="270.76" cy="484.17" r="0.72"/><circle cx="252.62" cy="431.03" r="0.72"/><circle cx="265.75" cy="509.89" r="0.72"/><circle cx="271.72" cy="460.53" r="0.72"/><circle cx="260.94" cy="520.95" r="0.72"/><circle cx="263.86" cy="483.92" r="0.72"/><circle cx="268.41" cy="491.59" r="0.72"/><circle cx="260.86" cy="477.78" r="0.72"/><circle cx="253.44" cy="501.52" r="0.72"/><circle cx="260.18" cy="486.36" r="0.72"/><circle cx="253.74" cy="467.94" r="0.72"/><circle cx="259.48" cy="450.50" r="0.72"/><circle cx="270.01" cy="462.82" r="0.72"/><circle cx="268.65" cy="486.84" r="0.72"/><circle cx="264.85" cy="454.23" r="0.72"/><circle cx="271.24" cy="469.09" r="0.72"/><circle cx="269.12" cy="452.19" r="0.72"/><circle cx="262.20" cy="530.58" r="0.72"/><circle cx="252.93" cy="521.69" r="0.72"/><circle cx="259.62" cy="508.52" r="0.72"/><circle cx="266.98" cy="445.04" r="0.72"/><circle cx="264.54" cy="530.96" r="0.72"/><circle cx="265.13" cy="496.25" r="0.72"/><circle cx="256.99" cy="461.42" r="0.72"/><circle cx="259.92" cy="464.13" r="0.72"/><circle cx="259.03" cy="466.80" r="0.72"/><circle cx="257.01" cy="455.80" r="0.72"/><circle cx="259.56" cy="461.62" r="0.72"/><circle cx="260.22" cy="481.91" r="0.72"/><circle cx="258.67" cy="447.68" r="0.72"/><circle cx="263.31" cy="433.58" r="0.72"/><circle cx="270.16" cy="431.67" r="0.72"/><circle cx="271.10" cy="519.70" r="0.72"/><circle cx="256.98" cy="509.27" r="0.72"/><circle cx="262.58" cy="436.84" r="0.72"/><circle cx="264.18" cy="470.15" r="0.72"/><circle cx="270.00" cy="473.48" r="0.72"/><circle cx="255.36" cy="512.99" r="0.72"/><circle cx="270.69" cy="447.99" r="0.72"/><circle cx="259.64" cy="489.31" r="0.72"/><circle cx="258.86" cy="511.05" r="0.72"/><circle cx="269.70" cy="476.30" r="0.72"/><circle cx="258.63" cy="440.84" r="0.72"/><circle cx="259.95" cy="449.11" r="0.72"/><circle cx="262.46" cy="498.57" r="0.72"/><circle cx="258.74" cy="454.19" r="0.72"/><circle cx="265.34" cy="475.78" r="0.72"/><circle cx="257.94" cy="445.19" r="0.72"/><circle cx="264.50" cy="501.32" r="0.72"/><circle cx="269.43" cy="462.60" r="0.72"/><circle cx="270.69" cy="441.30" r="0.72"/><circle cx="266.04" cy="529.58" r="0.72"/><circle cx="270.60" cy="490.44" r="0.72"/><circle cx="258.91" cy="470.53" r="0.72"/><circle cx="254.43" cy="477.53" r="0.72"/><circle cx="269.93" cy="489.31" r="0.72"/><circle cx="270.91" cy="456.18" r="0.72"/><circle cx="254.64" cy="511.23" r="0.72"/><circle cx="257.59" cy="472.01" r="0.72"/><circle cx="270.77" cy="521.73" r="0.72"/><circle cx="261.78" cy="476.57" r="0.72"/><circle cx="267.58" cy="490.56" r="0.72"/><circle cx="254.03" cy="473.09" r="0.72"/><circle cx="267.86" cy="447.72" r="0.72"/><circle cx="262.00" cy="506.08" r="0.72"/><circle cx="263.41" cy="451.31" r="0.72"/><circle cx="252.82" cy="460.46" r="0.72"/><circle cx="253.75" cy="487.02" r="0.72"/><circle cx="266.88" cy="475.43" r="0.72"/><circle cx="265.34" cy="474.78" r="0.72"/><circle cx="260.64" cy="483.40" r="0.72"/><circle cx="269.47" cy="497.75" r="0.72"/><circle cx="257.15" cy="475.36" r="0.72"/><circle cx="263.72" cy="477.46" r="0.72"/><circle cx="265.29" cy="518.04" r="0.72"/><circle cx="255.86" cy="488.47" r="0.72"/><circle cx="269.41" cy="503.82" r="0.72"/><circle cx="257.19" cy="513.81" r="0.72"/></g>
<line x1="432.60" y1="421.30" x2="432.60" y2="582.30" stroke="#000" stroke-width="0.9"/>
<line x1="432.60" y1="582.30" x2="592.70" y2="582.30" stroke="#000" stroke-width="0.9"/>
<line x1="430.00" y1="576.92" x2="432.60" y2="576.92" stroke="#000" stroke-width="0.9"/>
<text x="428.80" y="580.88" font-size="11" text-anchor="end" font-weight="normal" fill="#000" >0.2</text>
<line x1="430.00" y1="552.05" x2="432.60" y2="552.05" stroke="#000" stroke-width="0.9"/>
<text x="428.80" y="556.01" font-size="11" text-anchor="end" font-weight="normal" fill="#000" >0.3</text>
<line x1="430.00" y1="527.18" x2="432.60" y2="527.18" stroke="#000" stroke-width="0.9"/>
<text x="428.80" y="531.14" font-size="11" text-anchor="end" font-weight="normal" fill="#000" >0.4</text>
<line x1="430.00" y1="502.31" x2="432.60" y2="502.31" stroke="#000" stroke-width="0.9"/>
<text x="428.80" y="506.27" font-size="11" text-anchor="end" font-weight="normal" fill="#000" >0.5</text>
<line x1="430.00" y1="477.44" x2="432.60" y2="477.44" stroke="#000" stroke-width="0.9"/>
<text x="428.80" y="481.40" font-size="11" text-anchor="end" font-weight="normal" fill="#000" >0.6</text>
<line x1="430.00" y1="452.57" x2="432.60" y2="452.57" stroke="#000" stroke-width="0.9"/>
<text x="428.80" y="456.53" font-size="11" text-anchor="end" font-weight="normal" fill="#000" >0.7</text>
<line x1="430.00" y1="427.70" x2="432.60" y2="427.70" stroke="#000" stroke-width="0.9"/>
<text x="428.80" y="431.66" font-size="11" text-anchor="end" font-weight="normal" fill="#000" >0.8</text>
<line x1="476.30" y1="582.30" x2="476.30" y2="584.90" stroke="#000" stroke-width="0.9"/>
<line x1="549.55" y1="582.30" x2="549.55" y2="584.90" stroke="#000" stroke-width="0.9"/>
<text transform="translate(409.80,502.00) rotate(-90)" font-size="11" text-anchor="middle">Stomatal aperture (width/length)</text>
<text x="475.20" y="599.80" font-size="11" text-anchor="middle" font-weight="normal" fill="#000" >Control</text>
<text x="548.95" y="599.80" font-size="11" text-anchor="middle" font-weight="normal" fill="#000" >DC3000</text>
<line x1="476.00" y1="467.49" x2="476.00" y2="527.68" stroke="#9a9a9a" stroke-width="1.0"/>
<rect x="448.50" y="490.50" width="55.00" height="16.54" fill="#0b5f55" stroke="#08403a" stroke-width="0.85"/>
<line x1="448.50" y1="497.71" x2="503.50" y2="497.71" stroke="#022b26" stroke-width="1.25"/>
<line x1="549.25" y1="494.20" x2="549.25" y2="551.50" stroke="#9a9a9a" stroke-width="1.0"/>
<rect x="521.75" y="512.41" width="55.00" height="16.09" fill="#0b5f55" stroke="#08403a" stroke-width="0.85"/>
<line x1="521.75" y1="519.72" x2="576.75" y2="519.72" stroke="#022b26" stroke-width="1.25"/>
<g fill="#000"><circle cx="480.70" cy="516.49" r="0.72"/><circle cx="467.56" cy="492.42" r="0.72"/><circle cx="483.79" cy="489.04" r="0.72"/><circle cx="468.37" cy="489.37" r="0.72"/><circle cx="482.56" cy="514.29" r="0.72"/><circle cx="468.14" cy="514.12" r="0.72"/><circle cx="469.67" cy="496.17" r="0.72"/><circle cx="474.30" cy="499.78" r="0.72"/><circle cx="477.45" cy="517.23" r="0.72"/><circle cx="477.61" cy="497.63" r="0.72"/><circle cx="478.37" cy="485.95" r="0.72"/><circle cx="470.32" cy="497.77" r="0.72"/><circle cx="483.73" cy="487.75" r="0.72"/><circle cx="471.93" cy="516.63" r="0.72"/><circle cx="468.91" cy="501.14" r="0.72"/><circle cx="484.39" cy="497.80" r="0.72"/><circle cx="479.99" cy="478.75" r="0.72"/><circle cx="485.92" cy="498.48" r="0.72"/><circle cx="477.27" cy="492.09" r="0.72"/><circle cx="477.00" cy="500.32" r="0.72"/><circle cx="473.88" cy="507.54" r="0.72"/><circle cx="467.29" cy="516.85" r="0.72"/><circle cx="466.89" cy="490.71" r="0.72"/><circle cx="477.31" cy="487.02" r="0.72"/><circle cx="470.58" cy="508.72" r="0.72"/><circle cx="473.60" cy="513.26" r="0.72"/><circle cx="472.62" cy="506.07" r="0.72"/><circle cx="479.70" cy="502.61" r="0.72"/><circle cx="476.73" cy="507.47" r="0.72"/><circle cx="469.64" cy="507.75" r="0.72"/><circle cx="482.34" cy="472.10" r="0.72"/><circle cx="483.43" cy="490.69" r="0.72"/><circle cx="472.65" cy="502.37" r="0.72"/><circle cx="467.33" cy="507.98" r="0.72"/><circle cx="478.54" cy="474.61" r="0.72"/><circle cx="471.78" cy="501.87" r="0.72"/><circle cx="480.88" cy="502.15" r="0.72"/><circle cx="471.04" cy="478.55" r="0.72"/><circle cx="472.56" cy="511.00" r="0.72"/><circle cx="474.41" cy="488.02" r="0.72"/><circle cx="483.90" cy="481.06" r="0.72"/><circle cx="484.68" cy="521.49" r="0.72"/><circle cx="466.38" cy="498.33" r="0.72"/><circle cx="470.84" cy="504.86" r="0.72"/><circle cx="471.22" cy="508.44" r="0.72"/><circle cx="481.64" cy="467.55" r="0.72"/><circle cx="468.25" cy="519.55" r="0.72"/><circle cx="476.59" cy="471.46" r="0.72"/><circle cx="482.11" cy="493.42" r="0.72"/><circle cx="470.92" cy="517.68" r="0.72"/><circle cx="481.15" cy="495.30" r="0.72"/><circle cx="475.53" cy="519.36" r="0.72"/><circle cx="476.29" cy="506.63" r="0.72"/><circle cx="485.59" cy="513.16" r="0.72"/><circle cx="478.26" cy="489.82" r="0.72"/><circle cx="471.69" cy="491.42" r="0.72"/><circle cx="467.05" cy="517.94" r="0.72"/><circle cx="466.45" cy="492.63" r="0.72"/><circle cx="472.50" cy="501.86" r="0.72"/><circle cx="468.16" cy="503.46" r="0.72"/><circle cx="472.28" cy="491.95" r="0.72"/><circle cx="474.79" cy="500.20" r="0.72"/><circle cx="472.48" cy="507.19" r="0.72"/><circle cx="468.20" cy="487.63" r="0.72"/><circle cx="471.96" cy="490.53" r="0.72"/><circle cx="476.48" cy="515.64" r="0.72"/><circle cx="480.01" cy="495.75" r="0.72"/><circle cx="481.02" cy="491.07" r="0.72"/><circle cx="485.51" cy="496.35" r="0.72"/><circle cx="485.26" cy="488.70" r="0.72"/><circle cx="484.75" cy="515.86" r="0.72"/><circle cx="471.05" cy="498.36" r="0.72"/><circle cx="479.16" cy="491.82" r="0.72"/><circle cx="475.21" cy="526.00" r="0.72"/><circle cx="471.23" cy="499.28" r="0.72"/><circle cx="480.51" cy="495.83" r="0.72"/><circle cx="469.95" cy="499.94" r="0.72"/><circle cx="485.13" cy="479.66" r="0.72"/><circle cx="483.37" cy="499.98" r="0.72"/><circle cx="477.82" cy="489.43" r="0.72"/><circle cx="481.54" cy="524.26" r="0.72"/><circle cx="470.72" cy="491.53" r="0.72"/><circle cx="479.05" cy="518.12" r="0.72"/><circle cx="478.06" cy="490.52" r="0.72"/><circle cx="478.74" cy="499.02" r="0.72"/><circle cx="477.87" cy="487.86" r="0.72"/><circle cx="475.48" cy="488.69" r="0.72"/><circle cx="468.43" cy="494.45" r="0.72"/><circle cx="470.86" cy="495.68" r="0.72"/><circle cx="472.74" cy="507.31" r="0.72"/><circle cx="466.22" cy="513.18" r="0.72"/><circle cx="483.16" cy="478.81" r="0.72"/><circle cx="470.81" cy="497.83" r="0.72"/><circle cx="473.32" cy="496.09" r="0.72"/><circle cx="473.72" cy="495.90" r="0.72"/><circle cx="479.05" cy="495.57" r="0.72"/><circle cx="473.38" cy="485.66" r="0.72"/><circle cx="474.06" cy="492.67" r="0.72"/><circle cx="466.09" cy="500.78" r="0.72"/><circle cx="483.07" cy="479.71" r="0.72"/><circle cx="469.97" cy="478.17" r="0.72"/><circle cx="485.78" cy="502.15" r="0.72"/><circle cx="471.99" cy="500.61" r="0.72"/><circle cx="474.28" cy="508.68" r="0.72"/><circle cx="480.64" cy="485.95" r="0.72"/><circle cx="484.87" cy="487.90" r="0.72"/><circle cx="480.27" cy="475.85" r="0.72"/><circle cx="484.23" cy="515.48" r="0.72"/><circle cx="485.98" cy="494.03" r="0.72"/><circle cx="470.67" cy="490.15" r="0.72"/><circle cx="478.66" cy="479.33" r="0.72"/><circle cx="484.16" cy="493.24" r="0.72"/><circle cx="484.67" cy="490.13" r="0.72"/><circle cx="480.56" cy="509.09" r="0.72"/><circle cx="480.37" cy="516.40" r="0.72"/><circle cx="475.71" cy="492.33" r="0.72"/><circle cx="466.58" cy="484.87" r="0.72"/><circle cx="470.82" cy="513.69" r="0.72"/><circle cx="478.78" cy="499.66" r="0.72"/><circle cx="476.82" cy="485.63" r="0.72"/><circle cx="474.07" cy="494.46" r="0.72"/><circle cx="481.31" cy="492.32" r="0.72"/><circle cx="472.99" cy="491.67" r="0.72"/><circle cx="478.74" cy="491.79" r="0.72"/><circle cx="485.52" cy="493.50" r="0.72"/><circle cx="476.53" cy="502.32" r="0.72"/><circle cx="471.12" cy="491.31" r="0.72"/><circle cx="479.69" cy="518.77" r="0.72"/><circle cx="468.06" cy="498.85" r="0.72"/><circle cx="477.89" cy="503.71" r="0.72"/><circle cx="467.95" cy="502.23" r="0.72"/><circle cx="482.78" cy="500.58" r="0.72"/><circle cx="484.71" cy="501.95" r="0.72"/><circle cx="485.18" cy="509.99" r="0.72"/><circle cx="476.90" cy="496.38" r="0.72"/><circle cx="479.60" cy="475.01" r="0.72"/><circle cx="481.90" cy="508.91" r="0.72"/><circle cx="483.20" cy="499.99" r="0.72"/><circle cx="467.80" cy="513.01" r="0.72"/><circle cx="484.66" cy="495.77" r="0.72"/><circle cx="467.39" cy="481.86" r="0.72"/><circle cx="471.09" cy="484.32" r="0.72"/><circle cx="476.63" cy="500.59" r="0.72"/><circle cx="478.85" cy="476.70" r="0.72"/><circle cx="483.80" cy="494.72" r="0.72"/><circle cx="475.50" cy="504.65" r="0.72"/><circle cx="468.12" cy="500.69" r="0.72"/><circle cx="474.18" cy="488.41" r="0.72"/><circle cx="477.65" cy="486.14" r="0.72"/><circle cx="477.49" cy="487.87" r="0.72"/><circle cx="469.28" cy="506.70" r="0.72"/><circle cx="476.18" cy="491.62" r="0.72"/><circle cx="485.25" cy="484.74" r="0.72"/><circle cx="471.00" cy="490.53" r="0.72"/><circle cx="472.05" cy="507.11" r="0.72"/><circle cx="485.69" cy="495.17" r="0.72"/><circle cx="468.75" cy="499.52" r="0.72"/><circle cx="480.10" cy="504.44" r="0.72"/><circle cx="476.14" cy="506.91" r="0.72"/><circle cx="474.14" cy="500.28" r="0.72"/><circle cx="477.50" cy="560.75" r="0.72"/><circle cx="472.00" cy="452.57" r="0.72"/><circle cx="479.00" cy="455.06" r="0.72"/><circle cx="470.00" cy="458.79" r="0.72"/><circle cx="481.00" cy="461.27" r="0.72"/><circle cx="474.00" cy="463.76" r="0.72"/></g>
<g fill="#000"><circle cx="543.80" cy="506.32" r="0.72"/><circle cx="553.53" cy="533.66" r="0.72"/><circle cx="557.16" cy="512.56" r="0.72"/><circle cx="545.84" cy="513.95" r="0.72"/><circle cx="556.50" cy="518.96" r="0.72"/><circle cx="551.68" cy="527.87" r="0.72"/><circle cx="547.44" cy="513.08" r="0.72"/><circle cx="542.84" cy="528.70" r="0.72"/><circle cx="541.26" cy="521.80" r="0.72"/><circle cx="544.30" cy="512.57" r="0.72"/><circle cx="557.72" cy="540.91" r="0.72"/><circle cx="556.06" cy="511.77" r="0.72"/><circle cx="555.36" cy="513.25" r="0.72"/><circle cx="551.90" cy="520.14" r="0.72"/><circle cx="549.70" cy="512.23" r="0.72"/><circle cx="542.15" cy="529.81" r="0.72"/><circle cx="540.94" cy="515.70" r="0.72"/><circle cx="555.52" cy="550.94" r="0.72"/><circle cx="540.70" cy="519.89" r="0.72"/><circle cx="550.20" cy="523.12" r="0.72"/><circle cx="553.64" cy="536.19" r="0.72"/><circle cx="556.41" cy="509.64" r="0.72"/><circle cx="556.04" cy="535.04" r="0.72"/><circle cx="550.83" cy="538.92" r="0.72"/><circle cx="543.23" cy="498.96" r="0.72"/><circle cx="548.30" cy="522.43" r="0.72"/><circle cx="551.06" cy="518.37" r="0.72"/><circle cx="550.55" cy="527.49" r="0.72"/><circle cx="551.98" cy="526.33" r="0.72"/><circle cx="543.47" cy="501.53" r="0.72"/><circle cx="542.81" cy="532.52" r="0.72"/><circle cx="543.86" cy="539.41" r="0.72"/><circle cx="555.23" cy="518.42" r="0.72"/><circle cx="540.34" cy="540.03" r="0.72"/><circle cx="544.01" cy="517.80" r="0.72"/><circle cx="549.01" cy="505.18" r="0.72"/><circle cx="550.50" cy="500.81" r="0.72"/><circle cx="549.14" cy="547.23" r="0.72"/><circle cx="543.59" cy="528.62" r="0.72"/><circle cx="544.76" cy="517.27" r="0.72"/><circle cx="541.92" cy="535.96" r="0.72"/><circle cx="548.43" cy="515.39" r="0.72"/><circle cx="547.79" cy="519.37" r="0.72"/><circle cx="556.89" cy="531.52" r="0.72"/><circle cx="542.59" cy="541.30" r="0.72"/><circle cx="545.40" cy="545.84" r="0.72"/><circle cx="548.01" cy="520.56" r="0.72"/><circle cx="549.04" cy="505.69" r="0.72"/><circle cx="555.50" cy="521.37" r="0.72"/><circle cx="545.71" cy="514.88" r="0.72"/><circle cx="548.07" cy="517.51" r="0.72"/><circle cx="558.48" cy="502.21" r="0.72"/><circle cx="543.92" cy="522.79" r="0.72"/><circle cx="542.10" cy="511.25" r="0.72"/><circle cx="545.32" cy="506.39" r="0.72"/><circle cx="544.17" cy="518.20" r="0.72"/><circle cx="555.81" cy="511.72" r="0.72"/><circle cx="544.02" cy="525.68" r="0.72"/><circle cx="541.81" cy="498.19" r="0.72"/><circle cx="539.27" cy="522.75" r="0.72"/><circle cx="540.64" cy="525.75" r="0.72"/><circle cx="544.99" cy="524.29" r="0.72"/><circle cx="559.03" cy="511.14" r="0.72"/><circle cx="551.44" cy="507.63" r="0.72"/><circle cx="547.59" cy="517.00" r="0.72"/><circle cx="558.26" cy="532.05" r="0.72"/><circle cx="558.87" cy="538.52" r="0.72"/><circle cx="552.76" cy="521.85" r="0.72"/><circle cx="557.08" cy="532.26" r="0.72"/><circle cx="540.41" cy="517.35" r="0.72"/><circle cx="555.58" cy="521.90" r="0.72"/><circle cx="557.24" cy="533.36" r="0.72"/><circle cx="554.92" cy="502.45" r="0.72"/><circle cx="555.63" cy="497.52" r="0.72"/><circle cx="552.07" cy="526.28" r="0.72"/><circle cx="539.55" cy="549.48" r="0.72"/><circle cx="558.15" cy="522.29" r="0.72"/><circle cx="558.14" cy="515.00" r="0.72"/><circle cx="549.19" cy="539.13" r="0.72"/><circle cx="547.50" cy="528.62" r="0.72"/><circle cx="546.45" cy="539.86" r="0.72"/><circle cx="546.36" cy="500.97" r="0.72"/><circle cx="555.25" cy="503.56" r="0.72"/><circle cx="548.25" cy="507.84" r="0.72"/><circle cx="558.97" cy="528.71" r="0.72"/><circle cx="542.81" cy="535.22" r="0.72"/><circle cx="546.54" cy="512.42" r="0.72"/><circle cx="541.68" cy="497.75" r="0.72"/><circle cx="542.92" cy="516.17" r="0.72"/><circle cx="550.26" cy="519.12" r="0.72"/><circle cx="558.94" cy="518.09" r="0.72"/><circle cx="543.95" cy="503.69" r="0.72"/><circle cx="549.13" cy="503.16" r="0.72"/><circle cx="540.84" cy="523.40" r="0.72"/><circle cx="549.53" cy="522.54" r="0.72"/><circle cx="542.91" cy="528.35" r="0.72"/><circle cx="555.78" cy="518.18" r="0.72"/><circle cx="550.80" cy="539.34" r="0.72"/><circle cx="543.22" cy="546.94" r="0.72"/><circle cx="543.20" cy="521.35" r="0.72"/><circle cx="551.43" cy="514.12" r="0.72"/><circle cx="547.69" cy="515.80" r="0.72"/><circle cx="540.71" cy="522.90" r="0.72"/><circle cx="551.65" cy="531.14" r="0.72"/><circle cx="543.16" cy="521.01" r="0.72"/><circle cx="553.77" cy="523.81" r="0.72"/><circle cx="544.68" cy="518.97" r="0.72"/><circle cx="553.43" cy="512.10" r="0.72"/><circle cx="558.71" cy="507.51" r="0.72"/><circle cx="541.74" cy="510.82" r="0.72"/><circle cx="540.95" cy="518.19" r="0.72"/><circle cx="546.54" cy="522.75" r="0.72"/><circle cx="547.67" cy="546.66" r="0.72"/><circle cx="558.42" cy="528.49" r="0.72"/><circle cx="542.07" cy="523.60" r="0.72"/><circle cx="557.57" cy="550.15" r="0.72"/><circle cx="540.67" cy="504.96" r="0.72"/><circle cx="546.14" cy="521.52" r="0.72"/><circle cx="553.05" cy="546.90" r="0.72"/><circle cx="551.57" cy="511.67" r="0.72"/><circle cx="556.13" cy="523.24" r="0.72"/><circle cx="556.63" cy="512.00" r="0.72"/><circle cx="556.22" cy="519.17" r="0.72"/><circle cx="554.65" cy="517.12" r="0.72"/><circle cx="540.43" cy="539.53" r="0.72"/><circle cx="558.69" cy="525.25" r="0.72"/><circle cx="557.06" cy="523.84" r="0.72"/><circle cx="558.36" cy="514.77" r="0.72"/><circle cx="555.60" cy="528.13" r="0.72"/><circle cx="547.57" cy="541.55" r="0.72"/><circle cx="554.99" cy="517.77" r="0.72"/><circle cx="546.84" cy="528.89" r="0.72"/><circle cx="540.13" cy="515.86" r="0.72"/><circle cx="541.39" cy="521.89" r="0.72"/><circle cx="546.27" cy="509.91" r="0.72"/><circle cx="556.92" cy="525.13" r="0.72"/><circle cx="548.59" cy="511.13" r="0.72"/><circle cx="554.09" cy="526.43" r="0.72"/><circle cx="552.59" cy="533.68" r="0.72"/><circle cx="544.28" cy="501.34" r="0.72"/><circle cx="541.05" cy="512.05" r="0.72"/><circle cx="551.73" cy="515.15" r="0.72"/><circle cx="546.07" cy="510.71" r="0.72"/><circle cx="555.86" cy="532.18" r="0.72"/><circle cx="548.16" cy="542.15" r="0.72"/><circle cx="542.42" cy="528.70" r="0.72"/><circle cx="554.70" cy="511.76" r="0.72"/><circle cx="542.18" cy="545.32" r="0.72"/><circle cx="544.77" cy="528.54" r="0.72"/><circle cx="547.37" cy="509.53" r="0.72"/><circle cx="552.42" cy="531.21" r="0.72"/><circle cx="558.66" cy="525.92" r="0.72"/><circle cx="556.84" cy="521.45" r="0.72"/><circle cx="551.21" cy="517.33" r="0.72"/><circle cx="549.05" cy="504.63" r="0.72"/><circle cx="557.59" cy="507.04" r="0.72"/><circle cx="541.28" cy="528.22" r="0.72"/><circle cx="543.43" cy="506.14" r="0.72"/><circle cx="551.99" cy="533.42" r="0.72"/><circle cx="546.64" cy="536.04" r="0.72"/><circle cx="547.82" cy="532.00" r="0.72"/><circle cx="543.81" cy="530.41" r="0.72"/><circle cx="559.09" cy="525.83" r="0.72"/><circle cx="549.91" cy="538.03" r="0.72"/><circle cx="554.56" cy="530.54" r="0.72"/><circle cx="555.45" cy="540.32" r="0.72"/><circle cx="542.75" cy="514.54" r="0.72"/><circle cx="553.64" cy="525.72" r="0.72"/><circle cx="554.80" cy="522.47" r="0.72"/><circle cx="550.17" cy="509.13" r="0.72"/><circle cx="544.36" cy="536.31" r="0.72"/><circle cx="551.34" cy="521.07" r="0.72"/><circle cx="548.64" cy="513.31" r="0.72"/><circle cx="543.15" cy="514.82" r="0.72"/><circle cx="545.20" cy="520.30" r="0.72"/><circle cx="552.51" cy="527.87" r="0.72"/><circle cx="557.87" cy="504.26" r="0.72"/><circle cx="544.31" cy="524.39" r="0.72"/><circle cx="540.51" cy="517.04" r="0.72"/><circle cx="547.41" cy="531.32" r="0.72"/><circle cx="557.53" cy="516.86" r="0.72"/><circle cx="547.25" cy="525.23" r="0.72"/><circle cx="545.14" cy="511.76" r="0.72"/><circle cx="557.71" cy="547.74" r="0.72"/><circle cx="554.29" cy="511.19" r="0.72"/><circle cx="552.41" cy="510.79" r="0.72"/><circle cx="542.23" cy="528.16" r="0.72"/><circle cx="548.82" cy="509.72" r="0.72"/><circle cx="551.26" cy="525.75" r="0.72"/><circle cx="554.60" cy="504.21" r="0.72"/><circle cx="546.95" cy="544.33" r="0.72"/><circle cx="556.08" cy="516.54" r="0.72"/><circle cx="548.64" cy="506.28" r="0.72"/><circle cx="548.48" cy="512.95" r="0.72"/><circle cx="554.66" cy="540.51" r="0.72"/><circle cx="547.47" cy="503.91" r="0.72"/><circle cx="546.44" cy="511.90" r="0.72"/><circle cx="555.53" cy="508.94" r="0.72"/><circle cx="550.52" cy="535.38" r="0.72"/><circle cx="539.33" cy="509.17" r="0.72"/><circle cx="544.81" cy="527.10" r="0.72"/><circle cx="553.34" cy="519.69" r="0.72"/><circle cx="557.27" cy="529.56" r="0.72"/><circle cx="544.78" cy="521.91" r="0.72"/><circle cx="541.25" cy="517.22" r="0.72"/><circle cx="554.13" cy="526.70" r="0.72"/><circle cx="548.18" cy="502.52" r="0.72"/><circle cx="543.92" cy="512.76" r="0.72"/><circle cx="557.38" cy="533.07" r="0.72"/><circle cx="555.28" cy="536.09" r="0.72"/><circle cx="554.77" cy="532.08" r="0.72"/><circle cx="547.20" cy="530.61" r="0.72"/><circle cx="543.14" cy="518.80" r="0.72"/><circle cx="553.83" cy="520.31" r="0.72"/><circle cx="554.39" cy="512.80" r="0.72"/><circle cx="553.52" cy="521.21" r="0.72"/><circle cx="558.35" cy="506.40" r="0.72"/><circle cx="559.24" cy="503.87" r="0.72"/><circle cx="547.55" cy="503.34" r="0.72"/><circle cx="545.21" cy="510.65" r="0.72"/><circle cx="545.05" cy="520.57" r="0.72"/><circle cx="546.34" cy="510.16" r="0.72"/><circle cx="544.49" cy="513.55" r="0.72"/><circle cx="553.93" cy="537.39" r="0.72"/><circle cx="552.65" cy="499.93" r="0.72"/><circle cx="552.43" cy="524.24" r="0.72"/><circle cx="550.06" cy="535.94" r="0.72"/><circle cx="545.15" cy="527.35" r="0.72"/><circle cx="539.73" cy="513.02" r="0.72"/><circle cx="543.05" cy="525.91" r="0.72"/><circle cx="554.75" cy="565.31" r="0.72"/></g>
<line x1="144.60" y1="615.30" x2="144.60" y2="775.60" stroke="#000" stroke-width="0.9"/>
<line x1="144.60" y1="775.60" x2="305.50" y2="775.60" stroke="#000" stroke-width="0.9"/>
<line x1="142.00" y1="769.22" x2="144.60" y2="769.22" stroke="#000" stroke-width="0.9"/>
<text x="140.80" y="773.18" font-size="11" text-anchor="end" font-weight="normal" fill="#000" >0.2</text>
<line x1="142.00" y1="744.55" x2="144.60" y2="744.55" stroke="#000" stroke-width="0.9"/>
<text x="140.80" y="748.51" font-size="11" text-anchor="end" font-weight="normal" fill="#000" >0.3</text>
<line x1="142.00" y1="719.88" x2="144.60" y2="719.88" stroke="#000" stroke-width="0.9"/>
<text x="140.80" y="723.84" font-size="11" text-anchor="end" font-weight="normal" fill="#000" >0.4</text>
<line x1="142.00" y1="695.21" x2="144.60" y2="695.21" stroke="#000" stroke-width="0.9"/>
<text x="140.80" y="699.17" font-size="11" text-anchor="end" font-weight="normal" fill="#000" >0.5</text>
<line x1="142.00" y1="670.54" x2="144.60" y2="670.54" stroke="#000" stroke-width="0.9"/>
<text x="140.80" y="674.50" font-size="11" text-anchor="end" font-weight="normal" fill="#000" >0.6</text>
<line x1="142.00" y1="645.87" x2="144.60" y2="645.87" stroke="#000" stroke-width="0.9"/>
<text x="140.80" y="649.83" font-size="11" text-anchor="end" font-weight="normal" fill="#000" >0.7</text>
<line x1="142.00" y1="621.20" x2="144.60" y2="621.20" stroke="#000" stroke-width="0.9"/>
<text x="140.80" y="625.16" font-size="11" text-anchor="end" font-weight="normal" fill="#000" >0.8</text>
<line x1="188.50" y1="775.60" x2="188.50" y2="778.20" stroke="#000" stroke-width="0.9"/>
<line x1="261.60" y1="775.60" x2="261.60" y2="778.20" stroke="#000" stroke-width="0.9"/>
<text transform="translate(121.80,695.65) rotate(-90)" font-size="11" text-anchor="middle">Stomatal aperture (width/length)</text>
<text x="187.40" y="791.10" font-size="11" text-anchor="middle" font-weight="normal" fill="#000" >Control</text>
<text x="261.00" y="791.10" font-size="11" text-anchor="middle" font-weight="normal" fill="#000" >DC3000</text>
<line x1="188.20" y1="615.03" x2="188.20" y2="729.60" stroke="#9a9a9a" stroke-width="1.0"/>
<rect x="160.70" y="658.45" width="55.00" height="30.94" fill="#3a9a8d" stroke="#2f5d57" stroke-width="0.85"/>
<line x1="160.70" y1="675.47" x2="215.70" y2="675.47" stroke="#1d4a44" stroke-width="1.25"/>
<line x1="261.30" y1="684.60" x2="261.30" y2="749.73" stroke="#9a9a9a" stroke-width="1.0"/>
<rect x="233.80" y="709.52" width="55.00" height="18.18" fill="#3a9a8d" stroke="#2f5d57" stroke-width="0.85"/>
<line x1="233.80" y1="717.41" x2="288.80" y2="717.41" stroke="#1d4a44" stroke-width="1.25"/>
<g fill="#000"><circle cx="197.23" cy="699.12" r="0.72"/><circle cx="193.57" cy="642.55" r="0.72"/><circle cx="193.22" cy="664.54" r="0.72"/><circle cx="185.23" cy="654.07" r="0.72"/><circle cx="185.93" cy="680.32" r="0.72"/><circle cx="195.82" cy="657.30" r="0.72"/><circle cx="190.44" cy="665.78" r="0.72"/><circle cx="196.79" cy="692.66" r="0.72"/><circle cx="190.70" cy="678.28" r="0.72"/><circle cx="193.51" cy="635.29" r="0.72"/><circle cx="186.05" cy="684.74" r="0.72"/><circle cx="190.73" cy="714.20" r="0.72"/><circle cx="188.51" cy="676.62" r="0.72"/><circle cx="196.82" cy="635.94" r="0.72"/><circle cx="180.68" cy="684.70" r="0.72"/><circle cx="180.74" cy="680.00" r="0.72"/><circle cx="193.86" cy="674.48" r="0.72"/><circle cx="197.55" cy="658.17" r="0.72"/><circle cx="179.34" cy="660.60" r="0.72"/><circle cx="184.60" cy="674.12" r="0.72"/><circle cx="195.23" cy="704.40" r="0.72"/><circle cx="179.70" cy="666.32" r="0.72"/><circle cx="183.55" cy="714.16" r="0.72"/><circle cx="196.65" cy="626.00" r="0.72"/><circle cx="196.58" cy="640.02" r="0.72"/><circle cx="181.54" cy="655.15" r="0.72"/><circle cx="179.07" cy="684.69" r="0.72"/><circle cx="182.91" cy="660.94" r="0.72"/><circle cx="192.20" cy="687.91" r="0.72"/><circle cx="183.60" cy="667.80" r="0.72"/><circle cx="187.95" cy="644.65" r="0.72"/><circle cx="187.62" cy="660.60" r="0.72"/><circle cx="192.05" cy="710.61" r="0.72"/><circle cx="189.75" cy="699.61" r="0.72"/><circle cx="195.18" cy="644.04" r="0.72"/><circle cx="185.19" cy="675.37" r="0.72"/><circle cx="182.00" cy="709.27" r="0.72"/><circle cx="182.84" cy="697.63" r="0.72"/><circle cx="179.91" cy="640.11" r="0.72"/><circle cx="196.54" cy="668.04" r="0.72"/><circle cx="189.45" cy="651.10" r="0.72"/><circle cx="197.00" cy="717.61" r="0.72"/><circle cx="187.05" cy="692.20" r="0.72"/><circle cx="187.74" cy="635.65" r="0.72"/><circle cx="184.24" cy="633.59" r="0.72"/><circle cx="181.73" cy="668.62" r="0.72"/><circle cx="182.41" cy="670.38" r="0.72"/><circle cx="191.85" cy="673.05" r="0.72"/><circle cx="192.92" cy="654.45" r="0.72"/><circle cx="187.19" cy="661.76" r="0.72"/><circle cx="197.16" cy="686.13" r="0.72"/><circle cx="190.23" cy="691.60" r="0.72"/><circle cx="187.44" cy="689.50" r="0.72"/><circle cx="192.84" cy="684.99" r="0.72"/><circle cx="180.23" cy="679.49" r="0.72"/><circle cx="191.68" cy="642.71" r="0.72"/><circle cx="186.70" cy="680.04" r="0.72"/><circle cx="180.09" cy="680.42" r="0.72"/><circle cx="191.45" cy="650.36" r="0.72"/><circle cx="182.36" cy="657.76" r="0.72"/><circle cx="184.90" cy="677.95" r="0.72"/><circle cx="198.18" cy="668.80" r="0.72"/><circle cx="187.37" cy="650.45" r="0.72"/><circle cx="194.94" cy="684.38" r="0.72"/><circle cx="194.34" cy="722.00" r="0.72"/><circle cx="186.69" cy="657.40" r="0.72"/><circle cx="186.87" cy="692.86" r="0.72"/><circle cx="190.03" cy="672.48" r="0.72"/><circle cx="197.98" cy="681.10" r="0.72"/><circle cx="185.72" cy="675.53" r="0.72"/><circle cx="187.18" cy="618.09" r="0.72"/><circle cx="184.76" cy="678.99" r="0.72"/><circle cx="182.80" cy="698.69" r="0.72"/><circle cx="181.33" cy="711.38" r="0.72"/><circle cx="196.34" cy="715.71" r="0.72"/><circle cx="187.45" cy="724.80" r="0.72"/><circle cx="197.28" cy="709.64" r="0.72"/><circle cx="193.44" cy="690.60" r="0.72"/><circle cx="182.43" cy="699.30" r="0.72"/><circle cx="188.88" cy="668.65" r="0.72"/><circle cx="195.92" cy="696.76" r="0.72"/><circle cx="185.80" cy="679.98" r="0.72"/><circle cx="193.05" cy="658.36" r="0.72"/><circle cx="185.31" cy="701.56" r="0.72"/><circle cx="187.43" cy="653.77" r="0.72"/><circle cx="181.53" cy="660.51" r="0.72"/><circle cx="180.55" cy="688.07" r="0.72"/><circle cx="195.53" cy="656.32" r="0.72"/><circle cx="181.98" cy="689.82" r="0.72"/><circle cx="190.50" cy="663.40" r="0.72"/><circle cx="193.85" cy="683.20" r="0.72"/><circle cx="188.50" cy="662.15" r="0.72"/><circle cx="188.61" cy="696.67" r="0.72"/><circle cx="190.51" cy="720.27" r="0.72"/><circle cx="189.94" cy="694.58" r="0.72"/><circle cx="181.50" cy="686.12" r="0.72"/><circle cx="195.68" cy="674.51" r="0.72"/><circle cx="193.30" cy="645.26" r="0.72"/><circle cx="181.50" cy="680.24" r="0.72"/><circle cx="194.57" cy="682.86" r="0.72"/><circle cx="180.84" cy="634.20" r="0.72"/><circle cx="197.34" cy="660.59" r="0.72"/><circle cx="186.88" cy="673.58" r="0.72"/><circle cx="189.61" cy="643.49" r="0.72"/><circle cx="190.78" cy="646.89" r="0.72"/><circle cx="193.72" cy="674.34" r="0.72"/><circle cx="179.98" cy="641.29" r="0.72"/><circle cx="188.82" cy="669.95" r="0.72"/><circle cx="195.02" cy="683.96" r="0.72"/><circle cx="191.93" cy="651.18" r="0.72"/><circle cx="188.06" cy="688.40" r="0.72"/><circle cx="190.54" cy="666.90" r="0.72"/><circle cx="197.77" cy="661.26" r="0.72"/><circle cx="184.33" cy="615.28" r="0.72"/><circle cx="182.31" cy="696.82" r="0.72"/><circle cx="183.54" cy="661.89" r="0.72"/><circle cx="182.21" cy="694.92" r="0.72"/><circle cx="187.18" cy="659.42" r="0.72"/><circle cx="193.58" cy="674.13" r="0.72"/><circle cx="183.07" cy="672.36" r="0.72"/><circle cx="197.36" cy="711.07" r="0.72"/><circle cx="195.16" cy="652.66" r="0.72"/><circle cx="188.98" cy="679.09" r="0.72"/><circle cx="189.80" cy="637.83" r="0.72"/><circle cx="192.31" cy="643.43" r="0.72"/><circle cx="183.37" cy="642.86" r="0.72"/><circle cx="193.54" cy="689.36" r="0.72"/><circle cx="194.30" cy="667.09" r="0.72"/><circle cx="179.77" cy="700.44" r="0.72"/><circle cx="194.64" cy="657.18" r="0.72"/><circle cx="186.02" cy="639.58" r="0.72"/><circle cx="193.22" cy="670.80" r="0.72"/><circle cx="187.26" cy="706.48" r="0.72"/><circle cx="183.99" cy="676.70" r="0.72"/><circle cx="184.73" cy="716.11" r="0.72"/><circle cx="183.42" cy="666.48" r="0.72"/><circle cx="189.76" cy="659.35" r="0.72"/><circle cx="180.00" cy="655.34" r="0.72"/><circle cx="195.33" cy="663.35" r="0.72"/><circle cx="186.72" cy="670.85" r="0.72"/><circle cx="189.33" cy="656.81" r="0.72"/><circle cx="193.82" cy="642.98" r="0.72"/><circle cx="197.66" cy="717.10" r="0.72"/><circle cx="179.51" cy="715.06" r="0.72"/><circle cx="186.80" cy="687.23" r="0.72"/><circle cx="187.39" cy="683.03" r="0.72"/><circle cx="184.86" cy="652.98" r="0.72"/><circle cx="197.88" cy="650.87" r="0.72"/><circle cx="192.98" cy="641.36" r="0.72"/><circle cx="195.43" cy="692.35" r="0.72"/><circle cx="191.09" cy="684.41" r="0.72"/><circle cx="197.18" cy="665.04" r="0.72"/><circle cx="192.17" cy="682.69" r="0.72"/><circle cx="193.91" cy="687.89" r="0.72"/><circle cx="188.52" cy="616.01" r="0.72"/><circle cx="188.24" cy="664.47" r="0.72"/><circle cx="198.07" cy="654.69" r="0.72"/><circle cx="179.74" cy="692.27" r="0.72"/><circle cx="180.36" cy="642.34" r="0.72"/><circle cx="186.68" cy="662.57" r="0.72"/><circle cx="190.90" cy="679.85" r="0.72"/><circle cx="190.41" cy="664.42" r="0.72"/><circle cx="192.92" cy="682.57" r="0.72"/><circle cx="186.67" cy="682.40" r="0.72"/><circle cx="187.48" cy="646.86" r="0.72"/><circle cx="191.23" cy="678.03" r="0.72"/><circle cx="189.42" cy="676.08" r="0.72"/><circle cx="188.21" cy="672.96" r="0.72"/><circle cx="195.97" cy="660.40" r="0.72"/><circle cx="192.05" cy="660.60" r="0.72"/><circle cx="189.33" cy="677.79" r="0.72"/><circle cx="196.41" cy="663.40" r="0.72"/><circle cx="190.12" cy="632.36" r="0.72"/><circle cx="185.58" cy="664.14" r="0.72"/><circle cx="179.62" cy="662.25" r="0.72"/><circle cx="197.40" cy="698.22" r="0.72"/><circle cx="190.78" cy="639.07" r="0.72"/><circle cx="196.90" cy="687.40" r="0.72"/><circle cx="181.02" cy="643.15" r="0.72"/><circle cx="184.56" cy="693.16" r="0.72"/><circle cx="196.75" cy="664.84" r="0.72"/><circle cx="181.35" cy="688.65" r="0.72"/><circle cx="178.87" cy="652.68" r="0.72"/><circle cx="178.60" cy="670.91" r="0.72"/><circle cx="186.93" cy="709.44" r="0.72"/><circle cx="197.10" cy="652.58" r="0.72"/><circle cx="188.41" cy="628.34" r="0.72"/><circle cx="181.52" cy="661.82" r="0.72"/><circle cx="179.21" cy="666.44" r="0.72"/><circle cx="185.63" cy="661.65" r="0.72"/><circle cx="182.28" cy="668.57" r="0.72"/><circle cx="179.88" cy="676.71" r="0.72"/><circle cx="183.23" cy="704.31" r="0.72"/><circle cx="183.85" cy="691.40" r="0.72"/><circle cx="193.78" cy="704.89" r="0.72"/><circle cx="185.60" cy="709.32" r="0.72"/><circle cx="184.84" cy="687.33" r="0.72"/><circle cx="181.04" cy="654.53" r="0.72"/><circle cx="185.17" cy="657.62" r="0.72"/><circle cx="189.44" cy="653.73" r="0.72"/><circle cx="190.75" cy="675.94" r="0.72"/><circle cx="197.73" cy="655.83" r="0.72"/><circle cx="179.53" cy="673.92" r="0.72"/><circle cx="183.30" cy="672.02" r="0.72"/><circle cx="182.11" cy="716.59" r="0.72"/><circle cx="194.80" cy="645.59" r="0.72"/><circle cx="188.15" cy="700.28" r="0.72"/><circle cx="187.82" cy="669.73" r="0.72"/><circle cx="197.64" cy="702.78" r="0.72"/><circle cx="195.22" cy="659.99" r="0.72"/><circle cx="179.45" cy="702.05" r="0.72"/><circle cx="196.14" cy="670.51" r="0.72"/><circle cx="194.41" cy="664.80" r="0.72"/><circle cx="191.26" cy="630.92" r="0.72"/><circle cx="179.96" cy="706.27" r="0.72"/><circle cx="184.09" cy="696.59" r="0.72"/><circle cx="180.83" cy="682.73" r="0.72"/><circle cx="185.96" cy="680.00" r="0.72"/><circle cx="195.49" cy="669.52" r="0.72"/><circle cx="179.73" cy="655.48" r="0.72"/><circle cx="192.82" cy="683.41" r="0.72"/><circle cx="191.34" cy="708.87" r="0.72"/><circle cx="178.96" cy="727.32" r="0.72"/><circle cx="195.84" cy="660.13" r="0.72"/><circle cx="190.91" cy="668.10" r="0.72"/><circle cx="187.95" cy="725.01" r="0.72"/><circle cx="189.89" cy="637.24" r="0.72"/><circle cx="184.61" cy="654.82" r="0.72"/><circle cx="193.57" cy="673.42" r="0.72"/><circle cx="179.54" cy="694.58" r="0.72"/><circle cx="190.11" cy="678.16" r="0.72"/><circle cx="179.91" cy="650.43" r="0.72"/><circle cx="196.86" cy="666.22" r="0.72"/><circle cx="197.35" cy="682.24" r="0.72"/><circle cx="182.81" cy="682.62" r="0.72"/><circle cx="189.82" cy="668.32" r="0.72"/><circle cx="190.99" cy="693.58" r="0.72"/><circle cx="197.35" cy="657.88" r="0.72"/><circle cx="183.97" cy="627.23" r="0.72"/><circle cx="190.09" cy="686.09" r="0.72"/><circle cx="180.20" cy="658.83" r="0.72"/><circle cx="181.36" cy="643.69" r="0.72"/><circle cx="186.46" cy="653.67" r="0.72"/><circle cx="194.47" cy="674.91" r="0.72"/><circle cx="190.85" cy="676.10" r="0.72"/><circle cx="188.32" cy="678.08" r="0.72"/><circle cx="192.73" cy="649.71" r="0.72"/><circle cx="181.19" cy="659.45" r="0.72"/><circle cx="181.23" cy="684.96" r="0.72"/><circle cx="184.72" cy="713.25" r="0.72"/><circle cx="183.23" cy="662.29" r="0.72"/><circle cx="194.22" cy="685.49" r="0.72"/><circle cx="181.09" cy="661.66" r="0.72"/><circle cx="188.61" cy="677.35" r="0.72"/><circle cx="188.60" cy="721.30" r="0.72"/><circle cx="183.62" cy="682.48" r="0.72"/><circle cx="182.93" cy="677.02" r="0.72"/><circle cx="180.32" cy="664.65" r="0.72"/><circle cx="178.54" cy="663.00" r="0.72"/><circle cx="180.85" cy="616.09" r="0.72"/></g>
<g fill="#000"><circle cx="270.14" cy="715.40" r="0.72"/><circle cx="252.43" cy="718.85" r="0.72"/><circle cx="270.73" cy="714.50" r="0.72"/><circle cx="260.32" cy="725.59" r="0.72"/><circle cx="256.86" cy="725.60" r="0.72"/><circle cx="254.05" cy="738.17" r="0.72"/><circle cx="258.28" cy="722.70" r="0.72"/><circle cx="254.88" cy="717.10" r="0.72"/><circle cx="253.30" cy="695.99" r="0.72"/><circle cx="266.21" cy="712.28" r="0.72"/><circle cx="261.23" cy="734.86" r="0.72"/><circle cx="254.37" cy="723.46" r="0.72"/><circle cx="256.19" cy="736.46" r="0.72"/><circle cx="253.92" cy="710.15" r="0.72"/><circle cx="253.94" cy="723.28" r="0.72"/><circle cx="270.37" cy="695.45" r="0.72"/><circle cx="260.36" cy="724.05" r="0.72"/><circle cx="261.77" cy="723.14" r="0.72"/><circle cx="264.67" cy="725.57" r="0.72"/><circle cx="263.17" cy="721.43" r="0.72"/><circle cx="262.05" cy="723.59" r="0.72"/><circle cx="262.08" cy="743.60" r="0.72"/><circle cx="262.29" cy="739.15" r="0.72"/><circle cx="255.62" cy="716.71" r="0.72"/><circle cx="255.81" cy="717.48" r="0.72"/><circle cx="267.02" cy="724.05" r="0.72"/><circle cx="257.44" cy="697.42" r="0.72"/><circle cx="256.85" cy="708.32" r="0.72"/><circle cx="260.53" cy="728.15" r="0.72"/><circle cx="256.77" cy="723.67" r="0.72"/><circle cx="261.05" cy="685.45" r="0.72"/><circle cx="254.66" cy="718.90" r="0.72"/><circle cx="264.66" cy="709.52" r="0.72"/><circle cx="265.45" cy="717.17" r="0.72"/><circle cx="267.40" cy="727.71" r="0.72"/><circle cx="262.01" cy="697.01" r="0.72"/><circle cx="262.83" cy="708.84" r="0.72"/><circle cx="263.52" cy="715.55" r="0.72"/><circle cx="255.30" cy="706.15" r="0.72"/><circle cx="256.02" cy="713.77" r="0.72"/><circle cx="263.58" cy="730.45" r="0.72"/><circle cx="257.94" cy="720.42" r="0.72"/><circle cx="257.09" cy="693.70" r="0.72"/><circle cx="268.15" cy="731.04" r="0.72"/><circle cx="256.85" cy="693.40" r="0.72"/><circle cx="270.42" cy="715.39" r="0.72"/><circle cx="261.86" cy="735.81" r="0.72"/><circle cx="258.61" cy="687.27" r="0.72"/><circle cx="260.19" cy="708.67" r="0.72"/><circle cx="251.85" cy="706.35" r="0.72"/><circle cx="253.04" cy="727.13" r="0.72"/><circle cx="264.51" cy="731.57" r="0.72"/><circle cx="255.43" cy="726.36" r="0.72"/><circle cx="253.69" cy="721.30" r="0.72"/><circle cx="263.62" cy="694.72" r="0.72"/><circle cx="251.59" cy="746.83" r="0.72"/><circle cx="252.37" cy="722.75" r="0.72"/><circle cx="270.73" cy="746.32" r="0.72"/><circle cx="269.56" cy="723.46" r="0.72"/><circle cx="263.79" cy="708.33" r="0.72"/><circle cx="255.74" cy="702.09" r="0.72"/><circle cx="269.46" cy="706.52" r="0.72"/><circle cx="254.02" cy="687.59" r="0.72"/><circle cx="260.72" cy="696.59" r="0.72"/><circle cx="253.60" cy="719.60" r="0.72"/><circle cx="256.77" cy="720.22" r="0.72"/><circle cx="253.29" cy="720.70" r="0.72"/><circle cx="251.68" cy="720.44" r="0.72"/><circle cx="252.98" cy="722.10" r="0.72"/><circle cx="265.01" cy="713.45" r="0.72"/><circle cx="260.67" cy="745.98" r="0.72"/><circle cx="261.10" cy="716.74" r="0.72"/><circle cx="258.25" cy="708.64" r="0.72"/><circle cx="269.06" cy="697.94" r="0.72"/><circle cx="268.10" cy="712.36" r="0.72"/><circle cx="266.15" cy="731.52" r="0.72"/><circle cx="257.41" cy="716.79" r="0.72"/><circle cx="261.54" cy="709.37" r="0.72"/><circle cx="253.20" cy="725.78" r="0.72"/><circle cx="255.10" cy="705.05" r="0.72"/><circle cx="252.92" cy="731.84" r="0.72"/><circle cx="270.05" cy="709.25" r="0.72"/><circle cx="261.69" cy="739.83" r="0.72"/><circle cx="261.40" cy="717.17" r="0.72"/><circle cx="253.75" cy="716.57" r="0.72"/><circle cx="257.94" cy="736.59" r="0.72"/><circle cx="255.98" cy="734.98" r="0.72"/><circle cx="264.28" cy="734.16" r="0.72"/><circle cx="268.78" cy="709.29" r="0.72"/><circle cx="269.78" cy="718.23" r="0.72"/><circle cx="265.65" cy="726.99" r="0.72"/><circle cx="265.91" cy="720.71" r="0.72"/><circle cx="268.41" cy="711.17" r="0.72"/><circle cx="254.80" cy="707.34" r="0.72"/><circle cx="267.94" cy="715.78" r="0.72"/><circle cx="260.12" cy="716.41" r="0.72"/><circle cx="255.94" cy="722.18" r="0.72"/><circle cx="271.08" cy="709.74" r="0.72"/><circle cx="267.93" cy="727.32" r="0.72"/><circle cx="265.21" cy="700.71" r="0.72"/><circle cx="265.28" cy="732.67" r="0.72"/><circle cx="263.23" cy="737.18" r="0.72"/><circle cx="269.55" cy="715.74" r="0.72"/><circle cx="261.63" cy="711.92" r="0.72"/><circle cx="269.19" cy="714.27" r="0.72"/><circle cx="251.53" cy="726.97" r="0.72"/><circle cx="263.43" cy="743.00" r="0.72"/><circle cx="270.32" cy="732.03" r="0.72"/><circle cx="252.62" cy="718.71" r="0.72"/><circle cx="256.52" cy="726.03" r="0.72"/><circle cx="267.01" cy="713.50" r="0.72"/><circle cx="262.41" cy="720.39" r="0.72"/><circle cx="269.47" cy="709.10" r="0.72"/><circle cx="267.45" cy="736.20" r="0.72"/><circle cx="262.18" cy="733.98" r="0.72"/><circle cx="257.39" cy="747.52" r="0.72"/><circle cx="252.57" cy="717.11" r="0.72"/><circle cx="269.52" cy="722.02" r="0.72"/><circle cx="260.17" cy="702.50" r="0.72"/><circle cx="262.23" cy="713.95" r="0.72"/><circle cx="253.88" cy="704.73" r="0.72"/><circle cx="266.32" cy="716.60" r="0.72"/><circle cx="251.59" cy="701.01" r="0.72"/><circle cx="257.83" cy="726.77" r="0.72"/><circle cx="255.65" cy="713.39" r="0.72"/><circle cx="259.87" cy="730.03" r="0.72"/><circle cx="262.80" cy="712.19" r="0.72"/><circle cx="267.63" cy="734.49" r="0.72"/><circle cx="254.00" cy="719.19" r="0.72"/><circle cx="258.41" cy="712.71" r="0.72"/><circle cx="252.85" cy="731.39" r="0.72"/><circle cx="264.51" cy="703.22" r="0.72"/><circle cx="270.81" cy="744.07" r="0.72"/><circle cx="253.70" cy="700.72" r="0.72"/><circle cx="260.75" cy="723.81" r="0.72"/><circle cx="265.65" cy="694.52" r="0.72"/><circle cx="260.83" cy="689.39" r="0.72"/><circle cx="256.27" cy="725.55" r="0.72"/><circle cx="271.23" cy="712.98" r="0.72"/><circle cx="257.03" cy="700.06" r="0.72"/><circle cx="252.88" cy="718.00" r="0.72"/><circle cx="262.10" cy="745.28" r="0.72"/><circle cx="262.98" cy="733.22" r="0.72"/><circle cx="268.24" cy="705.59" r="0.72"/><circle cx="262.98" cy="690.18" r="0.72"/><circle cx="252.31" cy="720.15" r="0.72"/><circle cx="255.60" cy="728.14" r="0.72"/><circle cx="270.36" cy="743.07" r="0.72"/><circle cx="255.26" cy="736.18" r="0.72"/><circle cx="270.75" cy="710.35" r="0.72"/><circle cx="255.22" cy="735.56" r="0.72"/><circle cx="262.95" cy="691.51" r="0.72"/><circle cx="264.27" cy="705.87" r="0.72"/><circle cx="252.76" cy="736.53" r="0.72"/><circle cx="270.22" cy="737.15" r="0.72"/><circle cx="259.76" cy="736.81" r="0.72"/><circle cx="264.13" cy="705.10" r="0.72"/><circle cx="267.28" cy="732.88" r="0.72"/><circle cx="263.99" cy="719.31" r="0.72"/><circle cx="257.94" cy="693.27" r="0.72"/><circle cx="262.41" cy="710.54" r="0.72"/><circle cx="263.34" cy="689.28" r="0.72"/><circle cx="260.28" cy="696.46" r="0.72"/><circle cx="264.03" cy="739.18" r="0.72"/><circle cx="258.15" cy="742.72" r="0.72"/><circle cx="270.56" cy="692.68" r="0.72"/><circle cx="254.33" cy="733.71" r="0.72"/><circle cx="261.00" cy="727.73" r="0.72"/><circle cx="263.74" cy="727.62" r="0.72"/><circle cx="252.07" cy="725.13" r="0.72"/><circle cx="254.67" cy="732.13" r="0.72"/><circle cx="251.76" cy="699.40" r="0.72"/><circle cx="265.67" cy="724.53" r="0.72"/><circle cx="255.69" cy="710.96" r="0.72"/><circle cx="269.67" cy="710.01" r="0.72"/><circle cx="268.93" cy="719.96" r="0.72"/><circle cx="269.28" cy="711.64" r="0.72"/><circle cx="268.49" cy="694.30" r="0.72"/><circle cx="257.39" cy="727.36" r="0.72"/><circle cx="265.74" cy="724.82" r="0.72"/><circle cx="260.96" cy="704.85" r="0.72"/><circle cx="263.44" cy="701.93" r="0.72"/><circle cx="253.08" cy="700.77" r="0.72"/><circle cx="269.61" cy="718.04" r="0.72"/><circle cx="263.71" cy="715.41" r="0.72"/><circle cx="264.59" cy="725.23" r="0.72"/><circle cx="263.72" cy="714.19" r="0.72"/><circle cx="264.21" cy="713.39" r="0.72"/><circle cx="258.51" cy="739.64" r="0.72"/><circle cx="271.17" cy="708.45" r="0.72"/><circle cx="261.64" cy="732.62" r="0.72"/><circle cx="268.94" cy="731.02" r="0.72"/><circle cx="265.28" cy="710.73" r="0.72"/><circle cx="270.57" cy="708.22" r="0.72"/><circle cx="254.85" cy="717.69" r="0.72"/><circle cx="254.25" cy="710.85" r="0.72"/><circle cx="262.68" cy="724.52" r="0.72"/><circle cx="252.91" cy="741.33" r="0.72"/><circle cx="270.42" cy="724.23" r="0.72"/><circle cx="265.70" cy="720.96" r="0.72"/><circle cx="261.81" cy="742.06" r="0.72"/><circle cx="267.06" cy="721.79" r="0.72"/><circle cx="269.64" cy="733.21" r="0.72"/><circle cx="261.27" cy="722.70" r="0.72"/><circle cx="258.38" cy="702.73" r="0.72"/><circle cx="263.95" cy="742.53" r="0.72"/><circle cx="257.33" cy="722.49" r="0.72"/><circle cx="270.14" cy="712.55" r="0.72"/><circle cx="265.89" cy="722.19" r="0.72"/><circle cx="261.95" cy="716.14" r="0.72"/><circle cx="267.07" cy="731.74" r="0.72"/><circle cx="263.66" cy="715.89" r="0.72"/><circle cx="254.67" cy="720.71" r="0.72"/><circle cx="258.18" cy="700.98" r="0.72"/><circle cx="261.23" cy="729.58" r="0.72"/><circle cx="266.66" cy="722.70" r="0.72"/><circle cx="266.47" cy="730.63" r="0.72"/><circle cx="268.61" cy="703.27" r="0.72"/><circle cx="254.50" cy="698.40" r="0.72"/><circle cx="255.77" cy="716.01" r="0.72"/><circle cx="268.89" cy="709.80" r="0.72"/><circle cx="257.47" cy="722.51" r="0.72"/><circle cx="268.30" cy="729.77" r="0.72"/><circle cx="268.32" cy="703.25" r="0.72"/><circle cx="269.23" cy="703.05" r="0.72"/><circle cx="264.95" cy="712.85" r="0.72"/><circle cx="270.28" cy="721.97" r="0.72"/><circle cx="270.56" cy="745.09" r="0.72"/><circle cx="257.60" cy="705.54" r="0.72"/><circle cx="260.09" cy="729.62" r="0.72"/><circle cx="262.30" cy="662.15" r="0.72"/><circle cx="266.30" cy="668.07" r="0.72"/><circle cx="258.30" cy="673.01" r="0.72"/><circle cx="265.30" cy="676.71" r="0.72"/><circle cx="255.30" cy="680.41" r="0.72"/><circle cx="254.30" cy="753.92" r="0.72"/><circle cx="265.30" cy="756.88" r="0.72"/><circle cx="259.30" cy="755.65" r="0.72"/></g>
<line x1="431.40" y1="615.30" x2="431.40" y2="775.60" stroke="#000" stroke-width="0.9"/>
<line x1="431.40" y1="775.60" x2="592.60" y2="775.60" stroke="#000" stroke-width="0.9"/>
<line x1="428.80" y1="769.22" x2="431.40" y2="769.22" stroke="#000" stroke-width="0.9"/>
<text x="427.60" y="773.18" font-size="11" text-anchor="end" font-weight="normal" fill="#000" >0.2</text>
<line x1="428.80" y1="744.55" x2="431.40" y2="744.55" stroke="#000" stroke-width="0.9"/>
<text x="427.60" y="748.51" font-size="11" text-anchor="end" font-weight="normal" fill="#000" >0.3</text>
<line x1="428.80" y1="719.88" x2="431.40" y2="719.88" stroke="#000" stroke-width="0.9"/>
<text x="427.60" y="723.84" font-size="11" text-anchor="end" font-weight="normal" fill="#000" >0.4</text>
<line x1="428.80" y1="695.21" x2="431.40" y2="695.21" stroke="#000" stroke-width="0.9"/>
<text x="427.60" y="699.17" font-size="11" text-anchor="end" font-weight="normal" fill="#000" >0.5</text>
<line x1="428.80" y1="670.54" x2="431.40" y2="670.54" stroke="#000" stroke-width="0.9"/>
<text x="427.60" y="674.50" font-size="11" text-anchor="end" font-weight="normal" fill="#000" >0.6</text>
<line x1="428.80" y1="645.87" x2="431.40" y2="645.87" stroke="#000" stroke-width="0.9"/>
<text x="427.60" y="649.83" font-size="11" text-anchor="end" font-weight="normal" fill="#000" >0.7</text>
<line x1="428.80" y1="621.20" x2="431.40" y2="621.20" stroke="#000" stroke-width="0.9"/>
<text x="427.60" y="625.16" font-size="11" text-anchor="end" font-weight="normal" fill="#000" >0.8</text>
<line x1="476.20" y1="775.60" x2="476.20" y2="778.20" stroke="#000" stroke-width="0.9"/>
<line x1="549.40" y1="775.60" x2="549.40" y2="778.20" stroke="#000" stroke-width="0.9"/>
<text transform="translate(408.60,695.65) rotate(-90)" font-size="11" text-anchor="middle">Stomatal aperture (width/length)</text>
<text x="475.10" y="791.10" font-size="11" text-anchor="middle" font-weight="normal" fill="#000" >Control</text>
<text x="548.80" y="791.10" font-size="11" text-anchor="middle" font-weight="normal" fill="#000" >DC3000</text>
<line x1="475.90" y1="637.24" x2="475.90" y2="712.97" stroke="#9a9a9a" stroke-width="1.0"/>
<rect x="448.40" y="662.65" width="55.00" height="19.66" fill="#0b5f55" stroke="#08403a" stroke-width="0.85"/>
<line x1="448.40" y1="675.30" x2="503.40" y2="675.30" stroke="#022b26" stroke-width="1.25"/>
<line x1="549.10" y1="685.34" x2="549.10" y2="751.28" stroke="#9a9a9a" stroke-width="1.0"/>
<rect x="521.60" y="711.69" width="55.00" height="18.40" fill="#0b5f55" stroke="#08403a" stroke-width="0.85"/>
<line x1="521.60" y1="719.09" x2="576.60" y2="719.09" stroke="#022b26" stroke-width="1.25"/>
<g fill="#000"><circle cx="479.06" cy="709.33" r="0.72"/><circle cx="472.08" cy="694.37" r="0.72"/><circle cx="480.99" cy="637.33" r="0.72"/><circle cx="484.04" cy="694.27" r="0.72"/><circle cx="472.17" cy="688.09" r="0.72"/><circle cx="480.59" cy="703.10" r="0.72"/><circle cx="467.43" cy="684.79" r="0.72"/><circle cx="468.97" cy="675.63" r="0.72"/><circle cx="470.76" cy="692.89" r="0.72"/><circle cx="478.16" cy="668.72" r="0.72"/><circle cx="471.73" cy="683.70" r="0.72"/><circle cx="480.55" cy="670.25" r="0.72"/><circle cx="480.47" cy="702.85" r="0.72"/><circle cx="478.08" cy="673.39" r="0.72"/><circle cx="484.02" cy="656.56" r="0.72"/><circle cx="479.55" cy="653.74" r="0.72"/><circle cx="475.84" cy="678.57" r="0.72"/><circle cx="472.76" cy="662.94" r="0.72"/><circle cx="478.15" cy="687.62" r="0.72"/><circle cx="480.66" cy="689.76" r="0.72"/><circle cx="484.63" cy="674.85" r="0.72"/><circle cx="480.76" cy="660.62" r="0.72"/><circle cx="478.26" cy="674.05" r="0.72"/><circle cx="479.31" cy="697.05" r="0.72"/><circle cx="484.26" cy="656.22" r="0.72"/><circle cx="483.85" cy="653.87" r="0.72"/><circle cx="474.18" cy="699.59" r="0.72"/><circle cx="485.46" cy="698.73" r="0.72"/><circle cx="474.48" cy="667.03" r="0.72"/><circle cx="467.23" cy="702.99" r="0.72"/><circle cx="473.87" cy="712.94" r="0.72"/><circle cx="467.75" cy="667.30" r="0.72"/><circle cx="484.34" cy="677.93" r="0.72"/><circle cx="473.84" cy="688.13" r="0.72"/><circle cx="467.94" cy="678.51" r="0.72"/><circle cx="468.86" cy="655.77" r="0.72"/><circle cx="467.11" cy="696.79" r="0.72"/><circle cx="469.08" cy="657.24" r="0.72"/><circle cx="484.15" cy="666.81" r="0.72"/><circle cx="469.45" cy="653.05" r="0.72"/><circle cx="483.46" cy="687.59" r="0.72"/><circle cx="466.43" cy="681.33" r="0.72"/><circle cx="468.61" cy="686.17" r="0.72"/><circle cx="473.97" cy="678.61" r="0.72"/><circle cx="477.93" cy="685.92" r="0.72"/><circle cx="485.31" cy="685.58" r="0.72"/><circle cx="477.56" cy="703.24" r="0.72"/><circle cx="473.01" cy="665.07" r="0.72"/><circle cx="470.47" cy="670.31" r="0.72"/><circle cx="478.24" cy="661.57" r="0.72"/><circle cx="470.27" cy="656.64" r="0.72"/><circle cx="480.75" cy="670.59" r="0.72"/><circle cx="471.09" cy="654.76" r="0.72"/><circle cx="475.02" cy="679.90" r="0.72"/><circle cx="474.62" cy="651.29" r="0.72"/><circle cx="468.61" cy="696.26" r="0.72"/><circle cx="475.27" cy="656.34" r="0.72"/><circle cx="472.44" cy="655.92" r="0.72"/><circle cx="467.32" cy="694.11" r="0.72"/><circle cx="483.48" cy="676.54" r="0.72"/><circle cx="472.36" cy="689.95" r="0.72"/><circle cx="468.26" cy="690.02" r="0.72"/><circle cx="485.70" cy="703.87" r="0.72"/><circle cx="466.77" cy="676.51" r="0.72"/><circle cx="478.05" cy="665.14" r="0.72"/><circle cx="474.81" cy="666.39" r="0.72"/><circle cx="468.89" cy="674.02" r="0.72"/><circle cx="475.70" cy="685.30" r="0.72"/><circle cx="474.58" cy="669.26" r="0.72"/><circle cx="482.47" cy="664.09" r="0.72"/><circle cx="479.70" cy="655.28" r="0.72"/><circle cx="473.88" cy="682.79" r="0.72"/><circle cx="466.82" cy="694.42" r="0.72"/><circle cx="484.26" cy="699.12" r="0.72"/><circle cx="481.21" cy="693.53" r="0.72"/><circle cx="484.05" cy="690.29" r="0.72"/><circle cx="468.00" cy="666.61" r="0.72"/><circle cx="477.41" cy="677.41" r="0.72"/><circle cx="485.12" cy="650.35" r="0.72"/><circle cx="469.01" cy="688.12" r="0.72"/><circle cx="474.29" cy="667.38" r="0.72"/><circle cx="481.22" cy="685.07" r="0.72"/><circle cx="481.77" cy="663.07" r="0.72"/><circle cx="481.54" cy="700.75" r="0.72"/><circle cx="471.64" cy="682.04" r="0.72"/><circle cx="480.53" cy="676.74" r="0.72"/><circle cx="482.26" cy="687.46" r="0.72"/><circle cx="473.02" cy="650.06" r="0.72"/><circle cx="471.75" cy="677.13" r="0.72"/><circle cx="474.74" cy="672.39" r="0.72"/><circle cx="465.93" cy="656.17" r="0.72"/><circle cx="475.42" cy="671.07" r="0.72"/><circle cx="474.57" cy="648.60" r="0.72"/><circle cx="480.29" cy="638.92" r="0.72"/><circle cx="473.81" cy="682.43" r="0.72"/><circle cx="482.61" cy="688.60" r="0.72"/><circle cx="473.63" cy="672.64" r="0.72"/><circle cx="473.25" cy="698.19" r="0.72"/><circle cx="476.97" cy="695.69" r="0.72"/><circle cx="472.44" cy="664.36" r="0.72"/><circle cx="469.63" cy="670.63" r="0.72"/><circle cx="470.36" cy="674.69" r="0.72"/><circle cx="475.62" cy="684.42" r="0.72"/><circle cx="484.15" cy="650.75" r="0.72"/><circle cx="477.54" cy="661.69" r="0.72"/><circle cx="482.65" cy="683.32" r="0.72"/><circle cx="484.59" cy="693.28" r="0.72"/><circle cx="474.13" cy="682.59" r="0.72"/><circle cx="472.18" cy="671.99" r="0.72"/><circle cx="475.80" cy="643.14" r="0.72"/><circle cx="466.99" cy="671.88" r="0.72"/><circle cx="481.33" cy="674.81" r="0.72"/><circle cx="482.80" cy="676.76" r="0.72"/><circle cx="475.99" cy="675.77" r="0.72"/><circle cx="469.70" cy="668.75" r="0.72"/><circle cx="477.09" cy="686.12" r="0.72"/><circle cx="468.25" cy="694.50" r="0.72"/><circle cx="474.90" cy="701.98" r="0.72"/><circle cx="468.75" cy="648.15" r="0.72"/><circle cx="479.61" cy="680.73" r="0.72"/><circle cx="485.66" cy="678.56" r="0.72"/><circle cx="470.69" cy="654.92" r="0.72"/><circle cx="467.18" cy="672.99" r="0.72"/><circle cx="480.77" cy="683.01" r="0.72"/><circle cx="473.79" cy="676.04" r="0.72"/><circle cx="474.14" cy="669.02" r="0.72"/><circle cx="484.04" cy="675.32" r="0.72"/><circle cx="476.77" cy="674.63" r="0.72"/><circle cx="481.44" cy="669.98" r="0.72"/><circle cx="480.47" cy="689.71" r="0.72"/><circle cx="471.66" cy="663.27" r="0.72"/><circle cx="474.83" cy="670.89" r="0.72"/><circle cx="471.75" cy="667.27" r="0.72"/><circle cx="485.66" cy="666.65" r="0.72"/><circle cx="466.67" cy="660.77" r="0.72"/><circle cx="467.76" cy="675.30" r="0.72"/><circle cx="468.62" cy="673.87" r="0.72"/><circle cx="471.07" cy="683.06" r="0.72"/><circle cx="466.26" cy="674.00" r="0.72"/><circle cx="482.84" cy="683.68" r="0.72"/><circle cx="472.75" cy="686.12" r="0.72"/><circle cx="482.74" cy="681.47" r="0.72"/><circle cx="477.43" cy="684.23" r="0.72"/><circle cx="477.67" cy="671.37" r="0.72"/><circle cx="471.48" cy="684.93" r="0.72"/><circle cx="467.87" cy="682.54" r="0.72"/><circle cx="470.78" cy="671.36" r="0.72"/><circle cx="483.41" cy="693.08" r="0.72"/><circle cx="472.47" cy="669.75" r="0.72"/><circle cx="481.92" cy="680.40" r="0.72"/><circle cx="484.10" cy="662.69" r="0.72"/><circle cx="479.74" cy="670.05" r="0.72"/><circle cx="480.80" cy="678.96" r="0.72"/><circle cx="480.63" cy="688.42" r="0.72"/><circle cx="468.23" cy="685.98" r="0.72"/><circle cx="483.33" cy="690.60" r="0.72"/><circle cx="479.47" cy="662.06" r="0.72"/><circle cx="472.05" cy="669.26" r="0.72"/><circle cx="475.48" cy="684.52" r="0.72"/><circle cx="480.65" cy="678.52" r="0.72"/><circle cx="483.91" cy="683.85" r="0.72"/><circle cx="470.93" cy="662.71" r="0.72"/><circle cx="472.52" cy="696.58" r="0.72"/><circle cx="471.46" cy="702.42" r="0.72"/><circle cx="482.01" cy="688.86" r="0.72"/><circle cx="469.27" cy="709.76" r="0.72"/><circle cx="479.28" cy="661.66" r="0.72"/><circle cx="484.38" cy="698.08" r="0.72"/><circle cx="476.57" cy="676.59" r="0.72"/><circle cx="472.80" cy="681.78" r="0.72"/><circle cx="466.74" cy="679.99" r="0.72"/><circle cx="467.48" cy="671.95" r="0.72"/><circle cx="478.34" cy="674.16" r="0.72"/><circle cx="473.08" cy="676.34" r="0.72"/><circle cx="466.19" cy="709.26" r="0.72"/><circle cx="468.25" cy="688.08" r="0.72"/><circle cx="479.65" cy="659.56" r="0.72"/><circle cx="483.62" cy="672.05" r="0.72"/><circle cx="474.90" cy="657.27" r="0.72"/><circle cx="479.85" cy="662.21" r="0.72"/><circle cx="485.74" cy="691.05" r="0.72"/><circle cx="469.65" cy="677.60" r="0.72"/><circle cx="475.27" cy="671.87" r="0.72"/><circle cx="473.14" cy="695.37" r="0.72"/><circle cx="475.88" cy="675.05" r="0.72"/><circle cx="470.83" cy="673.48" r="0.72"/><circle cx="483.66" cy="685.74" r="0.72"/><circle cx="472.42" cy="686.05" r="0.72"/><circle cx="480.57" cy="670.22" r="0.72"/><circle cx="485.80" cy="685.82" r="0.72"/><circle cx="481.18" cy="685.40" r="0.72"/><circle cx="477.04" cy="687.52" r="0.72"/><circle cx="485.80" cy="661.18" r="0.72"/><circle cx="481.78" cy="688.78" r="0.72"/><circle cx="471.42" cy="699.47" r="0.72"/><circle cx="474.68" cy="649.42" r="0.72"/><circle cx="469.58" cy="695.81" r="0.72"/><circle cx="480.22" cy="671.20" r="0.72"/><circle cx="484.70" cy="664.98" r="0.72"/><circle cx="468.84" cy="671.82" r="0.72"/><circle cx="475.90" cy="717.41" r="0.72"/></g>
<g fill="#000"><circle cx="556.71" cy="697.50" r="0.72"/><circle cx="540.72" cy="720.59" r="0.72"/><circle cx="543.14" cy="710.21" r="0.72"/><circle cx="557.66" cy="715.87" r="0.72"/><circle cx="541.14" cy="710.85" r="0.72"/><circle cx="551.65" cy="705.56" r="0.72"/><circle cx="552.04" cy="720.06" r="0.72"/><circle cx="555.37" cy="703.61" r="0.72"/><circle cx="558.88" cy="731.44" r="0.72"/><circle cx="543.13" cy="701.08" r="0.72"/><circle cx="548.78" cy="716.55" r="0.72"/><circle cx="547.22" cy="714.13" r="0.72"/><circle cx="543.79" cy="723.48" r="0.72"/><circle cx="554.80" cy="727.85" r="0.72"/><circle cx="551.05" cy="728.30" r="0.72"/><circle cx="554.91" cy="695.30" r="0.72"/><circle cx="542.92" cy="715.00" r="0.72"/><circle cx="551.39" cy="706.14" r="0.72"/><circle cx="541.83" cy="701.09" r="0.72"/><circle cx="552.00" cy="691.04" r="0.72"/><circle cx="548.02" cy="702.57" r="0.72"/><circle cx="554.75" cy="705.49" r="0.72"/><circle cx="546.85" cy="730.38" r="0.72"/><circle cx="542.81" cy="718.01" r="0.72"/><circle cx="558.52" cy="714.37" r="0.72"/><circle cx="557.50" cy="721.87" r="0.72"/><circle cx="544.99" cy="717.18" r="0.72"/><circle cx="540.52" cy="714.21" r="0.72"/><circle cx="558.99" cy="723.54" r="0.72"/><circle cx="549.13" cy="703.28" r="0.72"/><circle cx="546.54" cy="746.90" r="0.72"/><circle cx="547.65" cy="707.23" r="0.72"/><circle cx="541.12" cy="727.66" r="0.72"/><circle cx="542.33" cy="710.60" r="0.72"/><circle cx="551.49" cy="721.10" r="0.72"/><circle cx="552.29" cy="721.07" r="0.72"/><circle cx="551.80" cy="707.24" r="0.72"/><circle cx="553.34" cy="693.50" r="0.72"/><circle cx="540.61" cy="708.99" r="0.72"/><circle cx="541.47" cy="732.34" r="0.72"/><circle cx="550.11" cy="732.98" r="0.72"/><circle cx="551.70" cy="718.10" r="0.72"/><circle cx="553.22" cy="715.04" r="0.72"/><circle cx="550.29" cy="715.64" r="0.72"/><circle cx="552.38" cy="724.96" r="0.72"/><circle cx="556.27" cy="713.56" r="0.72"/><circle cx="554.95" cy="707.91" r="0.72"/><circle cx="539.84" cy="736.54" r="0.72"/><circle cx="558.41" cy="715.40" r="0.72"/><circle cx="555.27" cy="712.04" r="0.72"/><circle cx="555.51" cy="724.76" r="0.72"/><circle cx="552.96" cy="728.57" r="0.72"/><circle cx="544.32" cy="688.14" r="0.72"/><circle cx="551.04" cy="700.10" r="0.72"/><circle cx="558.90" cy="742.80" r="0.72"/><circle cx="556.68" cy="710.82" r="0.72"/><circle cx="556.26" cy="718.73" r="0.72"/><circle cx="545.34" cy="743.87" r="0.72"/><circle cx="554.60" cy="695.63" r="0.72"/><circle cx="558.16" cy="689.92" r="0.72"/><circle cx="548.90" cy="715.89" r="0.72"/><circle cx="556.68" cy="721.70" r="0.72"/><circle cx="547.38" cy="749.94" r="0.72"/><circle cx="554.19" cy="711.53" r="0.72"/><circle cx="557.20" cy="728.49" r="0.72"/><circle cx="542.01" cy="733.40" r="0.72"/><circle cx="553.81" cy="723.36" r="0.72"/><circle cx="541.54" cy="696.66" r="0.72"/><circle cx="548.05" cy="728.16" r="0.72"/><circle cx="551.91" cy="689.05" r="0.72"/><circle cx="554.50" cy="733.33" r="0.72"/><circle cx="550.56" cy="733.21" r="0.72"/><circle cx="539.70" cy="727.94" r="0.72"/><circle cx="553.56" cy="723.24" r="0.72"/><circle cx="543.75" cy="727.96" r="0.72"/><circle cx="547.11" cy="705.35" r="0.72"/><circle cx="544.64" cy="721.03" r="0.72"/><circle cx="544.38" cy="743.55" r="0.72"/><circle cx="542.79" cy="720.18" r="0.72"/><circle cx="549.02" cy="691.92" r="0.72"/><circle cx="549.10" cy="707.70" r="0.72"/><circle cx="545.14" cy="697.14" r="0.72"/><circle cx="544.61" cy="687.02" r="0.72"/><circle cx="540.85" cy="703.17" r="0.72"/><circle cx="542.39" cy="706.43" r="0.72"/><circle cx="547.57" cy="749.39" r="0.72"/><circle cx="545.49" cy="703.33" r="0.72"/><circle cx="550.75" cy="730.01" r="0.72"/><circle cx="549.88" cy="722.05" r="0.72"/><circle cx="545.81" cy="730.50" r="0.72"/><circle cx="552.59" cy="720.82" r="0.72"/><circle cx="542.57" cy="707.30" r="0.72"/><circle cx="547.01" cy="733.73" r="0.72"/><circle cx="553.66" cy="740.94" r="0.72"/><circle cx="545.37" cy="722.18" r="0.72"/><circle cx="543.58" cy="705.55" r="0.72"/><circle cx="540.64" cy="706.72" r="0.72"/><circle cx="551.33" cy="712.59" r="0.72"/><circle cx="543.15" cy="721.01" r="0.72"/><circle cx="540.12" cy="721.98" r="0.72"/><circle cx="544.91" cy="715.55" r="0.72"/><circle cx="551.22" cy="741.75" r="0.72"/><circle cx="540.42" cy="728.96" r="0.72"/><circle cx="540.35" cy="730.09" r="0.72"/><circle cx="557.13" cy="692.71" r="0.72"/><circle cx="555.62" cy="701.13" r="0.72"/><circle cx="553.77" cy="707.47" r="0.72"/><circle cx="552.25" cy="742.52" r="0.72"/><circle cx="545.28" cy="738.76" r="0.72"/><circle cx="541.96" cy="730.09" r="0.72"/><circle cx="544.58" cy="711.75" r="0.72"/><circle cx="543.20" cy="713.94" r="0.72"/><circle cx="546.46" cy="729.63" r="0.72"/><circle cx="553.04" cy="720.84" r="0.72"/><circle cx="550.54" cy="735.48" r="0.72"/><circle cx="553.67" cy="696.69" r="0.72"/><circle cx="543.37" cy="722.68" r="0.72"/><circle cx="542.40" cy="724.07" r="0.72"/><circle cx="547.00" cy="709.61" r="0.72"/><circle cx="558.77" cy="713.97" r="0.72"/><circle cx="553.82" cy="701.28" r="0.72"/><circle cx="541.08" cy="727.05" r="0.72"/><circle cx="539.20" cy="716.70" r="0.72"/><circle cx="547.40" cy="700.37" r="0.72"/><circle cx="557.94" cy="706.97" r="0.72"/><circle cx="543.38" cy="703.22" r="0.72"/><circle cx="557.12" cy="743.41" r="0.72"/><circle cx="544.80" cy="726.84" r="0.72"/><circle cx="545.32" cy="725.81" r="0.72"/><circle cx="539.25" cy="699.34" r="0.72"/><circle cx="546.80" cy="726.39" r="0.72"/><circle cx="558.21" cy="716.72" r="0.72"/><circle cx="554.84" cy="710.60" r="0.72"/><circle cx="552.54" cy="697.26" r="0.72"/><circle cx="545.42" cy="733.94" r="0.72"/><circle cx="558.97" cy="740.65" r="0.72"/><circle cx="557.68" cy="741.27" r="0.72"/><circle cx="541.76" cy="713.65" r="0.72"/><circle cx="547.71" cy="721.52" r="0.72"/><circle cx="545.45" cy="736.58" r="0.72"/><circle cx="548.93" cy="727.36" r="0.72"/><circle cx="554.74" cy="721.79" r="0.72"/><circle cx="551.50" cy="717.15" r="0.72"/><circle cx="552.71" cy="733.46" r="0.72"/><circle cx="547.48" cy="716.95" r="0.72"/><circle cx="543.08" cy="701.95" r="0.72"/><circle cx="542.05" cy="705.98" r="0.72"/><circle cx="550.67" cy="693.52" r="0.72"/><circle cx="541.95" cy="714.51" r="0.72"/><circle cx="555.62" cy="722.29" r="0.72"/><circle cx="558.05" cy="704.12" r="0.72"/><circle cx="556.53" cy="726.83" r="0.72"/><circle cx="550.08" cy="710.38" r="0.72"/><circle cx="558.98" cy="732.69" r="0.72"/><circle cx="558.04" cy="694.90" r="0.72"/><circle cx="557.77" cy="718.79" r="0.72"/><circle cx="555.89" cy="719.87" r="0.72"/><circle cx="539.79" cy="712.87" r="0.72"/><circle cx="547.65" cy="720.38" r="0.72"/><circle cx="554.08" cy="713.79" r="0.72"/><circle cx="553.68" cy="726.92" r="0.72"/><circle cx="555.80" cy="708.79" r="0.72"/><circle cx="546.37" cy="717.51" r="0.72"/><circle cx="546.40" cy="715.09" r="0.72"/><circle cx="542.69" cy="704.50" r="0.72"/><circle cx="555.44" cy="693.68" r="0.72"/><circle cx="553.11" cy="731.04" r="0.72"/><circle cx="539.35" cy="730.20" r="0.72"/><circle cx="554.91" cy="708.56" r="0.72"/><circle cx="558.64" cy="726.99" r="0.72"/><circle cx="548.75" cy="712.56" r="0.72"/><circle cx="551.97" cy="736.27" r="0.72"/><circle cx="540.24" cy="725.27" r="0.72"/><circle cx="542.71" cy="690.32" r="0.72"/><circle cx="539.87" cy="719.78" r="0.72"/><circle cx="543.97" cy="729.62" r="0.72"/><circle cx="550.93" cy="748.31" r="0.72"/><circle cx="556.35" cy="705.77" r="0.72"/><circle cx="542.33" cy="720.35" r="0.72"/><circle cx="558.05" cy="723.04" r="0.72"/><circle cx="544.13" cy="715.05" r="0.72"/><circle cx="542.69" cy="713.55" r="0.72"/><circle cx="548.60" cy="746.61" r="0.72"/><circle cx="558.24" cy="719.32" r="0.72"/><circle cx="557.52" cy="726.40" r="0.72"/><circle cx="548.75" cy="731.34" r="0.72"/><circle cx="553.61" cy="721.05" r="0.72"/><circle cx="544.56" cy="720.43" r="0.72"/><circle cx="552.54" cy="698.23" r="0.72"/><circle cx="539.60" cy="695.71" r="0.72"/><circle cx="550.82" cy="716.11" r="0.72"/><circle cx="543.09" cy="725.26" r="0.72"/><circle cx="552.79" cy="725.24" r="0.72"/><circle cx="556.20" cy="719.38" r="0.72"/><circle cx="549.64" cy="719.57" r="0.72"/><circle cx="544.82" cy="700.58" r="0.72"/><circle cx="555.14" cy="703.67" r="0.72"/><circle cx="550.50" cy="713.44" r="0.72"/><circle cx="548.08" cy="726.75" r="0.72"/><circle cx="539.50" cy="715.32" r="0.72"/><circle cx="555.70" cy="708.45" r="0.72"/><circle cx="541.45" cy="718.61" r="0.72"/><circle cx="557.59" cy="707.33" r="0.72"/><circle cx="543.54" cy="696.39" r="0.72"/><circle cx="558.60" cy="688.70" r="0.72"/><circle cx="540.59" cy="737.55" r="0.72"/><circle cx="551.11" cy="720.18" r="0.72"/><circle cx="539.70" cy="724.68" r="0.72"/><circle cx="542.55" cy="721.21" r="0.72"/><circle cx="539.39" cy="727.34" r="0.72"/><circle cx="552.18" cy="724.53" r="0.72"/><circle cx="545.40" cy="713.34" r="0.72"/><circle cx="556.82" cy="704.94" r="0.72"/><circle cx="552.23" cy="725.34" r="0.72"/><circle cx="552.32" cy="719.20" r="0.72"/><circle cx="554.06" cy="688.70" r="0.72"/><circle cx="548.78" cy="716.80" r="0.72"/><circle cx="554.01" cy="747.75" r="0.72"/><circle cx="540.12" cy="738.18" r="0.72"/><circle cx="544.74" cy="696.60" r="0.72"/></g>
<text x="261.20" y="427.50" font-size="10" text-anchor="middle" font-weight="normal" fill="#000" >*</text>
<text x="551.00" y="484.70" font-size="9" text-anchor="middle" font-weight="normal" fill="#000" >****</text>
<text x="261.20" y="658.10" font-size="9" text-anchor="middle" font-weight="normal" fill="#000" >****</text>
<text x="550.20" y="671.60" font-size="9" text-anchor="middle" font-weight="normal" fill="#000" >****</text>
<line x1="74.10" y1="501.50" x2="79.10" y2="501.50" stroke="#444" stroke-width="0.95"/>
<line x1="73.05" y1="504.05" x2="76.58" y2="507.58" stroke="#333" stroke-width="0.95"/>
<line x1="70.50" y1="505.10" x2="70.50" y2="510.10" stroke="#444" stroke-width="0.95"/>
<line x1="67.95" y1="504.05" x2="64.42" y2="507.58" stroke="#333" stroke-width="0.95"/>
<line x1="66.90" y1="501.50" x2="61.90" y2="501.50" stroke="#444" stroke-width="0.95"/>
<line x1="67.95" y1="498.95" x2="64.42" y2="495.42" stroke="#333" stroke-width="0.95"/>
<line x1="70.50" y1="497.90" x2="70.50" y2="492.90" stroke="#444" stroke-width="0.95"/>
<line x1="73.05" y1="498.95" x2="76.58" y2="495.42" stroke="#333" stroke-width="0.95"/>
<circle cx="70.50" cy="501.50" r="2.75" fill="#fff" stroke="#000" stroke-width="1.2"/>
<line x1="96.10" y1="501.50" x2="101.10" y2="501.50" stroke="#444" stroke-width="0.95"/>
<line x1="95.05" y1="504.05" x2="98.58" y2="507.58" stroke="#333" stroke-width="0.95"/>
<line x1="92.50" y1="505.10" x2="92.50" y2="510.10" stroke="#444" stroke-width="0.95"/>
<line x1="89.95" y1="504.05" x2="86.42" y2="507.58" stroke="#333" stroke-width="0.95"/>
<line x1="88.90" y1="501.50" x2="83.90" y2="501.50" stroke="#444" stroke-width="0.95"/>
<line x1="89.95" y1="498.95" x2="86.42" y2="495.42" stroke="#333" stroke-width="0.95"/>
<line x1="92.50" y1="497.90" x2="92.50" y2="492.90" stroke="#444" stroke-width="0.95"/>
<line x1="95.05" y1="498.95" x2="98.58" y2="495.42" stroke="#333" stroke-width="0.95"/>
<circle cx="92.50" cy="501.50" r="2.75" fill="#fff" stroke="#000" stroke-width="1.2"/>
<line x1="84.60" y1="492.90" x2="78.40" y2="509.90" stroke="#111" stroke-width="1.3"/>
<line x1="73.10" y1="695.50" x2="78.10" y2="695.50" stroke="#444" stroke-width="0.95"/>
<line x1="72.05" y1="698.05" x2="75.58" y2="701.58" stroke="#333" stroke-width="0.95"/>
<line x1="69.50" y1="699.10" x2="69.50" y2="704.10" stroke="#444" stroke-width="0.95"/>
<line x1="66.95" y1="698.05" x2="63.42" y2="701.58" stroke="#333" stroke-width="0.95"/>
<line x1="65.90" y1="695.50" x2="60.90" y2="695.50" stroke="#444" stroke-width="0.95"/>
<line x1="66.95" y1="692.95" x2="63.42" y2="689.42" stroke="#333" stroke-width="0.95"/>
<line x1="69.50" y1="691.90" x2="69.50" y2="686.90" stroke="#444" stroke-width="0.95"/>
<line x1="72.05" y1="692.95" x2="75.58" y2="689.42" stroke="#333" stroke-width="0.95"/>
<circle cx="69.50" cy="695.50" r="2.75" fill="#fff" stroke="#000" stroke-width="1.2"/>
<line x1="96.10" y1="695.50" x2="101.10" y2="695.50" stroke="#444" stroke-width="0.95"/>
<line x1="95.05" y1="698.05" x2="98.58" y2="701.58" stroke="#333" stroke-width="0.95"/>
<line x1="92.50" y1="699.10" x2="92.50" y2="704.10" stroke="#444" stroke-width="0.95"/>
<line x1="89.95" y1="698.05" x2="86.42" y2="701.58" stroke="#333" stroke-width="0.95"/>
<line x1="88.90" y1="695.50" x2="83.90" y2="695.50" stroke="#444" stroke-width="0.95"/>
<line x1="89.95" y1="692.95" x2="86.42" y2="689.42" stroke="#333" stroke-width="0.95"/>
<line x1="92.50" y1="691.90" x2="92.50" y2="686.90" stroke="#444" stroke-width="0.95"/>
<line x1="95.05" y1="692.95" x2="98.58" y2="689.42" stroke="#333" stroke-width="0.95"/>
<circle cx="92.50" cy="695.50" r="3.25" fill="#000"/>
<line x1="84.10" y1="687.20" x2="77.90" y2="704.20" stroke="#111" stroke-width="1.3"/>
<line x1="338.10" y1="496.50" x2="343.10" y2="496.50" stroke="#444" stroke-width="0.95"/>
<line x1="337.05" y1="499.05" x2="340.58" y2="502.58" stroke="#333" stroke-width="0.95"/>
<line x1="334.50" y1="500.10" x2="334.50" y2="505.10" stroke="#444" stroke-width="0.95"/>
<line x1="331.95" y1="499.05" x2="328.42" y2="502.58" stroke="#333" stroke-width="0.95"/>
<line x1="330.90" y1="496.50" x2="325.90" y2="496.50" stroke="#444" stroke-width="0.95"/>
<line x1="331.95" y1="493.95" x2="328.42" y2="490.42" stroke="#333" stroke-width="0.95"/>
<line x1="334.50" y1="492.90" x2="334.50" y2="487.90" stroke="#444" stroke-width="0.95"/>
<line x1="337.05" y1="493.95" x2="340.58" y2="490.42" stroke="#333" stroke-width="0.95"/>
<circle cx="334.50" cy="496.50" r="3.25" fill="#000"/>
<line x1="360.10" y1="496.50" x2="365.10" y2="496.50" stroke="#444" stroke-width="0.95"/>
<line x1="359.05" y1="499.05" x2="362.58" y2="502.58" stroke="#333" stroke-width="0.95"/>
<line x1="356.50" y1="500.10" x2="356.50" y2="505.10" stroke="#444" stroke-width="0.95"/>
<line x1="353.95" y1="499.05" x2="350.42" y2="502.58" stroke="#333" stroke-width="0.95"/>
<line x1="352.90" y1="496.50" x2="347.90" y2="496.50" stroke="#444" stroke-width="0.95"/>
<line x1="353.95" y1="493.95" x2="350.42" y2="490.42" stroke="#333" stroke-width="0.95"/>
<line x1="356.50" y1="492.90" x2="356.50" y2="487.90" stroke="#444" stroke-width="0.95"/>
<line x1="359.05" y1="493.95" x2="362.58" y2="490.42" stroke="#333" stroke-width="0.95"/>
<circle cx="356.50" cy="496.50" r="3.25" fill="#000"/>
<line x1="348.70" y1="487.50" x2="342.50" y2="504.50" stroke="#111" stroke-width="1.3"/>
<line x1="317" y1="511.5" x2="371" y2="511.5" stroke="#000" stroke-width="3.5"/>
<polygon points="370,506 378.5,511.5 370,517" fill="#000"/>
<line x1="339.10" y1="697.50" x2="344.10" y2="697.50" stroke="#444" stroke-width="0.95"/>
<line x1="338.05" y1="700.05" x2="341.58" y2="703.58" stroke="#333" stroke-width="0.95"/>
<line x1="335.50" y1="701.10" x2="335.50" y2="706.10" stroke="#444" stroke-width="0.95"/>
<line x1="332.95" y1="700.05" x2="329.42" y2="703.58" stroke="#333" stroke-width="0.95"/>
<line x1="331.90" y1="697.50" x2="326.90" y2="697.50" stroke="#444" stroke-width="0.95"/>
<line x1="332.95" y1="694.95" x2="329.42" y2="691.42" stroke="#333" stroke-width="0.95"/>
<line x1="335.50" y1="693.90" x2="335.50" y2="688.90" stroke="#444" stroke-width="0.95"/>
<line x1="338.05" y1="694.95" x2="341.58" y2="691.42" stroke="#333" stroke-width="0.95"/>
<circle cx="335.50" cy="697.50" r="3.25" fill="#000"/>
<line x1="361.10" y1="697.50" x2="366.10" y2="697.50" stroke="#444" stroke-width="0.95"/>
<line x1="360.05" y1="700.05" x2="363.58" y2="703.58" stroke="#333" stroke-width="0.95"/>
<line x1="357.50" y1="701.10" x2="357.50" y2="706.10" stroke="#444" stroke-width="0.95"/>
<line x1="354.95" y1="700.05" x2="351.42" y2="703.58" stroke="#333" stroke-width="0.95"/>
<line x1="353.90" y1="697.50" x2="348.90" y2="697.50" stroke="#444" stroke-width="0.95"/>
<line x1="354.95" y1="694.95" x2="351.42" y2="691.42" stroke="#333" stroke-width="0.95"/>
<line x1="357.50" y1="693.90" x2="357.50" y2="688.90" stroke="#444" stroke-width="0.95"/>
<line x1="360.05" y1="694.95" x2="363.58" y2="691.42" stroke="#333" stroke-width="0.95"/>
<circle cx="357.50" cy="697.50" r="3.25" fill="#000"/>
<line x1="349.80" y1="689.30" x2="343.60" y2="706.30" stroke="#111" stroke-width="1.3"/>
<line x1="315.8" y1="716" x2="371" y2="716" stroke="#000" stroke-width="3.9"/>
<polygon points="369,710.5 376.9,716 369,721.2" fill="#000"/>
</svg>
</body></html>
